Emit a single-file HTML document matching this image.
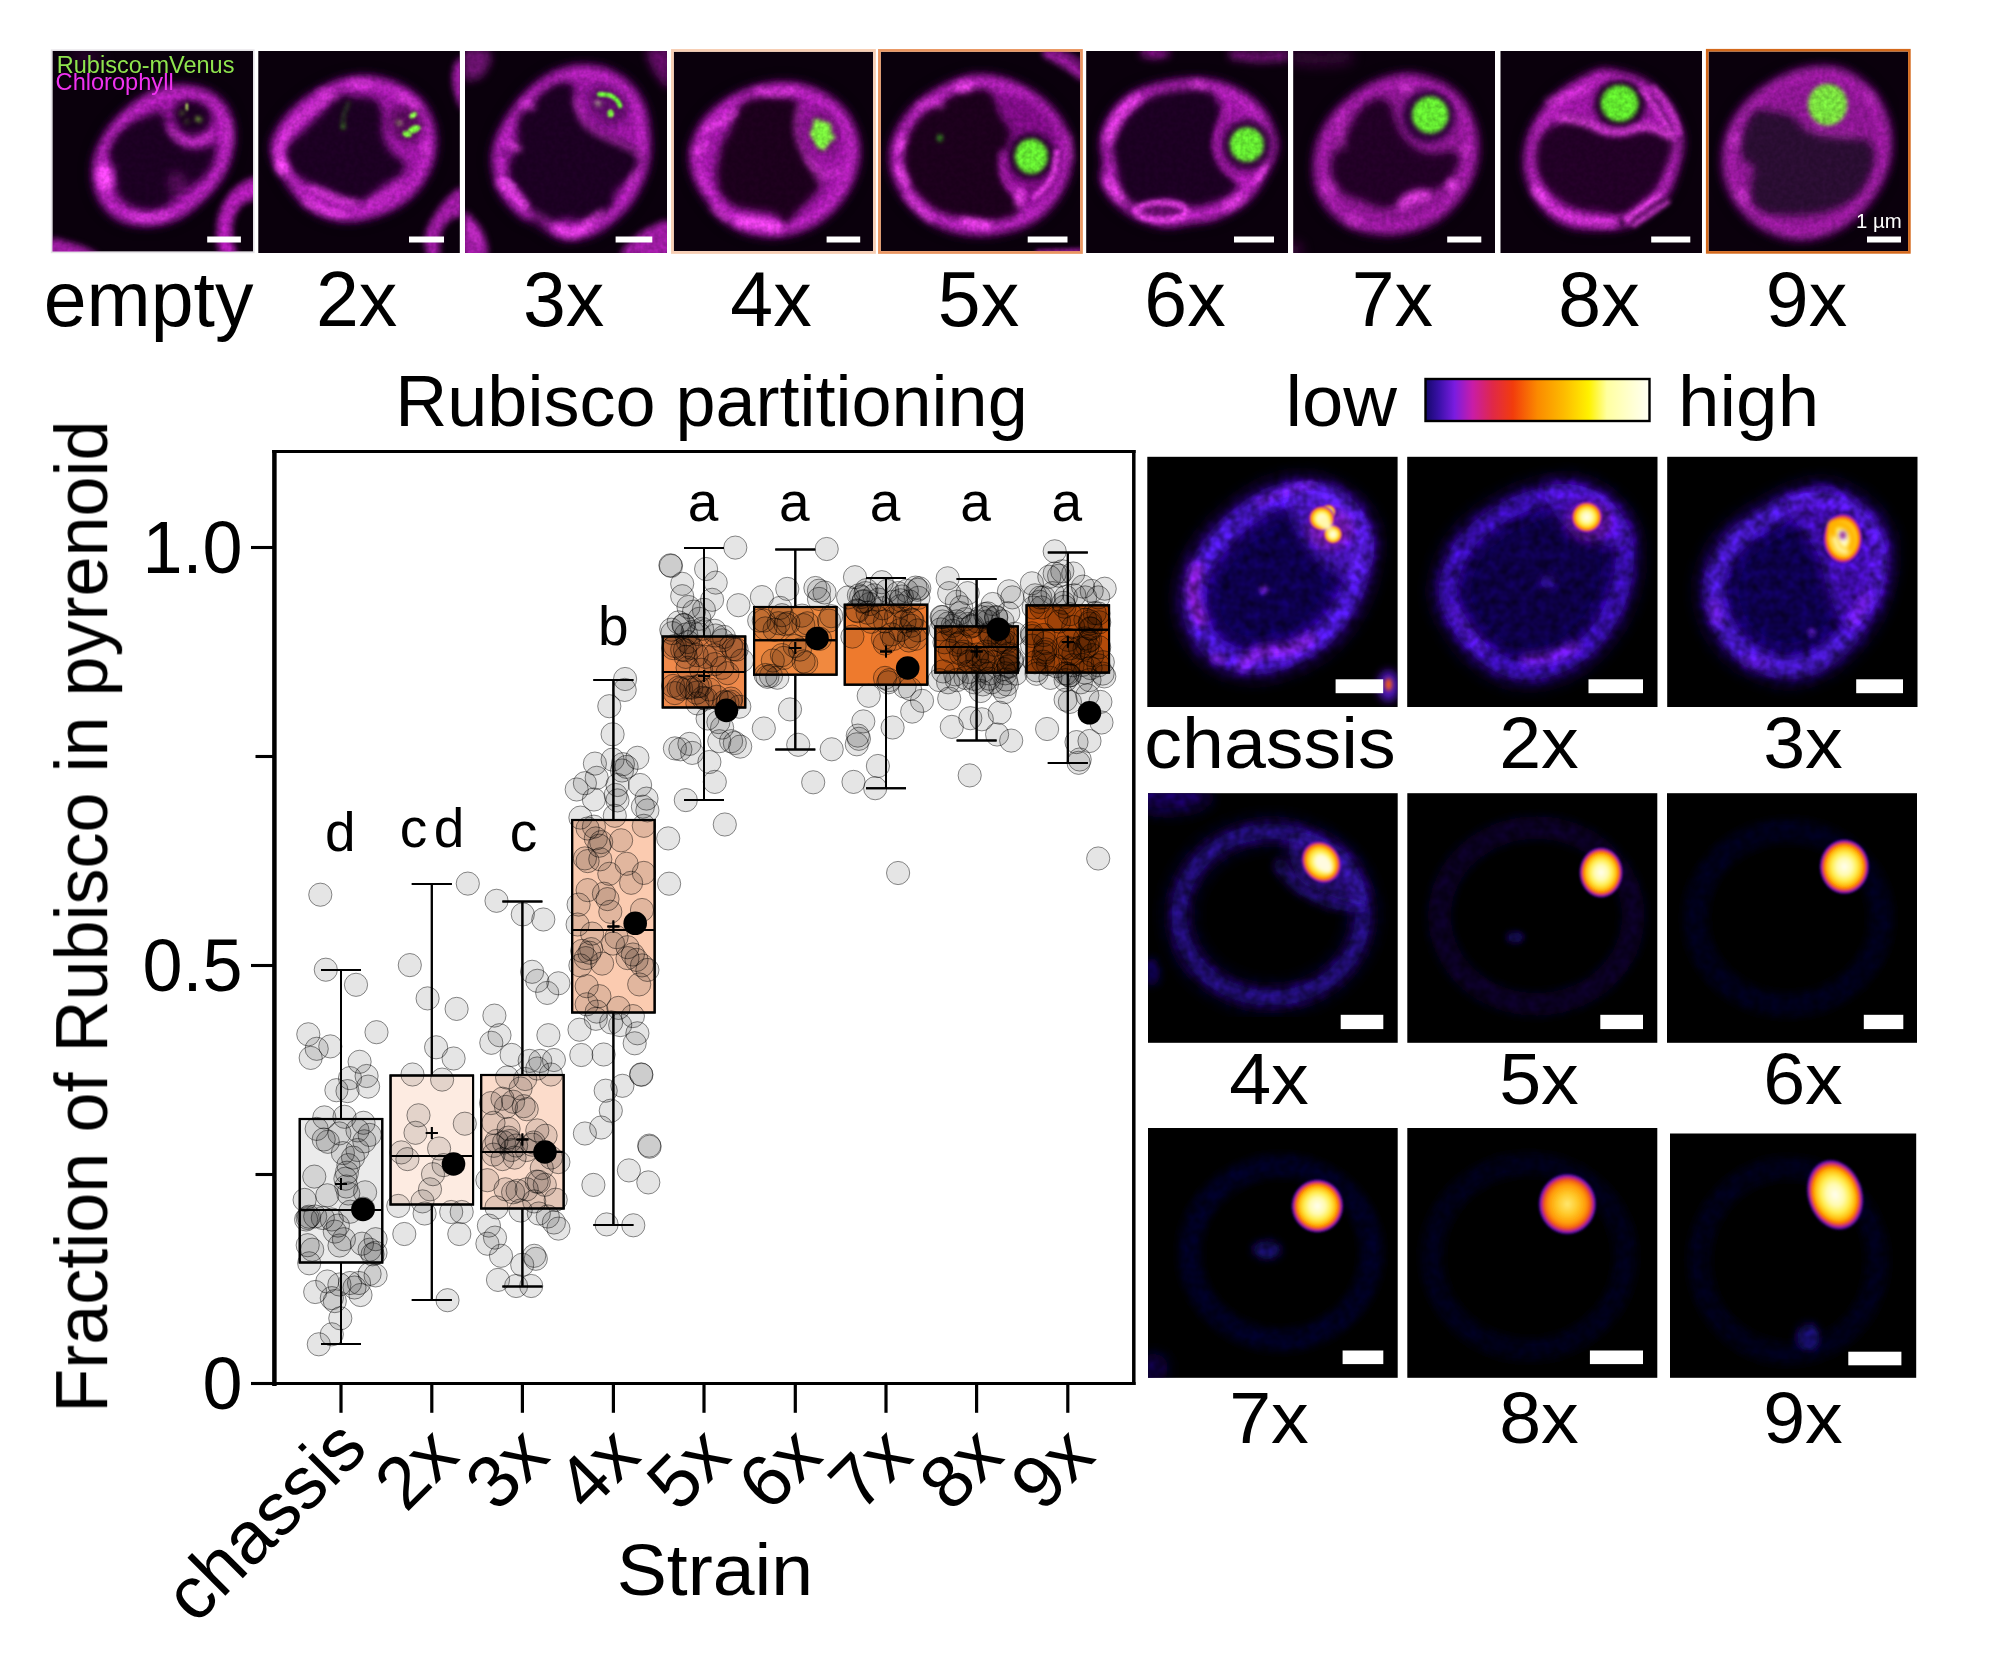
<!DOCTYPE html>
<html lang="en"><head><meta charset="utf-8"><title>Rubisco partitioning</title>
<style>html,body{margin:0;padding:0;background:#fff}svg{display:block}</style></head>
<body>
<svg width="2000" height="1655" viewBox="0 0 2000 1655" font-family='"Liberation Sans", Arial, sans-serif' fill="#000">
<defs>
<filter id="b1" x="-20%" y="-20%" width="140%" height="140%"><feGaussianBlur stdDeviation="1"/></filter>
<filter id="b2" x="-20%" y="-20%" width="140%" height="140%"><feGaussianBlur stdDeviation="2"/></filter>
<filter id="b3" x="-20%" y="-20%" width="140%" height="140%"><feGaussianBlur stdDeviation="3"/></filter>
<filter id="b4" x="-20%" y="-20%" width="140%" height="140%"><feGaussianBlur stdDeviation="4.5"/></filter>
<filter id="b6" x="-30%" y="-30%" width="160%" height="160%"><feGaussianBlur stdDeviation="7"/></filter>
<linearGradient id="fire" x1="0" x2="1" y1="0" y2="0"><stop offset="0" stop-color="#14086a"/><stop offset="0.06" stop-color="#3a10a8"/><stop offset="0.13" stop-color="#7a1ce0"/><stop offset="0.21" stop-color="#c81ca8"/><stop offset="0.30" stop-color="#e02848"/><stop offset="0.39" stop-color="#f23c0c"/><stop offset="0.50" stop-color="#fb8a00"/><stop offset="0.62" stop-color="#fdbc00"/><stop offset="0.73" stop-color="#fff200"/><stop offset="0.81" stop-color="#ffffa0"/><stop offset="0.92" stop-color="#ffffd2"/><stop offset="1" stop-color="#fffff4"/></linearGradient>
<radialGradient id="hot"><stop offset="0" stop-color="#fffef0"/><stop offset="0.30" stop-color="#fffbb0"/><stop offset="0.50" stop-color="#ffee50"/><stop offset="0.66" stop-color="#ffc414"/><stop offset="0.76" stop-color="#ff9000"/><stop offset="0.83" stop-color="#ee4a12"/><stop offset="0.89" stop-color="#b81e90"/><stop offset="0.95" stop-color="#5a14c8" stop-opacity=".85"/><stop offset="1" stop-color="#2a0a90" stop-opacity="0"/></radialGradient>
<radialGradient id="hot2"><stop offset="0" stop-color="#ffe870"/><stop offset="0.35" stop-color="#ffc828"/><stop offset="0.60" stop-color="#ffa008"/><stop offset="0.74" stop-color="#f8700a"/><stop offset="0.82" stop-color="#e03a30"/><stop offset="0.88" stop-color="#b01c98"/><stop offset="0.94" stop-color="#5a14c8" stop-opacity=".85"/><stop offset="1" stop-color="#2a0a90" stop-opacity="0"/></radialGradient>
</defs>
<rect width="2000" height="1655" fill="#fff"/>
<defs>
<clipPath id="tc0"><rect x="52.4" y="51" width="200.6" height="200.6"/></clipPath>
<filter id="t0b1" filterUnits="userSpaceOnUse" x="22" y="21" width="261" height="261"><feGaussianBlur stdDeviation="1"/></filter><filter id="t0b2" filterUnits="userSpaceOnUse" x="22" y="21" width="261" height="261"><feGaussianBlur stdDeviation="2"/></filter><filter id="t0b3" filterUnits="userSpaceOnUse" x="22" y="21" width="261" height="261"><feGaussianBlur stdDeviation="3"/></filter><filter id="t0b4" filterUnits="userSpaceOnUse" x="22" y="21" width="261" height="261"><feGaussianBlur stdDeviation="4.5"/></filter><filter id="t0b6" filterUnits="userSpaceOnUse" x="22" y="21" width="261" height="261"><feGaussianBlur stdDeviation="7"/></filter>
<filter id="tgr0" filterUnits="userSpaceOnUse" x="50" y="49" width="205" height="205" color-interpolation-filters="sRGB"><feTurbulence type="fractalNoise" baseFrequency="0.22" numOctaves="2" seed="11" result="n"/><feColorMatrix in="n" type="matrix" values="0 0 0 0 1 0 0 0 0 1 0 0 0 0 1 1.4 0 0 0 -0.2" result="a"/><feComposite in="SourceGraphic" in2="a" operator="arithmetic" k1="0.3" k2="0.85" k3="0" k4="0"/></filter>
<clipPath id="tc1"><rect x="258.3" y="51" width="201.5" height="202.0"/></clipPath>
<filter id="t1b1" filterUnits="userSpaceOnUse" x="228" y="21" width="262" height="262"><feGaussianBlur stdDeviation="1"/></filter><filter id="t1b2" filterUnits="userSpaceOnUse" x="228" y="21" width="262" height="262"><feGaussianBlur stdDeviation="2"/></filter><filter id="t1b3" filterUnits="userSpaceOnUse" x="228" y="21" width="262" height="262"><feGaussianBlur stdDeviation="3"/></filter><filter id="t1b4" filterUnits="userSpaceOnUse" x="228" y="21" width="262" height="262"><feGaussianBlur stdDeviation="4.5"/></filter><filter id="t1b6" filterUnits="userSpaceOnUse" x="228" y="21" width="262" height="262"><feGaussianBlur stdDeviation="7"/></filter>
<filter id="tgr1" filterUnits="userSpaceOnUse" x="256" y="49" width="206" height="206" color-interpolation-filters="sRGB"><feTurbulence type="fractalNoise" baseFrequency="0.22" numOctaves="2" seed="12" result="n"/><feColorMatrix in="n" type="matrix" values="0 0 0 0 1 0 0 0 0 1 0 0 0 0 1 1.4 0 0 0 -0.2" result="a"/><feComposite in="SourceGraphic" in2="a" operator="arithmetic" k1="0.3" k2="0.85" k3="0" k4="0"/></filter>
<clipPath id="tc2"><rect x="465" y="51" width="202.0" height="202.0"/></clipPath>
<filter id="t2b1" filterUnits="userSpaceOnUse" x="435" y="21" width="262" height="262"><feGaussianBlur stdDeviation="1"/></filter><filter id="t2b2" filterUnits="userSpaceOnUse" x="435" y="21" width="262" height="262"><feGaussianBlur stdDeviation="2"/></filter><filter id="t2b3" filterUnits="userSpaceOnUse" x="435" y="21" width="262" height="262"><feGaussianBlur stdDeviation="3"/></filter><filter id="t2b4" filterUnits="userSpaceOnUse" x="435" y="21" width="262" height="262"><feGaussianBlur stdDeviation="4.5"/></filter><filter id="t2b6" filterUnits="userSpaceOnUse" x="435" y="21" width="262" height="262"><feGaussianBlur stdDeviation="7"/></filter>
<filter id="tgr2" filterUnits="userSpaceOnUse" x="463" y="49" width="206" height="206" color-interpolation-filters="sRGB"><feTurbulence type="fractalNoise" baseFrequency="0.22" numOctaves="2" seed="13" result="n"/><feColorMatrix in="n" type="matrix" values="0 0 0 0 1 0 0 0 0 1 0 0 0 0 1 1.4 0 0 0 -0.2" result="a"/><feComposite in="SourceGraphic" in2="a" operator="arithmetic" k1="0.3" k2="0.85" k3="0" k4="0"/></filter>
<clipPath id="tc3"><rect x="673.7" y="51.7" width="199.4" height="199.4"/></clipPath>
<filter id="t3b1" filterUnits="userSpaceOnUse" x="644" y="22" width="259" height="259"><feGaussianBlur stdDeviation="1"/></filter><filter id="t3b2" filterUnits="userSpaceOnUse" x="644" y="22" width="259" height="259"><feGaussianBlur stdDeviation="2"/></filter><filter id="t3b3" filterUnits="userSpaceOnUse" x="644" y="22" width="259" height="259"><feGaussianBlur stdDeviation="3"/></filter><filter id="t3b4" filterUnits="userSpaceOnUse" x="644" y="22" width="259" height="259"><feGaussianBlur stdDeviation="4.5"/></filter><filter id="t3b6" filterUnits="userSpaceOnUse" x="644" y="22" width="259" height="259"><feGaussianBlur stdDeviation="7"/></filter>
<filter id="tgr3" filterUnits="userSpaceOnUse" x="672" y="50" width="203" height="203" color-interpolation-filters="sRGB"><feTurbulence type="fractalNoise" baseFrequency="0.22" numOctaves="2" seed="14" result="n"/><feColorMatrix in="n" type="matrix" values="0 0 0 0 1 0 0 0 0 1 0 0 0 0 1 1.4 0 0 0 -0.2" result="a"/><feComposite in="SourceGraphic" in2="a" operator="arithmetic" k1="0.3" k2="0.85" k3="0" k4="0"/></filter>
<clipPath id="tc4"><rect x="880.7" y="51.7" width="199.4" height="199.4"/></clipPath>
<filter id="t4b1" filterUnits="userSpaceOnUse" x="851" y="22" width="259" height="259"><feGaussianBlur stdDeviation="1"/></filter><filter id="t4b2" filterUnits="userSpaceOnUse" x="851" y="22" width="259" height="259"><feGaussianBlur stdDeviation="2"/></filter><filter id="t4b3" filterUnits="userSpaceOnUse" x="851" y="22" width="259" height="259"><feGaussianBlur stdDeviation="3"/></filter><filter id="t4b4" filterUnits="userSpaceOnUse" x="851" y="22" width="259" height="259"><feGaussianBlur stdDeviation="4.5"/></filter><filter id="t4b6" filterUnits="userSpaceOnUse" x="851" y="22" width="259" height="259"><feGaussianBlur stdDeviation="7"/></filter>
<filter id="tgr4" filterUnits="userSpaceOnUse" x="879" y="50" width="203" height="203" color-interpolation-filters="sRGB"><feTurbulence type="fractalNoise" baseFrequency="0.22" numOctaves="2" seed="15" result="n"/><feColorMatrix in="n" type="matrix" values="0 0 0 0 1 0 0 0 0 1 0 0 0 0 1 1.4 0 0 0 -0.2" result="a"/><feComposite in="SourceGraphic" in2="a" operator="arithmetic" k1="0.3" k2="0.85" k3="0" k4="0"/></filter>
<clipPath id="tc5"><rect x="1086.2" y="51" width="201.8" height="202.0"/></clipPath>
<filter id="t5b1" filterUnits="userSpaceOnUse" x="1056" y="21" width="262" height="262"><feGaussianBlur stdDeviation="1"/></filter><filter id="t5b2" filterUnits="userSpaceOnUse" x="1056" y="21" width="262" height="262"><feGaussianBlur stdDeviation="2"/></filter><filter id="t5b3" filterUnits="userSpaceOnUse" x="1056" y="21" width="262" height="262"><feGaussianBlur stdDeviation="3"/></filter><filter id="t5b4" filterUnits="userSpaceOnUse" x="1056" y="21" width="262" height="262"><feGaussianBlur stdDeviation="4.5"/></filter><filter id="t5b6" filterUnits="userSpaceOnUse" x="1056" y="21" width="262" height="262"><feGaussianBlur stdDeviation="7"/></filter>
<filter id="tgr5" filterUnits="userSpaceOnUse" x="1084" y="49" width="206" height="206" color-interpolation-filters="sRGB"><feTurbulence type="fractalNoise" baseFrequency="0.22" numOctaves="2" seed="16" result="n"/><feColorMatrix in="n" type="matrix" values="0 0 0 0 1 0 0 0 0 1 0 0 0 0 1 1.4 0 0 0 -0.2" result="a"/><feComposite in="SourceGraphic" in2="a" operator="arithmetic" k1="0.3" k2="0.85" k3="0" k4="0"/></filter>
<clipPath id="tc6"><rect x="1293.2" y="51" width="201.8" height="202.0"/></clipPath>
<filter id="t6b1" filterUnits="userSpaceOnUse" x="1263" y="21" width="262" height="262"><feGaussianBlur stdDeviation="1"/></filter><filter id="t6b2" filterUnits="userSpaceOnUse" x="1263" y="21" width="262" height="262"><feGaussianBlur stdDeviation="2"/></filter><filter id="t6b3" filterUnits="userSpaceOnUse" x="1263" y="21" width="262" height="262"><feGaussianBlur stdDeviation="3"/></filter><filter id="t6b4" filterUnits="userSpaceOnUse" x="1263" y="21" width="262" height="262"><feGaussianBlur stdDeviation="4.5"/></filter><filter id="t6b6" filterUnits="userSpaceOnUse" x="1263" y="21" width="262" height="262"><feGaussianBlur stdDeviation="7"/></filter>
<filter id="tgr6" filterUnits="userSpaceOnUse" x="1291" y="49" width="206" height="206" color-interpolation-filters="sRGB"><feTurbulence type="fractalNoise" baseFrequency="0.22" numOctaves="2" seed="17" result="n"/><feColorMatrix in="n" type="matrix" values="0 0 0 0 1 0 0 0 0 1 0 0 0 0 1 1.4 0 0 0 -0.2" result="a"/><feComposite in="SourceGraphic" in2="a" operator="arithmetic" k1="0.3" k2="0.85" k3="0" k4="0"/></filter>
<clipPath id="tc7"><rect x="1500.5" y="51" width="201.5" height="202.0"/></clipPath>
<filter id="t7b1" filterUnits="userSpaceOnUse" x="1470" y="21" width="262" height="262"><feGaussianBlur stdDeviation="1"/></filter><filter id="t7b2" filterUnits="userSpaceOnUse" x="1470" y="21" width="262" height="262"><feGaussianBlur stdDeviation="2"/></filter><filter id="t7b3" filterUnits="userSpaceOnUse" x="1470" y="21" width="262" height="262"><feGaussianBlur stdDeviation="3"/></filter><filter id="t7b4" filterUnits="userSpaceOnUse" x="1470" y="21" width="262" height="262"><feGaussianBlur stdDeviation="4.5"/></filter><filter id="t7b6" filterUnits="userSpaceOnUse" x="1470" y="21" width="262" height="262"><feGaussianBlur stdDeviation="7"/></filter>
<filter id="tgr7" filterUnits="userSpaceOnUse" x="1498" y="49" width="206" height="206" color-interpolation-filters="sRGB"><feTurbulence type="fractalNoise" baseFrequency="0.22" numOctaves="2" seed="18" result="n"/><feColorMatrix in="n" type="matrix" values="0 0 0 0 1 0 0 0 0 1 0 0 0 0 1 1.4 0 0 0 -0.2" result="a"/><feComposite in="SourceGraphic" in2="a" operator="arithmetic" k1="0.3" k2="0.85" k3="0" k4="0"/></filter>
<clipPath id="tc8"><rect x="1708.5" y="51.5" width="199.6" height="199.6"/></clipPath>
<filter id="t8b1" filterUnits="userSpaceOnUse" x="1678" y="22" width="260" height="260"><feGaussianBlur stdDeviation="1"/></filter><filter id="t8b2" filterUnits="userSpaceOnUse" x="1678" y="22" width="260" height="260"><feGaussianBlur stdDeviation="2"/></filter><filter id="t8b3" filterUnits="userSpaceOnUse" x="1678" y="22" width="260" height="260"><feGaussianBlur stdDeviation="3"/></filter><filter id="t8b4" filterUnits="userSpaceOnUse" x="1678" y="22" width="260" height="260"><feGaussianBlur stdDeviation="4.5"/></filter><filter id="t8b6" filterUnits="userSpaceOnUse" x="1678" y="22" width="260" height="260"><feGaussianBlur stdDeviation="7"/></filter>
<filter id="tgr8" filterUnits="userSpaceOnUse" x="1706" y="50" width="204" height="204" color-interpolation-filters="sRGB"><feTurbulence type="fractalNoise" baseFrequency="0.22" numOctaves="2" seed="19" result="n"/><feColorMatrix in="n" type="matrix" values="0 0 0 0 1 0 0 0 0 1 0 0 0 0 1 1.4 0 0 0 -0.2" result="a"/><feComposite in="SourceGraphic" in2="a" operator="arithmetic" k1="0.3" k2="0.85" k3="0" k4="0"/></filter>
</defs>
<rect x="52.4" y="51" width="200.6" height="200.6" fill="#0a000c"/>
<g clip-path="url(#tc0)">
<g filter="url(#tgr0)">
<path d="M257.2 177.4C253.4 176.1 240.3 183.3 234.2 188.7C228.1 194.0 223.4 202.1 220.5 209.8C217.6 217.5 216.6 227.0 216.8 234.7C217.0 242.4 218.5 252.3 221.8 255.9C225.1 259.4 234.8 258.1 236.7 255.9C238.6 253.6 233.6 247.8 233.0 242.2C232.4 236.6 231.5 228.5 233.0 222.3C234.4 216.0 237.6 209.1 241.7 204.8C245.7 200.6 254.7 201.3 257.2 196.7C259.8 192.2 261.1 178.8 257.2 177.4Z" fill="#b81cbe" fill-opacity="0.95" filter="url(#t0b3)" />
<path d="M51.2 239.1C54.1 236.8 62.7 240.6 68.7 242.2C74.7 243.7 82.8 246.1 87.3 248.4C91.9 250.7 102.1 254.6 96.1 255.9C90.0 257.1 58.7 258.7 51.2 255.9C43.8 253.1 48.3 241.3 51.2 239.1Z" fill="#b81cbe" fill-opacity="0.85" filter="url(#t0b3)" />
<ellipse cx="87.3" cy="56.7" rx="16.2" ry="5.0" fill="#b81cbe" fill-opacity="0.28" filter="url(#t0b6)"/>
<path d="M174.5 85.3C181.9 84.5 189.8 84.9 196.9 86.6C203.9 88.2 211.4 91.4 216.8 95.3C222.2 99.2 226.3 104.4 229.2 110.2C232.1 116.0 233.6 123.5 234.2 130.2C234.8 136.8 234.2 143.4 233.0 150.1C231.7 156.7 229.7 163.8 226.7 170.0C223.8 176.2 220.1 181.8 215.5 187.4C211.0 193.0 205.2 198.6 199.4 203.6C193.6 208.6 187.3 213.8 180.7 217.3C174.1 220.8 166.8 223.4 159.5 224.7C152.3 226.1 144.2 226.2 137.1 225.4C130.1 224.5 123.0 223.0 117.2 219.8C111.4 216.6 106.0 211.1 102.3 206.1C98.5 201.1 96.5 195.5 94.8 189.9C93.1 184.3 92.3 178.3 92.3 172.5C92.3 166.7 93.1 160.9 94.8 155.0C96.5 149.2 99.0 143.4 102.3 137.6C105.6 131.8 109.7 125.8 114.7 120.2C119.7 114.6 125.9 108.8 132.2 104.0C138.4 99.2 145.0 94.7 152.1 91.6C159.1 88.5 167.0 86.2 174.5 85.3Z" fill="#3a0a42" fill-opacity="0.5" filter="url(#t0b6)" />
<path d="M174.5 85.3C181.9 84.5 189.8 84.9 196.9 86.6C203.9 88.2 211.4 91.4 216.8 95.3C222.2 99.2 226.3 104.4 229.2 110.2C232.1 116.0 233.6 123.5 234.2 130.2C234.8 136.8 234.2 143.4 233.0 150.1C231.7 156.7 229.7 163.8 226.7 170.0C223.8 176.2 220.1 181.8 215.5 187.4C211.0 193.0 205.2 198.6 199.4 203.6C193.6 208.6 187.3 213.8 180.7 217.3C174.1 220.8 166.8 223.4 159.5 224.7C152.3 226.1 144.2 226.2 137.1 225.4C130.1 224.5 123.0 223.0 117.2 219.8C111.4 216.6 106.0 211.1 102.3 206.1C98.5 201.1 96.5 195.5 94.8 189.9C93.1 184.3 92.3 178.3 92.3 172.5C92.3 166.7 93.1 160.9 94.8 155.0C96.5 149.2 99.0 143.4 102.3 137.6C105.6 131.8 109.7 125.8 114.7 120.2C119.7 114.6 125.9 108.8 132.2 104.0C138.4 99.2 145.0 94.7 152.1 91.6C159.1 88.5 167.0 86.2 174.5 85.3Z" fill="#1c0322" fill-opacity="1" filter="url(#t0b4)" />
<path d="M174.3 86.4C181.6 85.6 189.4 86.0 196.4 87.6C203.3 89.3 210.7 92.3 216.0 96.2C221.3 100.1 225.4 105.2 228.2 110.9C231.1 116.6 232.5 124.0 233.1 130.5C233.7 137.1 233.1 143.6 231.9 150.2C230.7 156.7 228.6 163.6 225.8 169.8C222.9 175.9 219.2 181.4 214.7 186.9C210.3 192.5 204.5 198.0 198.8 202.9C193.1 207.8 187.0 212.9 180.4 216.4C173.9 219.8 166.7 222.4 159.6 223.7C152.4 225.1 144.5 225.2 137.5 224.3C130.6 223.5 123.6 222.0 117.9 218.8C112.2 215.7 106.9 210.2 103.2 205.3C99.5 200.4 97.5 194.9 95.8 189.4C94.2 183.9 93.4 178.0 93.4 172.2C93.4 166.5 94.2 160.8 95.8 155.1C97.5 149.3 99.9 143.6 103.2 137.9C106.4 132.2 110.5 126.3 115.4 120.7C120.3 115.2 126.5 109.5 132.6 104.8C138.7 100.1 145.3 95.6 152.2 92.5C159.2 89.5 166.9 87.2 174.3 86.4ZM146.4 116.0C151.7 114.2 159.0 110.5 162.4 112.0C165.7 113.6 164.4 120.9 166.4 125.3C168.4 129.8 170.6 134.9 174.4 138.7C178.1 142.4 183.5 146.7 189.0 148.0C194.6 149.3 203.2 147.5 207.7 146.7C212.1 145.8 214.5 140.4 215.7 142.7C216.8 144.9 216.1 154.4 214.3 160.0C212.5 165.5 209.2 171.3 205.0 176.0C200.8 180.6 193.7 184.4 189.0 187.9C184.4 191.5 181.5 193.9 177.0 197.3C172.6 200.6 167.5 205.7 162.4 207.9C157.3 210.1 151.9 211.0 146.4 210.6C140.8 210.1 134.0 208.1 129.1 205.3C124.2 202.4 119.4 197.3 117.1 193.3C114.8 189.3 115.5 185.5 115.1 181.3C114.7 177.1 115.5 172.0 114.4 168.0C113.3 164.0 109.3 160.9 108.4 157.3C107.5 153.8 107.7 150.6 109.1 146.7C110.5 142.7 113.5 137.3 117.1 133.3C120.6 129.3 125.5 125.6 130.4 122.7C135.3 119.8 141.1 117.8 146.4 116.0ZM178.6 103.1C181.5 101.1 186.4 99.1 190.6 99.1C194.8 99.1 200.4 100.5 203.9 103.1C207.5 105.8 211.3 110.9 211.9 115.1C212.6 119.3 210.6 125.1 207.9 128.4C205.3 131.8 200.2 134.4 196.0 135.1C191.7 135.8 186.2 134.7 182.6 132.4C179.1 130.2 176.2 125.3 174.6 121.8C173.1 118.2 172.6 114.2 173.3 111.1C174.0 108.0 175.8 105.1 178.6 103.1Z" fill="#9c18a4" fill-opacity="1" filter="url(#t0b4)" fill-rule="evenodd"/>
<path d="M173.2 92.4C180.0 91.7 187.1 92.1 193.4 93.6C199.8 95.1 206.5 97.9 211.3 101.4C216.2 104.9 219.9 109.6 222.5 114.8C225.1 120.1 226.5 126.8 227.0 132.8C227.6 138.7 227.0 144.7 225.9 150.7C224.8 156.7 222.9 163.0 220.3 168.6C217.7 174.2 214.3 179.3 210.2 184.3C206.1 189.3 200.9 194.4 195.6 198.9C190.4 203.3 184.8 208.0 178.8 211.2C172.9 214.4 166.3 216.7 159.8 217.9C153.3 219.1 146.0 219.2 139.6 218.5C133.3 217.7 126.9 216.3 121.7 213.4C116.5 210.5 111.6 205.6 108.3 201.1C104.9 196.6 103.0 191.6 101.5 186.5C100.1 181.5 99.3 176.1 99.3 170.9C99.3 165.6 100.1 160.4 101.5 155.2C103.0 149.9 105.3 144.7 108.3 139.5C111.3 134.3 115.0 128.8 119.5 123.8C124.0 118.8 129.6 113.5 135.2 109.2C140.8 104.9 146.7 100.8 153.1 98.0C159.4 95.2 166.5 93.2 173.2 92.4Z" fill="none" stroke="#ee38f0" stroke-width="5.5" stroke-opacity="0.62" stroke-linecap="round" stroke-linejoin="round" filter="url(#t0b4)"/>
<path d="M169.5 173.7C171.8 170.6 178.8 170.6 181.9 172.5C185.1 174.3 188.6 180.6 188.2 184.9C187.7 189.3 182.8 197.6 179.4 198.6C176.1 199.6 169.9 195.3 168.2 191.1C166.6 187.0 167.2 176.8 169.5 173.7Z" fill="#b81cbe" fill-opacity="0.3" filter="url(#t0b4)" />
<ellipse cx="104.8" cy="177.4" rx="7.7" ry="13.1" fill="#ff4cfc" fill-opacity="1" filter="url(#t0b3)" transform="rotate(-12 104.8 177.4)"/>
<path d="M169.5 128.9C171.4 130.8 176.1 137.8 180.7 140.1C185.3 142.4 191.9 143.4 196.9 142.6C201.9 141.8 208.3 136.4 210.6 135.1" fill="none" stroke="#ff4cfc" stroke-width="5.0" stroke-opacity="0.55" stroke-linecap="round" stroke-linejoin="round" filter="url(#t0b3)"/>
<path d="M132.2 216.0C135.1 216.5 144.0 218.7 149.6 218.5C155.2 218.3 163.1 215.4 165.8 214.8" fill="none" stroke="#ff4cfc" stroke-width="7.5" stroke-opacity="0.45" stroke-linecap="round" stroke-linejoin="round" filter="url(#t0b3)"/>
<path d="M229.2 122.7C229.2 126.4 229.2 141.4 229.2 145.1" fill="none" stroke="#ff4cfc" stroke-width="4.5" stroke-opacity="0.35" stroke-linecap="round" stroke-linejoin="round" filter="url(#t0b3)"/>
<ellipse cx="186.9" cy="106.8" rx="1.2" ry="4.0" fill="#c8f46a" fill-opacity="1" filter="url(#t0b1)"/>
<ellipse cx="181.9" cy="113.0" rx="2.7" ry="1.5" fill="#74a834" fill-opacity="0.8" filter="url(#t0b2)" transform="rotate(-30 181.9 113.0)"/>
<ellipse cx="198.4" cy="119.2" rx="3.2" ry="2.2" fill="#86c83c" fill-opacity="0.9" filter="url(#t0b2)" transform="rotate(20 198.4 119.2)"/>
<ellipse cx="186.9" cy="121.4" rx="1.7" ry="2.2" fill="#6a9a30" fill-opacity="0.6" filter="url(#t0b2)"/>
</g>
<rect x="207.2" y="236.5" width="33.7" height="6" fill="#fff"/>
</g>
<rect x="51.6" y="50.2" width="202.2" height="202.2" fill="none" stroke="#e4e2e6" stroke-width="1.6"/>
<rect x="258.3" y="51" width="201.5" height="202.0" fill="#0a000c"/>
<g clip-path="url(#tc1)">
<g filter="url(#tgr1)">
<path d="M455.2 64.2C456.9 60.9 461.9 53.2 463.2 60.4C464.6 67.7 464.4 101.5 463.2 107.7C462.1 114.0 458.2 102.4 456.4 97.8C454.6 93.2 452.9 86.0 452.7 80.4C452.5 74.8 453.4 67.5 455.2 64.2Z" fill="#b81cbe" fill-opacity="0.9" filter="url(#t1b3)" />
<path d="M463.2 188.7C461.1 185.5 454.8 190.7 450.2 194.9C445.5 199.0 439.4 206.9 435.2 213.5C431.1 220.2 426.5 227.7 425.3 234.7C424.0 241.8 425.5 252.3 427.8 255.9C430.1 259.4 436.9 259.4 439.0 255.9C441.0 252.3 438.4 240.7 440.2 234.7C442.1 228.7 446.3 223.3 450.2 219.8C454.0 216.2 461.1 218.7 463.2 213.5C465.4 208.4 465.4 191.8 463.2 188.7Z" fill="#b81cbe" fill-opacity="0.85" filter="url(#t1b3)" />
<path d="M361.8 75.4C368.9 75.2 376.1 76.2 383.0 77.9C389.8 79.5 396.7 82.0 402.9 85.3C409.1 88.7 415.5 92.8 420.3 97.8C425.1 102.8 428.8 109.0 431.5 115.2C434.2 121.4 435.9 128.3 436.5 135.1C437.1 142.0 436.7 149.4 435.2 156.3C433.8 163.1 431.1 170.0 427.8 176.2C424.5 182.4 420.3 188.4 415.3 193.6C410.3 198.8 404.1 203.6 397.9 207.3C391.7 211.1 384.6 213.8 378.0 216.0C371.3 218.3 364.7 220.2 358.1 221.0C351.4 221.8 344.8 222.1 338.2 221.0C331.5 220.0 324.3 217.7 318.2 214.8C312.2 211.9 306.8 207.9 302.1 203.6C297.3 199.2 293.3 193.8 289.6 188.7C285.9 183.5 282.6 177.7 279.6 172.5C276.7 167.3 273.6 162.5 272.2 157.5C270.7 152.6 270.1 147.6 270.9 142.6C271.8 137.6 274.3 132.6 277.2 127.7C280.1 122.7 284.0 117.5 288.4 112.7C292.7 108.0 297.9 103.2 303.3 99.0C308.7 94.9 314.5 91.1 320.7 87.8C326.9 84.5 333.8 81.2 340.6 79.1C347.5 77.0 354.7 75.6 361.8 75.4Z" fill="#3a0a42" fill-opacity="0.5" filter="url(#t1b6)" />
<path d="M361.8 75.4C368.9 75.2 376.1 76.2 383.0 77.9C389.8 79.5 396.7 82.0 402.9 85.3C409.1 88.7 415.5 92.8 420.3 97.8C425.1 102.8 428.8 109.0 431.5 115.2C434.2 121.4 435.9 128.3 436.5 135.1C437.1 142.0 436.7 149.4 435.2 156.3C433.8 163.1 431.1 170.0 427.8 176.2C424.5 182.4 420.3 188.4 415.3 193.6C410.3 198.8 404.1 203.6 397.9 207.3C391.7 211.1 384.6 213.8 378.0 216.0C371.3 218.3 364.7 220.2 358.1 221.0C351.4 221.8 344.8 222.1 338.2 221.0C331.5 220.0 324.3 217.7 318.2 214.8C312.2 211.9 306.8 207.9 302.1 203.6C297.3 199.2 293.3 193.8 289.6 188.7C285.9 183.5 282.6 177.7 279.6 172.5C276.7 167.3 273.6 162.5 272.2 157.5C270.7 152.6 270.1 147.6 270.9 142.6C271.8 137.6 274.3 132.6 277.2 127.7C280.1 122.7 284.0 117.5 288.4 112.7C292.7 108.0 297.9 103.2 303.3 99.0C308.7 94.9 314.5 91.1 320.7 87.8C326.9 84.5 333.8 81.2 340.6 79.1C347.5 77.0 354.7 75.6 361.8 75.4Z" fill="#1c0322" fill-opacity="1" filter="url(#t1b4)" />
<path d="M361.7 76.5C368.6 76.3 375.8 77.3 382.5 78.9C389.2 80.6 396.0 83.0 402.1 86.3C408.2 89.6 414.6 93.6 419.3 98.5C424.0 103.5 427.7 109.6 430.3 115.7C433.0 121.8 434.6 128.6 435.2 135.3C435.8 142.1 435.4 149.4 434.0 156.2C432.6 162.9 429.9 169.7 426.6 175.8C423.4 181.9 419.3 187.8 414.4 193.0C409.5 198.1 403.3 202.8 397.2 206.4C391.1 210.1 384.1 212.8 377.6 215.0C371.1 217.3 364.5 219.1 358.0 219.9C351.4 220.7 344.9 220.9 338.4 219.9C331.8 218.9 324.7 216.7 318.7 213.8C312.8 210.9 307.5 207.1 302.8 202.8C298.1 198.5 294.2 193.2 290.5 188.1C286.9 182.9 283.6 177.2 280.7 172.1C277.9 167.0 274.8 162.3 273.4 157.4C271.9 152.5 271.3 147.6 272.2 142.7C273.0 137.8 275.4 132.9 278.3 128.0C281.1 123.1 285.0 118.0 289.3 113.3C293.6 108.6 298.7 103.9 304.0 99.8C309.3 95.7 315.1 92.0 321.2 88.7C327.3 85.5 334.1 82.2 340.8 80.2C347.6 78.1 354.7 76.7 361.7 76.5ZM337.6 94.0C342.5 92.3 349.8 95.8 356.2 96.7C362.7 97.6 371.8 96.3 376.2 99.4C380.6 102.5 381.8 109.6 382.9 115.4C384.0 121.1 381.5 128.0 382.9 134.0C384.2 140.0 387.1 146.2 390.9 151.3C394.6 156.4 404.2 160.4 405.5 164.6C406.8 168.8 402.6 173.1 398.8 176.6C395.1 180.2 387.8 182.6 382.9 185.9C378.0 189.3 373.5 193.9 369.5 196.6C365.6 199.3 363.3 201.7 358.9 201.9C354.5 202.1 348.7 200.1 342.9 197.9C337.1 195.7 330.3 191.3 324.3 188.6C318.3 185.9 312.1 184.4 307.0 181.9C301.8 179.5 297.2 177.5 293.6 174.0C290.1 170.4 286.5 165.5 285.6 160.6C284.8 155.8 285.9 149.1 288.3 144.7C290.7 140.2 296.1 138.0 300.3 134.0C304.5 130.0 309.2 125.1 313.6 120.7C318.1 116.2 322.9 111.8 326.9 107.4C330.9 102.9 332.7 95.8 337.6 94.0Z" fill="#9c18a4" fill-opacity="1" filter="url(#t1b4)" fill-rule="evenodd"/>
<path d="M360.8 82.7C367.2 82.5 373.7 83.4 379.9 84.9C386.0 86.4 392.2 88.7 397.8 91.7C403.4 94.6 409.2 98.4 413.5 102.9C417.8 107.3 421.1 112.9 423.6 118.5C426.0 124.1 427.5 130.3 428.0 136.5C428.6 142.6 428.2 149.4 426.9 155.5C425.6 161.7 423.2 167.8 420.2 173.4C417.2 179.0 413.5 184.5 409.0 189.1C404.5 193.8 398.9 198.1 393.3 201.4C387.7 204.8 381.4 207.2 375.4 209.3C369.4 211.3 363.4 213.0 357.5 213.8C351.5 214.5 345.5 214.7 339.5 213.8C333.6 212.8 327.0 210.8 321.6 208.2C316.2 205.5 311.3 202.0 307.1 198.1C302.8 194.2 299.2 189.3 295.9 184.6C292.5 180.0 289.5 174.7 286.9 170.1C284.3 165.4 281.5 161.1 280.2 156.6C278.9 152.2 278.3 147.7 279.0 143.2C279.8 138.7 282.0 134.2 284.6 129.7C287.3 125.3 290.8 120.6 294.7 116.3C298.7 112.0 303.3 107.7 308.2 104.0C313.0 100.2 318.3 96.9 323.9 93.9C329.5 90.9 335.6 87.9 341.8 86.1C347.9 84.2 354.5 82.9 360.8 82.7Z" fill="none" stroke="#ee38f0" stroke-width="5.5" stroke-opacity="0.62" stroke-linecap="round" stroke-linejoin="round" filter="url(#t1b4)"/>
<path d="M394.2 107.7C397.7 106.3 406.8 104.8 411.6 106.5C416.4 108.2 421.1 113.3 422.8 117.7C424.5 122.1 423.2 128.5 421.5 132.6C419.9 136.8 416.6 141.4 412.8 142.6C409.1 143.8 402.9 142.6 399.1 140.1C395.4 137.6 391.9 131.8 390.4 127.7C389.0 123.5 389.8 118.5 390.4 115.2C391.1 111.9 390.6 109.2 394.2 107.7Z" fill="#1c0322" fill-opacity="0.55" filter="url(#t1b4)" />
<path d="M277.2 153.8C279.4 149.7 285.7 135.8 290.9 128.9C296.0 122.1 302.5 117.5 308.3 112.7C314.1 108.0 322.8 102.4 325.7 100.3" fill="none" stroke="#ff4cfc" stroke-width="6.2" stroke-opacity="0.6" stroke-linecap="round" stroke-linejoin="round" filter="url(#t1b3)"/>
<ellipse cx="281.5" cy="166.2" rx="6.0" ry="9.7" fill="#ff4cfc" fill-opacity="1" filter="url(#t1b3)" transform="rotate(-15 281.5 166.2)"/>
<path d="M320.7 91.6C323.2 92.6 333.2 96.8 335.7 97.8" fill="none" stroke="#ff4cfc" stroke-width="6.2" stroke-opacity="0.5" stroke-linecap="round" stroke-linejoin="round" filter="url(#t1b3)"/>
<path d="M353.1 83.5C355.6 83.8 365.5 85.0 368.0 85.3" fill="none" stroke="#ff4cfc" stroke-width="7.5" stroke-opacity="0.5" stroke-linecap="round" stroke-linejoin="round" filter="url(#t1b3)"/>
<path d="M399.1 95.3C402.0 97.2 413.7 104.6 416.6 106.5" fill="none" stroke="#ff4cfc" stroke-width="6.2" stroke-opacity="0.6" stroke-linecap="round" stroke-linejoin="round" filter="url(#t1b3)"/>
<path d="M424.7 143.8C425.0 145.5 426.4 152.1 426.8 153.8" fill="none" stroke="#ff4cfc" stroke-width="3.7" stroke-opacity="0.7" stroke-linecap="round" stroke-linejoin="round" filter="url(#t1b3)"/>
<path d="M312.0 188.7C314.3 189.7 320.5 192.8 325.7 194.9C330.9 197.0 338.2 199.8 343.1 201.1C348.1 202.4 353.5 202.3 355.6 202.6" fill="none" stroke="#ff4cfc" stroke-width="5.5" stroke-opacity="0.75" stroke-linecap="round" stroke-linejoin="round" filter="url(#t1b3)"/>
<path d="M305.8 202.3C309.1 203.8 319.5 209.0 325.7 211.1C331.9 213.1 340.2 214.2 343.1 214.8" fill="none" stroke="#ff4cfc" stroke-width="6.2" stroke-opacity="0.65" stroke-linecap="round" stroke-linejoin="round" filter="url(#t1b3)"/>
<path d="M368.0 203.6C370.9 202.1 380.1 198.2 385.4 194.9C390.8 191.6 397.9 185.5 400.4 183.7" fill="none" stroke="#ff4cfc" stroke-width="6.2" stroke-opacity="0.4" stroke-linecap="round" stroke-linejoin="round" filter="url(#t1b3)"/>
<ellipse cx="413.1" cy="115.2" rx="4.2" ry="2.7" fill="#86f048" fill-opacity="1" filter="url(#t1b1)" transform="rotate(-35 413.1 115.2)"/>
<ellipse cx="399.1" cy="122.9" rx="3.2" ry="2.2" fill="#a8c86a" fill-opacity="0.75" filter="url(#t1b2)" transform="rotate(30 399.1 122.9)"/>
<ellipse cx="414.3" cy="129.2" rx="6.5" ry="3.7" fill="#7cf040" fill-opacity="1" filter="url(#t1b1)" transform="rotate(-20 414.3 129.2)"/>
<ellipse cx="407.1" cy="134.1" rx="4.7" ry="3.2" fill="#7cf040" fill-opacity="1" filter="url(#t1b1)" transform="rotate(15 407.1 134.1)"/>
<path d="M348.7 102.8C347.9 104.8 344.7 111.1 343.8 115.2C342.8 119.4 343.2 125.6 343.1 127.7" fill="none" stroke="#3a8a24" stroke-width="3.2" stroke-opacity="0.45" stroke-linecap="round" stroke-linejoin="round" filter="url(#t1b2)"/>
<ellipse cx="343.1" cy="126.4" rx="1.5" ry="2.7" fill="#58c830" fill-opacity="0.7" filter="url(#t1b2)"/>
</g>
<rect x="409" y="236.5" width="35.0" height="6" fill="#fff"/>
</g>
<rect x="465" y="51" width="202.0" height="202.0" fill="#0a000c"/>
<g clip-path="url(#tc2)">
<g filter="url(#tgr2)">
<path d="M464.2 50.5C468.2 45.9 483.5 48.8 487.9 50.5C492.3 52.1 491.2 56.3 490.4 60.4C489.6 64.6 486.2 72.1 482.9 75.4C479.6 78.7 473.6 79.9 470.5 80.4C467.4 80.8 465.3 82.9 464.2 77.9C463.2 72.9 460.3 55.1 464.2 50.5Z" fill="#b81cbe" fill-opacity="0.55" filter="url(#t2b4)" />
<path d="M647.2 50.5C650.6 48.4 666.4 44.3 670.2 50.5C674.1 56.7 672.4 83.5 670.2 87.8C668.1 92.2 660.6 80.8 657.2 76.6C653.8 72.5 651.4 67.3 649.7 62.9C648.0 58.6 643.8 52.6 647.2 50.5Z" fill="#b81cbe" fill-opacity="0.5" filter="url(#t2b4)" />
<path d="M464.2 213.5C465.9 207.5 470.9 216.2 474.2 219.8C477.5 223.3 482.1 228.7 484.2 234.7C486.2 240.7 490.0 252.3 486.6 255.9C483.3 259.4 468.0 262.9 464.2 255.9C460.5 248.8 462.6 219.6 464.2 213.5Z" fill="#b81cbe" fill-opacity="0.85" filter="url(#t2b3)" />
<path d="M469.2 226.0C470.7 228.7 476.5 239.5 477.9 242.2" fill="none" stroke="#ff4cfc" stroke-width="4.2" stroke-opacity="0.6" stroke-linecap="round" stroke-linejoin="round" filter="url(#t2b3)"/>
<path d="M622.3 255.9C616.4 252.8 629.8 242.2 634.8 237.2C639.7 232.2 646.3 228.5 652.2 226.0C658.1 223.5 667.2 217.3 670.2 222.3C673.3 227.2 678.2 250.3 670.2 255.9C662.3 261.5 628.2 259.0 622.3 255.9Z" fill="#b81cbe" fill-opacity="0.85" filter="url(#t2b3)" />
<path d="M581.2 64.2C587.5 64.2 596.6 64.6 603.7 66.7C610.7 68.7 618.0 72.7 623.6 76.6C629.2 80.6 633.5 85.1 637.3 90.3C641.0 95.5 643.9 101.5 646.0 107.7C648.0 114.0 648.9 121.0 649.7 127.7C650.5 134.3 651.2 140.9 651.0 147.6C650.7 154.2 650.1 160.9 648.5 167.5C646.8 174.1 644.1 181.0 641.0 187.4C637.9 193.8 634.1 200.5 629.8 206.1C625.4 211.7 620.2 216.5 614.9 221.0C609.5 225.6 603.7 230.4 597.4 233.5C591.2 236.6 583.3 238.6 577.5 239.7C571.7 240.7 567.1 240.7 562.6 239.7C558.0 238.6 554.7 236.2 550.1 233.5C545.6 230.8 539.8 226.0 535.2 223.5C530.6 221.0 526.5 220.8 522.7 218.5C519.0 216.2 516.5 213.8 512.8 209.8C509.1 205.9 503.5 200.3 500.3 194.9C497.2 189.5 495.6 183.3 494.1 177.4C492.7 171.6 491.6 165.8 491.6 160.0C491.6 154.2 492.7 148.0 494.1 142.6C495.6 137.2 497.9 132.6 500.3 127.7C502.8 122.7 505.7 117.7 509.1 112.7C512.4 107.7 516.1 102.6 520.3 97.8C524.4 93.0 529.0 88.2 533.9 84.1C538.9 79.9 544.7 75.8 550.1 72.9C555.5 70.0 561.1 68.1 566.3 66.7C571.5 65.2 575.0 64.2 581.2 64.2Z" fill="#3a0a42" fill-opacity="0.5" filter="url(#t2b6)" />
<path d="M581.2 64.2C587.5 64.2 596.6 64.6 603.7 66.7C610.7 68.7 618.0 72.7 623.6 76.6C629.2 80.6 633.5 85.1 637.3 90.3C641.0 95.5 643.9 101.5 646.0 107.7C648.0 114.0 648.9 121.0 649.7 127.7C650.5 134.3 651.2 140.9 651.0 147.6C650.7 154.2 650.1 160.9 648.5 167.5C646.8 174.1 644.1 181.0 641.0 187.4C637.9 193.8 634.1 200.5 629.8 206.1C625.4 211.7 620.2 216.5 614.9 221.0C609.5 225.6 603.7 230.4 597.4 233.5C591.2 236.6 583.3 238.6 577.5 239.7C571.7 240.7 567.1 240.7 562.6 239.7C558.0 238.6 554.7 236.2 550.1 233.5C545.6 230.8 539.8 226.0 535.2 223.5C530.6 221.0 526.5 220.8 522.7 218.5C519.0 216.2 516.5 213.8 512.8 209.8C509.1 205.9 503.5 200.3 500.3 194.9C497.2 189.5 495.6 183.3 494.1 177.4C492.7 171.6 491.6 165.8 491.6 160.0C491.6 154.2 492.7 148.0 494.1 142.6C495.6 137.2 497.9 132.6 500.3 127.7C502.8 122.7 505.7 117.7 509.1 112.7C512.4 107.7 516.1 102.6 520.3 97.8C524.4 93.0 529.0 88.2 533.9 84.1C538.9 79.9 544.7 75.8 550.1 72.9C555.5 70.0 561.1 68.1 566.3 66.7C571.5 65.2 575.0 64.2 581.2 64.2Z" fill="#1c0322" fill-opacity="1" filter="url(#t2b4)" />
<path d="M581.1 65.5C587.2 65.5 596.2 65.9 603.1 68.0C610.1 70.0 617.2 73.9 622.8 77.8C628.3 81.7 632.6 86.2 636.2 91.3C639.9 96.4 642.8 102.3 644.8 108.4C646.9 114.6 647.7 121.5 648.5 128.0C649.3 134.6 649.9 141.1 649.7 147.7C649.5 154.2 648.9 160.7 647.3 167.3C645.6 173.8 643.0 180.6 639.9 186.9C636.9 193.2 633.2 199.8 628.9 205.3C624.6 210.8 619.5 215.5 614.2 220.0C608.9 224.5 603.1 229.2 597.0 232.3C590.9 235.3 583.1 237.4 577.4 238.4C571.7 239.4 567.2 239.4 562.7 238.4C558.2 237.4 554.9 234.9 550.4 232.3C545.9 229.6 540.2 224.9 535.7 222.5C531.2 220.0 527.1 219.8 523.4 217.5C519.8 215.3 517.3 212.8 513.6 209.0C510.0 205.1 504.4 199.6 501.4 194.3C498.3 188.9 496.7 182.8 495.2 177.1C493.8 171.4 492.8 165.6 492.8 159.9C492.8 154.2 493.8 148.1 495.2 142.8C496.7 137.4 498.9 133.0 501.4 128.0C503.8 123.1 506.7 118.2 510.0 113.3C513.2 108.4 516.9 103.3 521.0 98.6C525.1 93.9 529.6 89.2 534.5 85.1C539.4 81.1 545.1 77.0 550.4 74.1C555.7 71.2 561.2 69.4 566.4 68.0C571.5 66.5 574.9 65.5 581.1 65.5ZM559.6 80.4C563.6 80.4 570.3 80.4 573.0 84.4C575.6 88.4 573.8 98.4 575.6 104.4C577.4 110.3 579.6 115.7 583.6 120.3C587.6 125.0 593.8 129.0 599.6 132.3C605.4 135.7 612.0 137.4 618.2 140.3C624.5 143.2 632.9 146.3 636.9 149.6C640.9 153.0 642.4 156.3 642.2 160.3C642.0 164.3 638.0 170.1 635.6 173.6C633.1 177.2 630.9 178.5 627.6 181.6C624.2 184.7 618.0 188.0 615.6 192.3C613.1 196.5 615.6 202.7 612.9 206.9C610.3 211.1 604.5 215.1 599.6 217.6C594.7 220.0 589.4 221.3 583.6 221.6C577.8 221.8 570.7 218.3 565.0 218.9C559.2 219.4 554.1 224.7 549.0 224.9C543.9 225.1 538.1 223.4 534.3 220.2C530.6 217.0 528.8 210.2 526.3 205.6C523.9 200.9 522.6 196.7 519.7 192.3C516.8 187.8 510.8 183.8 509.0 178.9C507.3 174.1 508.1 167.6 509.0 163.0C509.9 158.3 512.9 155.4 514.4 151.0C515.8 146.5 517.5 141.0 517.7 136.3C517.9 131.7 515.4 127.4 515.7 123.0C516.0 118.6 517.2 112.3 519.7 109.7C522.1 107.0 527.2 109.7 530.3 107.0C533.4 104.4 535.2 97.5 538.3 93.7C541.4 89.9 545.4 86.6 549.0 84.4C552.5 82.2 555.6 80.4 559.6 80.4Z" fill="#9c18a4" fill-opacity="1" filter="url(#t2b4)" fill-rule="evenodd"/>
<path d="M580.1 73.1C585.7 73.1 593.9 73.5 600.2 75.4C606.6 77.2 613.1 80.8 618.2 84.3C623.2 87.9 627.1 92.0 630.5 96.6C633.8 101.3 636.5 106.7 638.3 112.3C640.2 117.9 640.9 124.3 641.7 130.2C642.4 136.2 643.0 142.2 642.8 148.2C642.6 154.1 642.1 160.1 640.6 166.1C639.1 172.1 636.6 178.2 633.8 184.0C631.0 189.8 627.7 195.8 623.8 200.8C619.8 205.9 615.2 210.2 610.3 214.3C605.5 218.4 600.2 222.7 594.6 225.5C589.0 228.3 581.9 230.1 576.7 231.1C571.5 232.0 567.4 232.0 563.3 231.1C559.2 230.1 556.2 227.9 552.1 225.5C548.0 223.0 542.7 218.7 538.6 216.5C534.5 214.3 530.8 214.1 527.4 212.0C524.1 210.0 521.8 207.7 518.5 204.2C515.1 200.6 510.1 195.6 507.3 190.7C504.5 185.9 503.0 180.3 501.7 175.1C500.3 169.8 499.4 164.6 499.4 159.4C499.4 154.1 500.3 148.5 501.7 143.7C503.0 138.8 505.0 134.7 507.3 130.2C509.5 125.8 512.1 121.3 515.1 116.8C518.1 112.3 521.4 107.7 525.2 103.4C528.9 99.1 533.0 94.8 537.5 91.0C542.0 87.3 547.2 83.6 552.1 81.0C556.9 78.3 562.0 76.7 566.6 75.4C571.3 74.0 574.5 73.1 580.1 73.1Z" fill="none" stroke="#ee38f0" stroke-width="5.5" stroke-opacity="0.62" stroke-linecap="round" stroke-linejoin="round" filter="url(#t2b4)"/>
<path d="M590.0 89.1C593.1 86.4 600.5 84.3 606.1 85.3C611.7 86.4 619.8 91.1 623.6 95.3C627.3 99.4 628.8 105.7 628.5 110.2C628.3 114.8 626.1 120.2 622.3 122.7C618.6 125.2 610.9 126.4 606.1 125.2C601.4 123.9 596.8 119.2 593.7 115.2C590.6 111.3 588.1 105.9 587.5 101.5C586.8 97.2 586.8 91.8 590.0 89.1Z" fill="#1c0322" fill-opacity="0.45" filter="url(#t2b4)" />
<path d="M575.0 100.3C576.5 104.0 579.6 116.9 583.7 122.7C587.9 128.5 593.1 131.2 599.9 135.1C606.8 139.1 618.2 143.0 624.8 146.3C631.5 149.7 637.3 153.6 639.7 155.0" fill="none" stroke="#ff4cfc" stroke-width="4.5" stroke-opacity="0.5" stroke-linecap="round" stroke-linejoin="round" filter="url(#t2b3)"/>
<path d="M509.1 143.8C510.7 144.7 517.1 148.2 518.8 149.1" fill="none" stroke="#ff4cfc" stroke-width="5.0" stroke-opacity="0.9" stroke-linecap="round" stroke-linejoin="round" filter="url(#t2b3)"/>
<ellipse cx="504.1" cy="152.8" rx="4.0" ry="2.7" fill="#40084a" fill-opacity="0.8" filter="url(#t2b3)"/>
<path d="M500.3 183.1C502.4 184.6 508.7 188.7 512.8 192.4C516.8 196.1 522.6 203.3 524.6 205.5" fill="none" stroke="#ff4cfc" stroke-width="8.7" stroke-opacity="0.7" stroke-linecap="round" stroke-linejoin="round" filter="url(#t2b3)"/>
<path d="M504.1 180.6C505.7 181.5 512.4 185.2 514.0 186.2" fill="none" stroke="#ff60ff" stroke-width="3.7" stroke-opacity="0.8" stroke-linecap="round" stroke-linejoin="round" filter="url(#t2b2)"/>
<path d="M557.6 228.5C560.1 229.4 567.6 234.1 572.5 233.7C577.5 233.3 585.0 227.5 587.5 226.2" fill="none" stroke="#ff4cfc" stroke-width="8.7" stroke-opacity="0.7" stroke-linecap="round" stroke-linejoin="round" filter="url(#t2b3)"/>
<path d="M587.5 221.6C589.8 220.1 598.9 214.1 601.2 212.6" fill="none" stroke="#ff4cfc" stroke-width="5.5" stroke-opacity="0.7" stroke-linecap="round" stroke-linejoin="round" filter="url(#t2b3)"/>
<path d="M522.7 102.8C524.4 103.6 531.0 106.9 532.7 107.7" fill="none" stroke="#ff4cfc" stroke-width="5.0" stroke-opacity="0.6" stroke-linecap="round" stroke-linejoin="round" filter="url(#t2b3)"/>
<path d="M635.4 172.5C634.3 174.3 629.7 181.8 628.5 183.7" fill="none" stroke="#ff4cfc" stroke-width="4.0" stroke-opacity="0.6" stroke-linecap="round" stroke-linejoin="round" filter="url(#t2b3)"/>
<path d="M599.3 94.3C601.1 94.5 606.9 94.3 609.9 95.3C612.9 96.3 615.6 98.8 617.3 100.5C619.0 102.3 619.6 105.0 620.1 105.9" fill="none" stroke="#6af038" stroke-width="4.7" stroke-opacity="1" stroke-linecap="round" stroke-linejoin="round" filter="url(#t2b1)"/>
<ellipse cx="610.6" cy="113.5" rx="3.2" ry="4.0" fill="#7cf040" fill-opacity="1" filter="url(#t2b1)"/>
<ellipse cx="598.1" cy="103.4" rx="3.5" ry="2.5" fill="#b8d48a" fill-opacity="0.7" filter="url(#t2b2)" transform="rotate(30 598.1 103.4)"/>
</g>
<rect x="615.6" y="236.5" width="36.7" height="6" fill="#fff"/>
</g>
<rect x="673.7" y="51.7" width="199.4" height="199.4" fill="#0a000c"/>
<g clip-path="url(#tc3)">
<g filter="url(#tgr3)">
<path d="M782.0 81.6C789.1 81.6 797.2 82.2 804.4 84.1C811.7 86.0 819.0 88.9 825.6 92.8C832.2 96.8 839.3 102.1 844.3 107.7C849.2 113.3 852.8 119.8 855.5 126.4C858.2 133.1 860.0 140.3 860.4 147.6C860.9 154.8 859.8 162.7 858.0 170.0C856.1 177.2 853.0 184.5 849.2 191.1C845.5 197.8 840.9 204.2 835.5 209.8C830.2 215.4 823.3 220.8 816.9 224.7C810.4 228.7 803.6 231.4 797.0 233.5C790.3 235.5 783.7 236.8 777.0 237.2C770.4 237.6 763.8 237.2 757.1 236.0C750.5 234.7 743.2 232.6 737.2 229.7C731.2 226.8 726.0 223.1 721.0 218.5C716.1 214.0 711.5 207.9 707.3 202.3C703.2 196.7 699.0 190.9 696.1 184.9C693.2 178.9 691.0 172.5 689.9 166.2C688.9 160.0 688.9 153.6 689.9 147.6C691.0 141.6 693.2 135.8 696.1 130.2C699.0 124.5 702.8 118.9 707.3 114.0C711.9 109.0 717.7 104.2 723.5 100.3C729.3 96.3 735.8 93.0 742.2 90.3C748.6 87.6 755.5 85.5 762.1 84.1C768.7 82.6 775.0 81.6 782.0 81.6Z" fill="#3a0a42" fill-opacity="0.5" filter="url(#t3b6)" />
<path d="M782.0 81.6C789.1 81.6 797.2 82.2 804.4 84.1C811.7 86.0 819.0 88.9 825.6 92.8C832.2 96.8 839.3 102.1 844.3 107.7C849.2 113.3 852.8 119.8 855.5 126.4C858.2 133.1 860.0 140.3 860.4 147.6C860.9 154.8 859.8 162.7 858.0 170.0C856.1 177.2 853.0 184.5 849.2 191.1C845.5 197.8 840.9 204.2 835.5 209.8C830.2 215.4 823.3 220.8 816.9 224.7C810.4 228.7 803.6 231.4 797.0 233.5C790.3 235.5 783.7 236.8 777.0 237.2C770.4 237.6 763.8 237.2 757.1 236.0C750.5 234.7 743.2 232.6 737.2 229.7C731.2 226.8 726.0 223.1 721.0 218.5C716.1 214.0 711.5 207.9 707.3 202.3C703.2 196.7 699.0 190.9 696.1 184.9C693.2 178.9 691.0 172.5 689.9 166.2C688.9 160.0 688.9 153.6 689.9 147.6C691.0 141.6 693.2 135.8 696.1 130.2C699.0 124.5 702.8 118.9 707.3 114.0C711.9 109.0 717.7 104.2 723.5 100.3C729.3 96.3 735.8 93.0 742.2 90.3C748.6 87.6 755.5 85.5 762.1 84.1C768.7 82.6 775.0 81.6 782.0 81.6Z" fill="#1a031e" fill-opacity="1" filter="url(#t3b4)" />
<path d="M781.9 82.8C788.8 82.8 796.8 83.4 803.9 85.2C811.1 87.1 818.3 89.9 824.8 93.8C831.3 97.7 838.3 103.0 843.2 108.5C848.1 114.0 851.6 120.4 854.2 126.9C856.9 133.4 858.7 140.6 859.1 147.7C859.5 154.9 858.5 162.7 856.7 169.8C854.8 177.0 851.8 184.1 848.1 190.7C844.4 197.2 839.9 203.5 834.6 209.0C829.3 214.6 822.5 219.9 816.2 223.8C809.9 227.6 803.1 230.3 796.6 232.3C790.1 234.4 783.5 235.6 777.0 236.0C770.4 236.4 763.9 236.0 757.4 234.8C750.8 233.6 743.7 231.5 737.7 228.7C731.8 225.8 726.7 222.1 721.8 217.6C716.9 213.1 712.4 207.2 708.3 201.7C704.2 196.2 700.1 190.5 697.3 184.5C694.4 178.6 692.2 172.3 691.2 166.1C690.1 160.0 690.1 153.7 691.2 147.7C692.2 141.8 694.4 136.1 697.3 130.6C700.1 125.1 703.8 119.5 708.3 114.6C712.8 109.7 718.5 105.0 724.3 101.2C730.0 97.3 736.3 94.0 742.6 91.3C749.0 88.7 755.7 86.6 762.3 85.2C768.8 83.8 774.9 82.8 781.9 82.8ZM745.7 98.6C751.1 95.5 760.4 96.2 767.1 96.0C773.7 95.7 780.4 96.2 785.7 97.3C791.0 98.4 797.0 98.9 799.0 102.6C801.0 106.4 797.7 113.9 797.7 119.9C797.7 125.9 797.5 132.4 799.0 138.6C800.6 144.8 803.9 151.5 807.0 157.2C810.1 163.0 815.4 168.3 817.7 173.2C819.9 178.1 821.7 182.1 820.3 186.5C819.0 191.0 813.7 195.4 809.7 199.9C805.7 204.3 800.3 208.7 796.4 213.2C792.4 217.6 788.8 226.0 785.7 226.5C782.6 226.9 781.7 218.3 777.7 215.8C773.7 213.4 767.1 212.9 761.7 211.8C756.4 210.7 751.1 210.5 745.7 209.2C740.4 207.8 734.2 207.0 729.8 203.8C725.3 200.7 721.3 195.6 719.1 190.5C716.9 185.4 716.4 178.8 716.4 173.2C716.4 167.7 718.2 162.1 719.1 157.2C720.0 152.4 720.0 148.4 721.8 143.9C723.5 139.5 727.5 135.5 729.8 130.6C732.0 125.7 732.4 119.9 735.1 114.6C737.8 109.3 740.4 101.7 745.7 98.6Z" fill="#9c18a4" fill-opacity="1" filter="url(#t3b4)" fill-rule="evenodd"/>
<path d="M781.1 89.3C787.4 89.3 794.7 89.9 801.2 91.6C807.8 93.2 814.3 95.9 820.3 99.4C826.2 103.0 832.6 107.8 837.1 112.8C841.5 117.9 844.7 123.7 847.1 129.7C849.6 135.6 851.3 142.2 851.6 148.7C852.0 155.2 851.1 162.3 849.4 168.9C847.7 175.4 844.9 181.9 841.5 187.9C838.2 193.9 834.1 199.7 829.2 204.7C824.4 209.8 818.2 214.6 812.4 218.2C806.6 221.7 800.5 224.1 794.5 226.0C788.5 227.9 782.5 229.0 776.6 229.4C770.6 229.7 764.6 229.4 758.6 228.2C752.7 227.1 746.1 225.2 740.7 222.6C735.3 220.0 730.6 216.7 726.2 212.6C721.7 208.4 717.6 203.0 713.8 198.0C710.1 192.9 706.4 187.7 703.8 182.3C701.1 176.9 699.1 171.1 698.2 165.5C697.2 159.9 697.2 154.1 698.2 148.7C699.1 143.3 701.1 138.1 703.8 133.0C706.4 128.0 709.7 122.9 713.8 118.5C717.9 114.0 723.2 109.7 728.4 106.1C733.6 102.6 739.4 99.6 745.2 97.2C751.0 94.7 757.2 92.9 763.1 91.6C769.1 90.3 774.7 89.3 781.1 89.3Z" fill="none" stroke="#ee38f0" stroke-width="5.5" stroke-opacity="0.62" stroke-linecap="round" stroke-linejoin="round" filter="url(#t3b4)"/>
<path d="M806.9 117.7C809.4 112.3 820.4 111.1 825.6 112.7C830.8 114.4 836.2 121.9 838.0 127.7C839.9 133.5 839.1 143.0 836.8 147.6C834.5 152.1 828.7 155.5 824.3 155.0C820.0 154.6 813.6 151.3 810.7 145.1C807.7 138.9 804.4 123.1 806.9 117.7Z" fill="#1c0322" fill-opacity="0.35" filter="url(#t3b4)" />
<path d="M706.1 128.9C708.8 127.7 717.5 124.1 722.3 121.4C727.0 118.7 732.7 114.2 734.7 112.7" fill="none" stroke="#ff4cfc" stroke-width="5.5" stroke-opacity="0.8" stroke-linecap="round" stroke-linejoin="round" filter="url(#t3b3)"/>
<path d="M694.9 152.6C697.0 151.2 705.3 145.8 707.3 144.5" fill="none" stroke="#ff4cfc" stroke-width="5.7" stroke-opacity="0.6" stroke-linecap="round" stroke-linejoin="round" filter="url(#t3b3)"/>
<path d="M698.6 172.5C700.1 175.6 705.9 188.0 707.3 191.1" fill="none" stroke="#ff4cfc" stroke-width="5.0" stroke-opacity="0.3" stroke-linecap="round" stroke-linejoin="round" filter="url(#t3b3)"/>
<path d="M757.1 89.7C760.4 90.5 770.8 94.3 777.0 94.3C783.3 94.3 791.6 90.5 794.5 89.7" fill="none" stroke="#ff4cfc" stroke-width="5.0" stroke-opacity="0.6" stroke-linecap="round" stroke-linejoin="round" filter="url(#t3b3)"/>
<path d="M799.4 106.5C798.8 109.6 795.5 118.3 795.7 125.2C795.9 132.0 798.0 140.5 800.7 147.6C803.4 154.6 808.8 161.9 811.9 167.5C815.0 173.1 818.1 178.9 819.4 181.2" fill="none" stroke="#ff4cfc" stroke-width="4.2" stroke-opacity="0.45" stroke-linecap="round" stroke-linejoin="round" filter="url(#t3b3)"/>
<path d="M806.9 160.0C810.0 162.5 820.0 173.3 825.6 175.0C831.2 176.6 838.0 170.8 840.5 170.0" fill="none" stroke="#ff4cfc" stroke-width="5.0" stroke-opacity="0.45" stroke-linecap="round" stroke-linejoin="round" filter="url(#t3b3)"/>
<path d="M713.6 208.6C715.6 210.2 723.9 216.9 726.0 218.5" fill="none" stroke="#ff4cfc" stroke-width="6.2" stroke-opacity="0.5" stroke-linecap="round" stroke-linejoin="round" filter="url(#t3b3)"/>
<path d="M739.7 221.3C742.6 221.5 750.9 221.5 757.1 222.5C763.4 223.5 773.7 226.7 777.0 227.5" fill="none" stroke="#ff4cfc" stroke-width="10.0" stroke-opacity="0.9" stroke-linecap="round" stroke-linejoin="round" filter="url(#t3b3)"/>
<path d="M814.4 118.9C816.0 118.1 820.4 120.6 823.1 121.4C825.8 122.3 829.2 122.1 830.6 123.9C831.9 125.8 830.4 130.4 831.2 132.6C832.0 134.9 835.9 136.0 835.5 137.6C835.2 139.3 831.2 140.5 829.3 142.6C827.5 144.7 826.2 149.2 824.3 150.1C822.5 150.9 819.8 149.2 818.1 147.6C816.5 145.9 815.7 142.4 814.4 140.1C813.0 137.8 810.2 136.2 810.0 133.9C809.8 131.6 812.4 128.9 813.1 126.4C813.9 123.9 812.7 119.8 814.4 118.9Z" fill="#84ec44" fill-opacity="1" filter="url(#t3b2)" />
<ellipse cx="821.2" cy="135.1" rx="7.5" ry="11.2" fill="#78ee3c" fill-opacity="0.9" filter="url(#t3b2)"/>
</g>
<rect x="826.6" y="236.5" width="33.6" height="6" fill="#fff"/>
</g>
<rect x="672.4" y="50.4" width="202.1" height="202.1" fill="none" stroke="#f7cdb2" stroke-width="2.7"/>
<rect x="880.7" y="51.7" width="199.4" height="199.4" fill="#0a000c"/>
<g clip-path="url(#tc4)">
<g filter="url(#tgr4)">
<path d="M1047.5 53.0C1050.2 54.4 1057.9 58.1 1063.7 61.7C1069.5 65.3 1079.3 72.6 1082.4 74.8" fill="none" stroke="#b81cbe" stroke-width="10.0" stroke-opacity="0.85" stroke-linecap="round" stroke-linejoin="round" filter="url(#t4b3)"/>
<path d="M1058.7 50.5C1062.7 52.8 1078.4 61.9 1082.4 64.2" fill="none" stroke="#b81cbe" stroke-width="6.2" stroke-opacity="0.6" stroke-linecap="round" stroke-linejoin="round" filter="url(#t4b3)"/>
<path d="M1037.6 252.1C1045.0 251.9 1074.9 250.9 1082.4 250.6" fill="none" stroke="#b81cbe" stroke-width="4.2" stroke-opacity="0.9" stroke-linecap="round" stroke-linejoin="round" filter="url(#t4b2)"/>
<path d="M976.6 74.1C982.8 73.9 991.5 74.3 999.0 76.0C1006.4 77.7 1014.3 80.7 1021.4 84.1C1028.4 87.5 1035.3 91.8 1041.3 96.5C1047.3 101.3 1052.9 106.7 1057.5 112.7C1062.0 118.7 1066.2 125.8 1068.7 132.6C1071.2 139.5 1072.2 146.7 1072.4 153.8C1072.6 160.9 1071.8 168.1 1069.9 175.0C1068.1 181.8 1065.0 188.7 1061.2 194.9C1057.5 201.1 1052.7 207.3 1047.5 212.3C1042.3 217.3 1036.5 221.4 1030.1 224.7C1023.7 228.1 1016.2 230.4 1008.9 232.2C1001.7 234.1 994.0 235.5 986.5 236.0C979.1 236.4 971.6 236.0 964.1 234.7C956.7 233.5 948.8 231.4 941.7 228.5C934.7 225.6 927.8 221.8 921.8 217.3C915.8 212.7 910.2 206.9 905.6 201.1C901.1 195.3 897.1 188.9 894.4 182.4C891.7 176.0 890.1 168.9 889.4 162.5C888.8 156.1 889.2 150.1 890.7 143.8C892.1 137.6 894.8 131.2 898.2 125.2C901.5 119.2 905.8 112.9 910.6 107.7C915.4 102.6 920.8 98.2 926.8 94.1C932.8 89.9 940.9 85.7 946.7 82.9C952.5 80.1 956.7 78.7 961.6 77.3C966.6 75.8 970.4 74.3 976.6 74.1Z" fill="#3a0a42" fill-opacity="0.5" filter="url(#t4b6)" />
<path d="M976.6 74.1C982.8 73.9 991.5 74.3 999.0 76.0C1006.4 77.7 1014.3 80.7 1021.4 84.1C1028.4 87.5 1035.3 91.8 1041.3 96.5C1047.3 101.3 1052.9 106.7 1057.5 112.7C1062.0 118.7 1066.2 125.8 1068.7 132.6C1071.2 139.5 1072.2 146.7 1072.4 153.8C1072.6 160.9 1071.8 168.1 1069.9 175.0C1068.1 181.8 1065.0 188.7 1061.2 194.9C1057.5 201.1 1052.7 207.3 1047.5 212.3C1042.3 217.3 1036.5 221.4 1030.1 224.7C1023.7 228.1 1016.2 230.4 1008.9 232.2C1001.7 234.1 994.0 235.5 986.5 236.0C979.1 236.4 971.6 236.0 964.1 234.7C956.7 233.5 948.8 231.4 941.7 228.5C934.7 225.6 927.8 221.8 921.8 217.3C915.8 212.7 910.2 206.9 905.6 201.1C901.1 195.3 897.1 188.9 894.4 182.4C891.7 176.0 890.1 168.9 889.4 162.5C888.8 156.1 889.2 150.1 890.7 143.8C892.1 137.6 894.8 131.2 898.2 125.2C901.5 119.2 905.8 112.9 910.6 107.7C915.4 102.6 920.8 98.2 926.8 94.1C932.8 89.9 940.9 85.7 946.7 82.9C952.5 80.1 956.7 78.7 961.6 77.3C966.6 75.8 970.4 74.3 976.6 74.1Z" fill="#1a031e" fill-opacity="1" filter="url(#t4b4)" />
<path d="M976.6 75.3C982.8 75.1 991.3 75.5 998.7 77.2C1006.0 78.8 1013.8 81.8 1020.8 85.2C1027.7 88.5 1034.5 92.7 1040.4 97.4C1046.3 102.1 1051.8 107.4 1056.3 113.4C1060.8 119.3 1064.9 126.2 1067.4 133.0C1069.8 139.7 1070.8 146.9 1071.0 153.8C1071.2 160.8 1070.4 167.9 1068.6 174.7C1066.7 181.4 1063.7 188.1 1060.0 194.3C1056.3 200.4 1051.6 206.5 1046.5 211.4C1041.4 216.3 1035.7 220.4 1029.3 223.7C1023.0 227.0 1015.7 229.2 1008.5 231.1C1001.3 232.9 993.8 234.3 986.4 234.7C979.1 235.1 971.7 234.7 964.4 233.5C957.0 232.3 949.2 230.2 942.3 227.4C935.3 224.5 928.6 220.8 922.7 216.3C916.8 211.8 911.2 206.1 906.7 200.4C902.2 194.7 898.4 188.3 895.7 182.0C893.0 175.7 891.4 168.7 890.8 162.4C890.2 156.1 890.6 150.1 892.0 144.0C893.5 137.9 896.1 131.5 899.4 125.6C902.7 119.7 906.9 113.6 911.6 108.4C916.3 103.3 921.7 99.0 927.6 95.0C933.5 90.9 941.5 86.7 947.2 83.9C952.9 81.2 957.0 79.8 961.9 78.4C966.8 77.0 970.5 75.5 976.6 75.3ZM953.4 93.6C958.8 90.9 966.3 88.9 972.1 88.2C977.8 87.6 984.1 87.6 988.1 89.6C992.0 91.6 993.8 96.0 996.0 100.2C998.3 104.5 998.7 109.8 1001.4 114.9C1004.0 120.0 1010.9 125.5 1012.0 130.9C1013.1 136.2 1009.4 141.5 1008.0 146.9C1006.7 152.2 1004.3 157.1 1004.0 162.8C1003.8 168.6 1004.7 175.7 1006.7 181.5C1008.7 187.2 1013.8 192.6 1016.0 197.5C1018.2 202.3 1021.1 207.2 1020.0 210.8C1018.9 214.3 1014.2 217.0 1009.4 218.8C1004.5 220.5 997.4 221.4 990.7 221.4C984.1 221.4 976.1 219.7 969.4 218.8C962.7 217.9 956.5 217.4 950.8 216.1C945.0 214.8 939.7 213.4 934.8 210.8C929.9 208.1 925.7 204.1 921.5 200.1C917.2 196.1 912.4 191.7 909.5 186.8C906.6 181.9 905.3 176.2 904.1 170.8C903.0 165.5 902.6 160.2 902.8 154.8C903.0 149.5 903.7 144.2 905.5 138.9C907.3 133.5 909.9 127.8 913.5 122.9C917.0 118.0 922.3 112.7 926.8 109.6C931.2 106.5 935.7 106.9 940.1 104.2C944.5 101.6 948.1 96.2 953.4 93.6Z" fill="#9c18a4" fill-opacity="1" filter="url(#t4b4)" fill-rule="evenodd"/>
<path d="M976.9 82.2C982.5 82.0 990.3 82.4 997.1 83.9C1003.8 85.3 1010.9 88.1 1017.2 91.1C1023.6 94.2 1029.7 98.0 1035.1 102.3C1040.6 106.6 1045.6 111.5 1049.7 116.9C1053.8 122.3 1057.5 128.7 1059.8 134.8C1062.0 141.0 1063.0 147.5 1063.1 153.9C1063.3 160.2 1062.6 166.8 1060.9 172.9C1059.2 179.1 1056.4 185.2 1053.1 190.8C1049.7 196.4 1045.4 202.0 1040.7 206.5C1036.1 211.0 1030.8 214.7 1025.1 217.7C1019.3 220.7 1012.6 222.8 1006.0 224.4C999.5 226.1 992.6 227.4 985.9 227.8C979.1 228.2 972.4 227.8 965.7 226.7C959.0 225.6 951.9 223.7 945.5 221.1C939.2 218.5 933.0 215.1 927.6 211.0C922.2 206.9 917.1 201.7 913.0 196.4C908.9 191.2 905.4 185.4 903.0 179.6C900.5 173.8 899.0 167.5 898.5 161.7C897.9 155.9 898.3 150.5 899.6 144.9C900.9 139.3 903.3 133.5 906.3 128.1C909.3 122.7 913.2 117.1 917.5 112.4C921.8 107.8 926.7 103.8 932.1 100.1C937.5 96.4 944.8 92.5 950.0 90.0C955.2 87.5 959.0 86.3 963.4 85.0C967.9 83.7 971.3 82.4 976.9 82.2Z" fill="none" stroke="#ee38f0" stroke-width="5.5" stroke-opacity="0.62" stroke-linecap="round" stroke-linejoin="round" filter="url(#t4b4)"/>
<path d="M996.5 97.8C1000.0 92.0 1022.2 95.3 1032.6 100.3C1043.0 105.3 1053.5 117.7 1058.7 127.7C1063.9 137.6 1064.5 149.4 1063.7 160.0C1062.9 170.6 1059.4 183.9 1053.7 191.1C1048.1 198.4 1036.7 203.6 1030.1 203.6C1023.5 203.6 1017.9 198.4 1013.9 191.1C1010.0 183.9 1006.9 169.4 1006.4 160.0C1006.0 150.7 1013.1 145.5 1011.4 135.1C1009.8 124.8 993.0 103.6 996.5 97.8Z" fill="#5a0e62" fill-opacity="0.45" filter="url(#t4b4)" />
<ellipse cx="1031.3" cy="156.3" rx="23.9" ry="23.9" fill="#1c0322" fill-opacity="0.9" filter="url(#t4b3)"/>
<path d="M1002.7 153.8C1002.8 156.9 1001.5 166.7 1003.0 172.5C1004.4 178.3 1007.7 184.5 1011.4 188.7C1015.1 192.8 1022.8 195.9 1025.1 197.4" fill="none" stroke="#b81cbe" stroke-width="7.0" stroke-opacity="0.85" stroke-linecap="round" stroke-linejoin="round" filter="url(#t4b3)"/>
<path d="M1056.9 151.3C1055.9 155.9 1055.0 171.0 1051.3 178.7C1047.5 186.4 1037.3 194.3 1034.5 197.4" fill="none" stroke="#ff4cfc" stroke-width="4.2" stroke-opacity="0.95" stroke-linecap="round" stroke-linejoin="round" filter="url(#t4b2)"/>
<path d="M1020.1 191.1C1019.9 193.2 1019.1 201.5 1018.9 203.6" fill="none" stroke="#ff4cfc" stroke-width="7.0" stroke-opacity="0.9" stroke-linecap="round" stroke-linejoin="round" filter="url(#t4b3)"/>
<path d="M1068.7 135.1C1069.1 139.3 1071.0 155.9 1071.4 160.0" fill="none" stroke="#ff4cfc" stroke-width="3.7" stroke-opacity="0.5" stroke-linecap="round" stroke-linejoin="round" filter="url(#t4b3)"/>
<ellipse cx="964.1" cy="86.8" rx="9.7" ry="5.2" fill="#ff4cfc" fill-opacity="0.8" filter="url(#t4b3)" transform="rotate(-5 964.1 86.8)"/>
<path d="M918.1 106.5C920.1 105.7 926.6 101.8 930.5 101.8C934.5 101.7 939.9 105.5 941.7 106.3" fill="none" stroke="#ff4cfc" stroke-width="4.7" stroke-opacity="0.6" stroke-linecap="round" stroke-linejoin="round" filter="url(#t4b3)"/>
<path d="M902.5 140.1C901.8 141.6 899.1 147.4 898.4 148.8" fill="none" stroke="#ff4cfc" stroke-width="6.2" stroke-opacity="0.9" stroke-linecap="round" stroke-linejoin="round" filter="url(#t4b3)"/>
<path d="M898.4 168.1C899.7 170.6 904.6 180.6 905.9 183.1" fill="none" stroke="#ff4cfc" stroke-width="6.5" stroke-opacity="0.9" stroke-linecap="round" stroke-linejoin="round" filter="url(#t4b3)"/>
<path d="M906.9 195.5C908.7 197.7 914.1 204.5 918.1 208.6C922.0 212.6 928.4 217.9 930.5 219.8" fill="none" stroke="#ff4cfc" stroke-width="5.5" stroke-opacity="0.7" stroke-linecap="round" stroke-linejoin="round" filter="url(#t4b3)"/>
<path d="M964.1 221.0C966.2 221.4 972.6 222.8 976.6 223.5C980.5 224.2 985.9 225.1 987.8 225.4" fill="none" stroke="#ff4cfc" stroke-width="6.7" stroke-opacity="1" stroke-linecap="round" stroke-linejoin="round" filter="url(#t4b3)"/>
<ellipse cx="1031.3" cy="156.3" rx="16.4" ry="17.4" fill="#66ea30" fill-opacity="1" filter="url(#t4b2)"/>
<ellipse cx="939.9" cy="137.9" rx="2.5" ry="3.5" fill="#3cb024" fill-opacity="0.9" filter="url(#t4b2)"/>
</g>
<rect x="1027.7" y="236.5" width="39.8" height="6" fill="#fff"/>
</g>
<rect x="879.4" y="50.4" width="202.1" height="202.1" fill="none" stroke="#ea9560" stroke-width="2.7"/>
<rect x="1086.2" y="51" width="201.8" height="202.0" fill="#0a000c"/>
<g clip-path="url(#tc5)">
<g filter="url(#tgr5)">
<ellipse cx="1154.9" cy="53.0" rx="14.9" ry="5.0" fill="#b81cbe" fill-opacity="0.8" filter="url(#t5b4)"/>
<path d="M1233.4 54.2C1237.5 54.7 1249.5 57.1 1258.3 57.3C1267.0 57.5 1281.1 55.8 1285.6 55.5" fill="none" stroke="#b81cbe" stroke-width="10.0" stroke-opacity="0.6" stroke-linecap="round" stroke-linejoin="round" filter="url(#t5b4)"/>
<path d="M1196.0 77.9C1203.5 77.9 1209.1 78.7 1215.9 80.4C1222.8 82.0 1230.5 84.5 1237.1 87.8C1243.7 91.1 1250.6 95.7 1255.8 100.3C1261.0 104.8 1264.9 109.8 1268.2 115.2C1271.5 120.6 1274.0 127.7 1275.7 132.6C1277.3 137.6 1278.4 140.5 1278.2 145.1C1278.0 149.7 1276.3 155.0 1274.4 160.0C1272.6 165.0 1269.7 170.0 1267.0 175.0C1264.3 179.9 1261.8 185.1 1258.3 189.9C1254.7 194.7 1250.6 199.6 1245.8 203.6C1241.0 207.5 1235.4 210.6 1229.6 213.5C1223.8 216.5 1217.4 219.4 1211.0 221.0C1204.5 222.7 1198.1 222.5 1191.0 223.5C1184.0 224.5 1175.7 227.2 1168.6 227.2C1161.6 227.2 1154.9 225.4 1148.7 223.5C1142.5 221.6 1136.7 219.1 1131.3 216.0C1125.9 212.9 1120.7 209.0 1116.4 204.8C1112.0 200.7 1107.9 195.7 1105.2 191.1C1102.5 186.6 1100.6 182.0 1100.2 177.4C1099.8 172.9 1102.7 168.7 1102.7 163.8C1102.7 158.8 1100.4 152.8 1100.2 147.6C1100.0 142.4 1100.2 137.6 1101.4 132.6C1102.7 127.7 1105.0 122.5 1107.6 117.7C1110.3 112.9 1113.7 108.2 1117.6 104.0C1121.5 99.9 1126.1 95.9 1131.3 92.8C1136.5 89.7 1142.1 87.4 1148.7 85.3C1155.4 83.3 1163.2 81.6 1171.1 80.4C1179.0 79.1 1188.6 77.9 1196.0 77.9Z" fill="#3a0a42" fill-opacity="0.5" filter="url(#t5b6)" />
<path d="M1196.0 77.9C1203.5 77.9 1209.1 78.7 1215.9 80.4C1222.8 82.0 1230.5 84.5 1237.1 87.8C1243.7 91.1 1250.6 95.7 1255.8 100.3C1261.0 104.8 1264.9 109.8 1268.2 115.2C1271.5 120.6 1274.0 127.7 1275.7 132.6C1277.3 137.6 1278.4 140.5 1278.2 145.1C1278.0 149.7 1276.3 155.0 1274.4 160.0C1272.6 165.0 1269.7 170.0 1267.0 175.0C1264.3 179.9 1261.8 185.1 1258.3 189.9C1254.7 194.7 1250.6 199.6 1245.8 203.6C1241.0 207.5 1235.4 210.6 1229.6 213.5C1223.8 216.5 1217.4 219.4 1211.0 221.0C1204.5 222.7 1198.1 222.5 1191.0 223.5C1184.0 224.5 1175.7 227.2 1168.6 227.2C1161.6 227.2 1154.9 225.4 1148.7 223.5C1142.5 221.6 1136.7 219.1 1131.3 216.0C1125.9 212.9 1120.7 209.0 1116.4 204.8C1112.0 200.7 1107.9 195.7 1105.2 191.1C1102.5 186.6 1100.6 182.0 1100.2 177.4C1099.8 172.9 1102.7 168.7 1102.7 163.8C1102.7 158.8 1100.4 152.8 1100.2 147.6C1100.0 142.4 1100.2 137.6 1101.4 132.6C1102.7 127.7 1105.0 122.5 1107.6 117.7C1110.3 112.9 1113.7 108.2 1117.6 104.0C1121.5 99.9 1126.1 95.9 1131.3 92.8C1136.5 89.7 1142.1 87.4 1148.7 85.3C1155.4 83.3 1163.2 81.6 1171.1 80.4C1179.0 79.1 1188.6 77.9 1196.0 77.9Z" fill="#1c0322" fill-opacity="1" filter="url(#t5b4)" />
<path d="M1195.8 79.0C1203.2 79.0 1208.7 79.8 1215.5 81.5C1222.2 83.1 1229.8 85.5 1236.3 88.8C1242.8 92.1 1249.6 96.6 1254.7 101.1C1259.8 105.6 1263.7 110.5 1267.0 115.8C1270.2 121.1 1272.7 128.0 1274.3 132.9C1275.9 137.9 1277.0 140.7 1276.8 145.2C1276.6 149.7 1274.9 155.0 1273.1 159.9C1271.2 164.8 1268.4 169.7 1265.7 174.6C1263.1 179.5 1260.6 184.6 1257.1 189.3C1253.7 194.0 1249.6 199.0 1244.9 202.8C1240.2 206.7 1234.7 209.8 1228.9 212.6C1223.2 215.5 1216.9 218.4 1210.6 220.0C1204.2 221.6 1197.9 221.4 1190.9 222.4C1184.0 223.5 1175.8 226.1 1168.9 226.1C1161.9 226.1 1155.4 224.3 1149.3 222.4C1143.1 220.6 1137.4 218.2 1132.1 215.1C1126.8 212.0 1121.7 208.1 1117.4 204.1C1113.1 200.0 1109.0 195.1 1106.3 190.6C1103.7 186.1 1101.8 181.6 1101.4 177.1C1101.0 172.6 1103.9 168.5 1103.9 163.6C1103.9 158.7 1101.6 152.8 1101.4 147.7C1101.2 142.6 1101.4 137.9 1102.7 132.9C1103.9 128.0 1106.1 122.9 1108.8 118.2C1111.5 113.5 1114.7 108.8 1118.6 104.8C1122.5 100.7 1127.0 96.8 1132.1 93.7C1137.2 90.7 1142.7 88.4 1149.3 86.4C1155.8 84.3 1163.6 82.7 1171.3 81.5C1179.1 80.2 1188.5 79.0 1195.8 79.0ZM1152.1 93.9C1158.1 90.8 1164.1 89.9 1170.8 88.6C1177.4 87.2 1185.4 85.7 1192.1 85.9C1198.7 86.1 1206.3 87.0 1210.7 89.9C1215.2 92.8 1216.3 99.0 1218.7 103.2C1221.2 107.4 1225.4 110.6 1225.4 115.2C1225.4 119.9 1220.1 125.9 1218.7 131.2C1217.4 136.5 1216.5 141.9 1217.4 147.2C1218.3 152.5 1221.2 158.5 1224.1 163.2C1226.9 167.8 1232.5 171.2 1234.7 175.1C1236.9 179.1 1238.7 183.4 1237.4 187.1C1236.0 190.9 1231.6 194.9 1226.7 197.8C1221.8 200.7 1213.8 202.9 1208.1 204.4C1202.3 206.0 1197.9 207.8 1192.1 207.1C1186.3 206.4 1180.1 201.1 1173.4 200.5C1166.8 199.8 1158.6 202.0 1152.1 203.1C1145.7 204.2 1139.7 207.6 1134.8 207.1C1129.9 206.7 1125.5 204.2 1122.8 200.5C1120.2 196.7 1119.9 189.8 1118.8 184.5C1117.7 179.1 1117.5 173.4 1116.2 168.5C1114.8 163.6 1111.5 160.1 1110.8 155.2C1110.2 150.3 1110.4 144.5 1112.2 139.2C1114.0 133.9 1117.7 128.5 1121.5 123.2C1125.3 117.9 1129.7 112.1 1134.8 107.2C1139.9 102.3 1146.1 97.0 1152.1 93.9Z" fill="#9c18a4" fill-opacity="1" filter="url(#t5b4)" fill-rule="evenodd"/>
<path d="M1194.8 85.4C1201.6 85.4 1206.6 86.2 1212.8 87.6C1218.9 89.1 1225.8 91.4 1231.8 94.4C1237.8 97.4 1243.9 101.5 1248.6 105.6C1253.3 109.7 1256.8 114.2 1259.8 119.0C1262.8 123.9 1265.0 130.2 1266.5 134.7C1268.0 139.2 1269.0 141.8 1268.8 145.9C1268.6 150.0 1267.1 154.9 1265.4 159.3C1263.7 163.8 1261.1 168.3 1258.7 172.8C1256.3 177.3 1254.0 181.9 1250.8 186.2C1247.7 190.5 1243.9 195.0 1239.6 198.6C1235.3 202.1 1230.3 204.9 1225.1 207.5C1219.9 210.1 1214.1 212.7 1208.3 214.2C1202.5 215.7 1196.7 215.5 1190.4 216.5C1184.0 217.4 1176.5 219.8 1170.2 219.8C1163.8 219.8 1157.9 218.2 1152.3 216.5C1146.7 214.8 1141.4 212.6 1136.6 209.8C1131.7 207.0 1127.1 203.4 1123.1 199.7C1119.2 195.9 1115.5 191.5 1113.1 187.3C1110.6 183.2 1108.9 179.1 1108.6 175.0C1108.2 170.9 1110.8 167.2 1110.8 162.7C1110.8 158.2 1108.8 152.8 1108.6 148.1C1108.4 143.5 1108.6 139.2 1109.7 134.7C1110.8 130.2 1112.9 125.5 1115.3 121.3C1117.7 117.0 1120.7 112.7 1124.3 108.9C1127.8 105.2 1131.9 101.7 1136.6 98.9C1141.2 96.1 1146.3 94.0 1152.3 92.1C1158.2 90.3 1165.3 88.8 1172.4 87.6C1179.5 86.5 1188.1 85.4 1194.8 85.4Z" fill="none" stroke="#ee38f0" stroke-width="5.5" stroke-opacity="0.62" stroke-linecap="round" stroke-linejoin="round" filter="url(#t5b4)"/>
<ellipse cx="1247.1" cy="145.1" rx="25.5" ry="25.5" fill="#1c0322" fill-opacity="0.8" filter="url(#t5b3)"/>
<path d="M1227.1 107.7C1225.8 111.1 1220.9 121.0 1219.1 127.7C1217.2 134.3 1215.2 141.1 1215.9 147.6C1216.7 154.0 1219.9 161.1 1223.4 166.2C1226.9 171.4 1232.3 175.6 1237.1 178.7C1241.9 181.8 1249.5 183.9 1252.0 184.9" fill="none" stroke="#b81cbe" stroke-width="6.2" stroke-opacity="0.95" stroke-linecap="round" stroke-linejoin="round" filter="url(#t5b3)"/>
<path d="M1108.9 137.6C1110.7 133.8 1114.9 121.0 1119.5 114.6C1124.0 108.2 1133.5 101.6 1136.3 99.0" fill="none" stroke="#ff4cfc" stroke-width="11.2" stroke-opacity="0.6" stroke-linecap="round" stroke-linejoin="round" filter="url(#t5b3)"/>
<path d="M1108.3 181.8C1110.2 184.5 1118.1 195.3 1120.1 198.0" fill="none" stroke="#ff4cfc" stroke-width="10.0" stroke-opacity="0.65" stroke-linecap="round" stroke-linejoin="round" filter="url(#t5b3)"/>
<ellipse cx="1161.2" cy="211.3" rx="20.5" ry="5.2" fill="#1c0322" fill-opacity="0.55" filter="url(#t5b3)"/>
<path d="M1186.7 211.3C1186.7 212.6 1185.8 214.0 1184.2 215.2C1182.6 216.4 1180.0 217.5 1177.1 218.3C1174.2 219.1 1170.4 219.8 1166.8 220.0C1163.3 220.3 1159.1 220.3 1155.5 220.0C1151.9 219.8 1148.1 219.1 1145.3 218.3C1142.4 217.5 1139.8 216.4 1138.2 215.2C1136.6 214.0 1135.7 212.6 1135.7 211.3C1135.7 210.0 1136.6 208.6 1138.2 207.4C1139.8 206.2 1142.4 205.1 1145.3 204.3C1148.1 203.5 1151.9 202.9 1155.5 202.6C1159.1 202.3 1163.3 202.3 1166.8 202.6C1170.4 202.9 1174.2 203.5 1177.1 204.3C1180.0 205.1 1182.6 206.2 1184.2 207.4C1185.8 208.6 1186.7 210.0 1186.7 211.3Z" fill="none" stroke="#ff4cfc" stroke-width="4.2" stroke-opacity="0.95" stroke-linecap="round" stroke-linejoin="round" filter="url(#t5b2)"/>
<path d="M1193.5 83.5C1195.2 83.8 1201.8 85.0 1203.5 85.3" fill="none" stroke="#ff4cfc" stroke-width="6.2" stroke-opacity="0.6" stroke-linecap="round" stroke-linejoin="round" filter="url(#t5b3)"/>
<path d="M1227.1 206.1C1229.2 204.8 1237.5 199.9 1239.6 198.6" fill="none" stroke="#ff4cfc" stroke-width="10.0" stroke-opacity="0.55" stroke-linecap="round" stroke-linejoin="round" filter="url(#t5b3)"/>
<path d="M1266.0 166.2C1264.4 168.7 1258.0 178.7 1256.4 181.2" fill="none" stroke="#ff4cfc" stroke-width="3.5" stroke-opacity="0.9" stroke-linecap="round" stroke-linejoin="round" filter="url(#t5b2)"/>
<ellipse cx="1246.8" cy="144.6" rx="16.9" ry="17.2" fill="#66ea30" fill-opacity="1" filter="url(#t5b2)"/>
</g>
<rect x="1234" y="236.5" width="40.0" height="6" fill="#fff"/>
</g>
<rect x="1293.2" y="51" width="201.8" height="202.0" fill="#0a000c"/>
<g clip-path="url(#tc6)">
<g filter="url(#tgr6)">
<path d="M1293.5 56.7C1298.3 57.1 1313.2 59.2 1322.1 59.2C1331.0 59.2 1342.9 57.1 1347.0 56.7" fill="none" stroke="#b81cbe" stroke-width="11.2" stroke-opacity="0.3" stroke-linecap="round" stroke-linejoin="round" filter="url(#t6b6)"/>
<ellipse cx="1293.5" cy="250.9" rx="7.5" ry="7.5" fill="#b81cbe" fill-opacity="0.4" filter="url(#t6b6)"/>
<path d="M1409.2 72.9C1416.1 72.9 1421.7 74.8 1427.9 76.6C1434.1 78.5 1441.0 80.8 1446.6 84.1C1452.2 87.4 1457.4 91.8 1461.5 96.5C1465.7 101.3 1468.8 106.7 1471.5 112.7C1474.2 118.7 1476.5 126.0 1477.7 132.6C1479.0 139.3 1479.4 145.9 1479.0 152.6C1478.5 159.2 1477.3 166.0 1475.2 172.5C1473.1 178.9 1470.0 185.3 1466.5 191.1C1463.0 197.0 1458.8 202.3 1454.1 207.3C1449.3 212.3 1443.7 217.3 1437.9 221.0C1432.1 224.7 1425.8 227.4 1419.2 229.7C1412.6 232.0 1404.9 233.9 1398.0 234.7C1391.2 235.5 1384.8 235.3 1378.1 234.7C1371.5 234.1 1364.4 233.0 1358.2 231.0C1352.0 228.9 1346.0 225.8 1340.8 222.3C1335.6 218.7 1331.0 214.6 1327.1 209.8C1323.2 205.0 1319.4 199.2 1317.1 193.6C1314.9 188.0 1314.0 182.2 1313.4 176.2C1312.8 170.2 1312.8 163.6 1313.4 157.5C1314.0 151.5 1315.3 145.7 1317.1 140.1C1319.0 134.5 1321.5 129.1 1324.6 123.9C1327.7 118.7 1331.7 113.6 1335.8 109.0C1340.0 104.4 1344.5 100.5 1349.5 96.5C1354.5 92.6 1359.5 88.7 1365.7 85.3C1371.9 82.0 1379.6 78.7 1386.8 76.6C1394.1 74.6 1402.4 72.9 1409.2 72.9Z" fill="#3a0a42" fill-opacity="0.5" filter="url(#t6b6)" />
<path d="M1409.2 72.9C1416.1 72.9 1421.7 74.8 1427.9 76.6C1434.1 78.5 1441.0 80.8 1446.6 84.1C1452.2 87.4 1457.4 91.8 1461.5 96.5C1465.7 101.3 1468.8 106.7 1471.5 112.7C1474.2 118.7 1476.5 126.0 1477.7 132.6C1479.0 139.3 1479.4 145.9 1479.0 152.6C1478.5 159.2 1477.3 166.0 1475.2 172.5C1473.1 178.9 1470.0 185.3 1466.5 191.1C1463.0 197.0 1458.8 202.3 1454.1 207.3C1449.3 212.3 1443.7 217.3 1437.9 221.0C1432.1 224.7 1425.8 227.4 1419.2 229.7C1412.6 232.0 1404.9 233.9 1398.0 234.7C1391.2 235.5 1384.8 235.3 1378.1 234.7C1371.5 234.1 1364.4 233.0 1358.2 231.0C1352.0 228.9 1346.0 225.8 1340.8 222.3C1335.6 218.7 1331.0 214.6 1327.1 209.8C1323.2 205.0 1319.4 199.2 1317.1 193.6C1314.9 188.0 1314.0 182.2 1313.4 176.2C1312.8 170.2 1312.8 163.6 1313.4 157.5C1314.0 151.5 1315.3 145.7 1317.1 140.1C1319.0 134.5 1321.5 129.1 1324.6 123.9C1327.7 118.7 1331.7 113.6 1335.8 109.0C1340.0 104.4 1344.5 100.5 1349.5 96.5C1354.5 92.6 1359.5 88.7 1365.7 85.3C1371.9 82.0 1379.6 78.7 1386.8 76.6C1394.1 74.6 1402.4 72.9 1409.2 72.9Z" fill="#220528" fill-opacity="1" filter="url(#t6b4)" />
<path d="M1409.0 74.1C1415.8 74.1 1421.3 76.0 1427.4 77.8C1433.5 79.6 1440.3 81.9 1445.8 85.2C1451.3 88.4 1456.4 92.7 1460.5 97.4C1464.6 102.1 1467.7 107.4 1470.3 113.4C1473.0 119.3 1475.2 126.4 1476.5 133.0C1477.7 139.5 1478.1 146.1 1477.7 152.6C1477.3 159.1 1476.0 165.9 1474.0 172.2C1472.0 178.5 1468.9 184.9 1465.4 190.6C1461.9 196.3 1457.9 201.6 1453.2 206.5C1448.5 211.4 1442.9 216.4 1437.2 220.0C1431.5 223.7 1425.4 226.4 1418.8 228.6C1412.3 230.9 1404.7 232.7 1398.0 233.5C1391.2 234.3 1384.9 234.1 1378.4 233.5C1371.8 232.9 1364.9 231.9 1358.8 229.8C1352.6 227.8 1346.7 224.7 1341.6 221.3C1336.5 217.8 1332.0 213.7 1328.1 209.0C1324.2 204.3 1320.5 198.6 1318.3 193.1C1316.0 187.5 1315.2 181.8 1314.6 175.9C1314.0 170.0 1314.0 163.4 1314.6 157.5C1315.2 151.6 1316.5 145.9 1318.3 140.3C1320.1 134.8 1322.6 129.5 1325.7 124.4C1328.7 119.3 1332.6 114.2 1336.7 109.7C1340.8 105.2 1345.3 101.3 1350.2 97.4C1355.1 93.5 1360.0 89.7 1366.1 86.4C1372.2 83.1 1379.8 79.9 1387.0 77.8C1394.1 75.8 1402.3 74.1 1409.0 74.1ZM1364.7 104.4C1369.0 100.9 1375.9 97.9 1380.2 97.9C1384.5 97.9 1388.0 100.5 1390.6 104.4C1393.2 108.3 1393.6 115.8 1395.7 121.2C1397.9 126.6 1400.1 132.2 1403.5 136.8C1407.0 141.3 1411.5 145.6 1416.5 148.4C1421.4 151.2 1427.7 153.1 1433.3 153.6C1438.9 154.0 1445.8 150.6 1450.1 151.0C1454.4 151.4 1458.3 152.9 1459.2 156.2C1460.0 159.4 1457.4 165.9 1455.3 170.4C1453.1 174.9 1449.9 180.1 1446.2 183.4C1442.6 186.6 1438.2 188.7 1433.3 189.8C1428.3 190.9 1421.4 189.0 1416.5 189.8C1411.5 190.7 1407.0 192.4 1403.5 195.0C1400.1 197.6 1399.6 203.2 1395.7 205.4C1391.9 207.5 1385.4 208.6 1380.2 207.9C1375.0 207.3 1369.9 203.4 1364.7 201.5C1359.5 199.5 1353.9 198.9 1349.1 196.3C1344.4 193.7 1339.2 190.3 1336.2 185.9C1333.2 181.6 1331.4 175.6 1331.0 170.4C1330.6 165.2 1331.9 159.0 1333.6 154.9C1335.3 150.8 1339.2 149.3 1341.4 145.8C1343.5 142.4 1344.4 138.7 1346.6 134.2C1348.7 129.6 1351.3 123.6 1354.3 118.6C1357.3 113.7 1360.4 107.8 1364.7 104.4Z" fill="#8c1692" fill-opacity="1" filter="url(#t6b4)" fill-rule="evenodd"/>
<path d="M1407.8 81.1C1413.9 81.1 1419.0 82.8 1424.6 84.5C1430.2 86.2 1436.3 88.2 1441.4 91.2C1446.4 94.2 1451.1 98.1 1454.8 102.4C1458.5 106.7 1461.3 111.6 1463.8 117.0C1466.2 122.4 1468.2 128.9 1469.4 134.9C1470.5 140.9 1470.9 146.9 1470.5 152.8C1470.1 158.8 1469.0 165.0 1467.1 170.8C1465.3 176.6 1462.5 182.3 1459.3 187.6C1456.1 192.8 1452.4 197.7 1448.1 202.1C1443.8 206.6 1438.7 211.1 1433.5 214.5C1428.3 217.8 1422.7 220.2 1416.7 222.3C1410.7 224.4 1403.8 226.0 1397.7 226.8C1391.5 227.5 1385.7 227.3 1379.7 226.8C1373.8 226.2 1367.4 225.3 1361.8 223.4C1356.2 221.6 1350.8 218.8 1346.1 215.6C1341.5 212.4 1337.4 208.7 1333.8 204.4C1330.3 200.1 1326.9 194.9 1324.9 189.8C1322.8 184.8 1322.1 179.5 1321.5 174.1C1320.9 168.7 1320.9 162.7 1321.5 157.3C1322.1 151.9 1323.2 146.7 1324.9 141.6C1326.5 136.6 1328.8 131.7 1331.6 127.1C1334.4 122.4 1337.9 117.7 1341.7 113.6C1345.4 109.5 1349.5 106.0 1354.0 102.4C1358.5 98.9 1362.9 95.3 1368.5 92.3C1374.1 89.4 1381.1 86.4 1387.6 84.5C1394.1 82.6 1401.6 81.1 1407.8 81.1Z" fill="none" stroke="#d42cd8" stroke-width="5.5" stroke-opacity="0.55" stroke-linecap="round" stroke-linejoin="round" filter="url(#t6b4)"/>
<ellipse cx="1428.5" cy="116.2" rx="26.4" ry="26.4" fill="#260530" fill-opacity="0.9" filter="url(#t6b3)"/>
<path d="M1343.3 112.7C1342.8 116.5 1340.2 129.3 1340.2 135.1C1340.2 140.9 1342.8 145.5 1343.3 147.6" fill="none" stroke="#ff4cfc" stroke-width="5.0" stroke-opacity="0.4" stroke-linecap="round" stroke-linejoin="round" filter="url(#t6b4)"/>
<path d="M1401.8 86.6C1403.2 87.1 1409.0 89.2 1410.5 89.7" fill="none" stroke="#ff50ff" stroke-width="4.2" stroke-opacity="0.9" stroke-linecap="round" stroke-linejoin="round" filter="url(#t6b3)"/>
<ellipse cx="1451.6" cy="184.9" rx="5.0" ry="6.2" fill="#ff50ff" fill-opacity="0.8" filter="url(#t6b3)"/>
<path d="M1403.0 203.8C1405.1 202.6 1411.7 197.7 1415.5 196.4C1419.2 195.1 1423.8 196.2 1425.4 196.1" fill="none" stroke="#ff4cfc" stroke-width="10.0" stroke-opacity="0.7" stroke-linecap="round" stroke-linejoin="round" filter="url(#t6b3)"/>
<ellipse cx="1465.3" cy="150.1" rx="3.7" ry="5.0" fill="#ff4cfc" fill-opacity="0.5" filter="url(#t6b3)"/>
<ellipse cx="1353.2" cy="220.4" rx="7.5" ry="5.0" fill="#ff4cfc" fill-opacity="0.5" filter="url(#t6b4)"/>
<ellipse cx="1328.3" cy="187.4" rx="6.2" ry="7.5" fill="#ff4cfc" fill-opacity="0.45" filter="url(#t6b4)"/>
<ellipse cx="1430.2" cy="115.0" rx="18.2" ry="18.4" fill="#66ea30" fill-opacity="1" filter="url(#t6b2)"/>
</g>
<rect x="1447.2" y="236.5" width="34.1" height="6" fill="#fff"/>
</g>
<rect x="1500.5" y="51" width="201.5" height="202.0" fill="#0a000c"/>
<g clip-path="url(#tc7)">
<g filter="url(#tgr7)">
<path d="M1603.8 68.5C1608.8 68.5 1616.2 70.1 1622.5 71.6C1628.7 73.2 1635.3 75.0 1641.1 77.9C1647.0 80.8 1652.6 84.7 1657.3 89.1C1662.1 93.4 1666.2 98.8 1669.8 104.0C1673.3 109.2 1676.2 114.6 1678.5 120.2C1680.8 125.8 1682.8 131.8 1683.5 137.6C1684.1 143.4 1683.3 149.2 1682.2 155.0C1681.2 160.9 1678.9 167.1 1677.2 172.5C1675.6 177.9 1674.7 182.4 1672.3 187.4C1669.8 192.4 1666.5 197.8 1662.3 202.3C1658.2 206.9 1652.3 211.1 1647.4 214.8C1642.4 218.5 1636.6 222.6 1632.4 224.7C1628.3 226.9 1626.2 227.0 1622.5 227.9C1618.7 228.7 1615.4 229.4 1610.0 229.7C1604.6 230.0 1596.7 230.1 1590.1 229.7C1583.5 229.3 1576.4 229.1 1570.2 227.2C1564.0 225.4 1558.0 222.3 1552.8 218.5C1547.6 214.8 1543.0 210.0 1539.1 204.8C1535.1 199.6 1531.6 193.2 1529.1 187.4C1526.6 181.6 1525.0 175.8 1524.1 170.0C1523.3 164.2 1523.5 158.4 1524.1 152.6C1524.8 146.7 1526.0 140.7 1527.9 135.1C1529.7 129.5 1532.2 124.1 1535.3 118.9C1538.5 113.8 1542.4 108.8 1546.5 104.0C1550.7 99.2 1555.0 94.5 1560.2 90.3C1565.4 86.2 1572.3 82.2 1577.7 79.1C1583.1 76.0 1588.2 73.4 1592.6 71.6C1597.0 69.9 1598.8 68.5 1603.8 68.5Z" fill="#3a0a42" fill-opacity="0.5" filter="url(#t7b6)" />
<path d="M1603.8 68.5C1608.8 68.5 1616.2 70.1 1622.5 71.6C1628.7 73.2 1635.3 75.0 1641.1 77.9C1647.0 80.8 1652.6 84.7 1657.3 89.1C1662.1 93.4 1666.2 98.8 1669.8 104.0C1673.3 109.2 1676.2 114.6 1678.5 120.2C1680.8 125.8 1682.8 131.8 1683.5 137.6C1684.1 143.4 1683.3 149.2 1682.2 155.0C1681.2 160.9 1678.9 167.1 1677.2 172.5C1675.6 177.9 1674.7 182.4 1672.3 187.4C1669.8 192.4 1666.5 197.8 1662.3 202.3C1658.2 206.9 1652.3 211.1 1647.4 214.8C1642.4 218.5 1636.6 222.6 1632.4 224.7C1628.3 226.9 1626.2 227.0 1622.5 227.9C1618.7 228.7 1615.4 229.4 1610.0 229.7C1604.6 230.0 1596.7 230.1 1590.1 229.7C1583.5 229.3 1576.4 229.1 1570.2 227.2C1564.0 225.4 1558.0 222.3 1552.8 218.5C1547.6 214.8 1543.0 210.0 1539.1 204.8C1535.1 199.6 1531.6 193.2 1529.1 187.4C1526.6 181.6 1525.0 175.8 1524.1 170.0C1523.3 164.2 1523.5 158.4 1524.1 152.6C1524.8 146.7 1526.0 140.7 1527.9 135.1C1529.7 129.5 1532.2 124.1 1535.3 118.9C1538.5 113.8 1542.4 108.8 1546.5 104.0C1550.7 99.2 1555.0 94.5 1560.2 90.3C1565.4 86.2 1572.3 82.2 1577.7 79.1C1583.1 76.0 1588.2 73.4 1592.6 71.6C1597.0 69.9 1598.8 68.5 1603.8 68.5Z" fill="#200428" fill-opacity="1" filter="url(#t7b4)" />
<path d="M1603.8 69.8C1608.7 69.8 1616.1 71.3 1622.2 72.9C1628.3 74.4 1634.9 76.1 1640.6 79.0C1646.3 81.9 1651.8 85.7 1656.5 90.0C1661.2 94.3 1665.3 99.6 1668.8 104.7C1672.3 109.8 1675.1 115.2 1677.4 120.7C1679.6 126.2 1681.7 132.1 1682.3 137.8C1682.9 143.6 1682.1 149.3 1681.1 155.0C1680.0 160.7 1677.8 166.9 1676.2 172.2C1674.5 177.5 1673.7 182.0 1671.2 186.9C1668.8 191.8 1665.5 197.1 1661.4 201.6C1657.4 206.1 1651.6 210.2 1646.7 213.9C1641.8 217.5 1636.1 221.5 1632.0 223.7C1627.9 225.8 1625.9 225.9 1622.2 226.7C1618.5 227.5 1615.3 228.3 1609.9 228.6C1604.6 228.9 1596.9 229.0 1590.3 228.6C1583.8 228.2 1576.8 228.0 1570.7 226.1C1564.6 224.3 1558.7 221.2 1553.5 217.5C1548.4 213.9 1543.9 209.2 1540.1 204.0C1536.2 198.9 1532.7 192.6 1530.3 186.9C1527.8 181.2 1526.2 175.4 1525.3 169.7C1524.5 164.0 1524.7 158.3 1525.3 152.6C1526.0 146.8 1527.2 140.9 1529.0 135.4C1530.9 129.9 1533.3 124.6 1536.4 119.5C1539.4 114.3 1543.3 109.4 1547.4 104.7C1551.5 100.0 1555.8 95.3 1560.9 91.3C1566.0 87.2 1572.8 83.3 1578.1 80.2C1583.4 77.2 1588.5 74.6 1592.8 72.9C1597.1 71.1 1598.9 69.8 1603.8 69.8ZM1554.6 125.1C1559.1 123.1 1565.3 118.9 1570.6 118.5C1575.9 118.0 1581.0 120.0 1586.6 122.5C1592.1 124.9 1597.7 131.1 1603.9 133.1C1610.1 135.1 1617.0 135.1 1623.9 134.4C1630.8 133.8 1638.5 129.3 1645.2 129.1C1651.8 128.9 1658.5 131.1 1663.8 133.1C1669.2 135.1 1675.6 137.1 1677.1 141.1C1678.7 145.1 1675.1 151.8 1673.2 157.1C1671.2 162.4 1667.8 167.7 1665.2 173.1C1662.5 178.4 1660.9 184.2 1657.2 189.1C1653.4 193.9 1647.2 198.4 1642.5 202.4C1637.9 206.4 1633.2 210.6 1629.2 213.0C1625.2 215.5 1623.0 217.0 1618.5 217.0C1614.1 217.0 1608.8 214.1 1602.6 213.0C1596.3 211.9 1587.9 212.1 1581.3 210.4C1574.6 208.6 1568.4 205.9 1562.6 202.4C1556.8 198.8 1551.1 193.9 1546.6 189.1C1542.2 184.2 1538.2 178.4 1536.0 173.1C1533.8 167.7 1533.3 162.4 1533.3 157.1C1533.3 151.8 1534.2 145.5 1536.0 141.1C1537.7 136.7 1540.9 133.1 1544.0 130.5C1547.1 127.8 1550.2 127.1 1554.6 125.1Z" fill="#9c18a4" fill-opacity="1" filter="url(#t7b4)" fill-rule="evenodd"/>
<path d="M1603.9 76.9C1608.4 76.9 1615.1 78.3 1620.7 79.7C1626.3 81.1 1632.3 82.7 1637.5 85.3C1642.7 88.0 1647.8 91.5 1652.1 95.4C1656.4 99.3 1660.1 104.2 1663.3 108.9C1666.4 113.5 1669.1 118.4 1671.1 123.4C1673.2 128.5 1675.0 133.9 1675.6 139.1C1676.1 144.3 1675.4 149.6 1674.5 154.8C1673.5 160.0 1671.5 165.6 1670.0 170.5C1668.5 175.3 1667.7 179.4 1665.5 183.9C1663.3 188.4 1660.3 193.3 1656.5 197.4C1652.8 201.5 1647.6 205.2 1643.1 208.6C1638.6 211.9 1633.4 215.6 1629.7 217.5C1625.9 219.5 1624.1 219.6 1620.7 220.3C1617.3 221.1 1614.3 221.7 1609.5 222.0C1604.6 222.3 1597.5 222.4 1591.6 222.0C1585.6 221.6 1579.2 221.5 1573.6 219.8C1568.0 218.1 1562.6 215.3 1558.0 211.9C1553.3 208.6 1549.2 204.3 1545.6 199.6C1542.1 194.9 1538.9 189.2 1536.7 183.9C1534.4 178.7 1532.9 173.5 1532.2 168.2C1531.5 163.0 1531.6 157.8 1532.2 152.6C1532.8 147.3 1533.9 141.9 1535.6 136.9C1537.2 131.8 1539.5 127.0 1542.3 122.3C1545.1 117.6 1548.6 113.2 1552.4 108.9C1556.1 104.6 1560.0 100.3 1564.7 96.5C1569.4 92.8 1575.5 89.3 1580.4 86.5C1585.2 83.7 1589.9 81.3 1593.8 79.7C1597.7 78.2 1599.4 76.9 1603.9 76.9Z" fill="none" stroke="#ee38f0" stroke-width="5.5" stroke-opacity="0.62" stroke-linecap="round" stroke-linejoin="round" filter="url(#t7b4)"/>
<ellipse cx="1620.0" cy="104.3" rx="26.4" ry="25.4" fill="#1c0322" fill-opacity="0.95" filter="url(#t7b3)"/>
<path d="M1560.2 118.0C1564.4 118.8 1577.9 120.9 1585.1 122.9C1592.4 125.0 1597.6 128.9 1603.8 130.4C1610.0 131.9 1615.2 132.3 1622.5 131.6C1629.7 131.0 1639.3 125.8 1647.4 126.7C1655.5 127.6 1667.1 135.3 1671.0 137.0" fill="none" stroke="#ff4cfc" stroke-width="5.5" stroke-opacity="0.85" stroke-linecap="round" stroke-linejoin="round" filter="url(#t7b3)"/>
<path d="M1547.8 101.5C1551.1 100.5 1561.1 97.4 1567.7 95.3C1574.3 93.2 1584.3 90.1 1587.6 89.1" fill="none" stroke="#ff4cfc" stroke-width="6.2" stroke-opacity="0.45" stroke-linecap="round" stroke-linejoin="round" filter="url(#t7b3)"/>
<path d="M1652.3 97.2C1654.2 100.2 1660.1 109.1 1663.5 115.2C1667.0 121.3 1671.3 130.8 1672.9 133.9" fill="none" stroke="#1c0322" stroke-width="3.2" stroke-opacity="0.8" stroke-linecap="round" stroke-linejoin="round" filter="url(#t7b2)"/>
<path d="M1641.1 89.1C1643.8 92.6 1652.1 102.6 1657.3 110.2C1662.5 117.9 1669.8 131.0 1672.3 135.1" fill="none" stroke="#ff4cfc" stroke-width="3.7" stroke-opacity="0.8" stroke-linecap="round" stroke-linejoin="round" filter="url(#t7b2)"/>
<path d="M1653.6 86.6C1656.4 90.1 1666.0 100.1 1670.4 107.7C1674.8 115.4 1678.4 128.5 1680.0 132.6" fill="none" stroke="#ff4cfc" stroke-width="3.7" stroke-opacity="0.7" stroke-linecap="round" stroke-linejoin="round" filter="url(#t7b2)"/>
<path d="M1631.8 221.6C1634.2 219.8 1640.8 214.4 1646.1 210.4C1651.4 206.5 1660.6 200.1 1663.5 198.0" fill="none" stroke="#1c0322" stroke-width="2.7" stroke-opacity="0.8" stroke-linecap="round" stroke-linejoin="round" filter="url(#t7b2)"/>
<path d="M1626.2 219.8C1628.7 217.8 1635.5 212.0 1641.1 207.9C1646.7 203.9 1656.7 197.6 1659.8 195.5" fill="none" stroke="#ff4cfc" stroke-width="3.7" stroke-opacity="0.9" stroke-linecap="round" stroke-linejoin="round" filter="url(#t7b2)"/>
<path d="M1633.7 225.4C1636.5 223.5 1644.7 218.1 1650.5 214.2C1656.3 210.2 1665.5 203.8 1668.5 201.7" fill="none" stroke="#ff4cfc" stroke-width="3.7" stroke-opacity="0.8" stroke-linecap="round" stroke-linejoin="round" filter="url(#t7b2)"/>
<path d="M1534.7 189.9C1536.5 191.9 1543.5 199.8 1545.3 201.7" fill="none" stroke="#ff50ff" stroke-width="7.0" stroke-opacity="0.9" stroke-linecap="round" stroke-linejoin="round" filter="url(#t7b3)"/>
<path d="M1550.3 208.6C1553.2 209.8 1560.2 213.9 1567.7 216.0C1575.2 218.2 1587.4 220.4 1595.1 221.6C1602.8 222.9 1610.6 223.4 1613.8 223.8" fill="none" stroke="#ff4cfc" stroke-width="6.2" stroke-opacity="0.5" stroke-linecap="round" stroke-linejoin="round" filter="url(#t7b3)"/>
<ellipse cx="1621.5" cy="222.9" rx="2.2" ry="5.0" fill="#18031c" fill-opacity="0.9" filter="url(#t7b2)"/>
<ellipse cx="1619.7" cy="103.4" rx="18.7" ry="18.2" fill="#62e82e" fill-opacity="1" filter="url(#t7b2)"/>
</g>
<rect x="1651.2" y="236.5" width="39.1" height="6" fill="#fff"/>
</g>
<rect x="1708.5" y="51.5" width="199.6" height="199.6" fill="#0a000c"/>
<g clip-path="url(#tc8)">
<g filter="url(#tgr8)">
<path d="M1823.2 65.4C1830.9 65.3 1836.7 66.3 1843.2 68.5C1849.6 70.8 1856.2 74.9 1861.8 79.1C1867.4 83.4 1872.6 88.5 1876.8 94.1C1880.9 99.7 1884.2 106.3 1886.7 112.7C1889.2 119.2 1890.9 125.8 1891.7 132.6C1892.5 139.5 1892.5 147.0 1891.7 153.8C1890.9 160.6 1889.2 167.1 1886.7 173.7C1884.2 180.4 1880.7 187.4 1876.8 193.6C1872.8 199.9 1868.3 205.7 1863.1 211.1C1857.9 216.5 1851.9 221.8 1845.7 226.0C1839.4 230.1 1832.6 233.6 1825.7 236.0C1818.9 238.3 1811.4 239.9 1804.6 240.3C1797.7 240.7 1791.3 240.0 1784.7 238.4C1778.0 236.9 1771.0 234.3 1764.7 231.0C1758.5 227.7 1752.5 223.5 1747.3 218.5C1742.1 213.5 1737.4 207.1 1733.6 201.1C1729.9 195.1 1726.9 188.9 1724.9 182.4C1722.9 176.0 1722.0 169.2 1721.8 162.5C1721.6 155.9 1722.3 149.0 1723.7 142.6C1725.0 136.2 1727.0 129.9 1729.9 123.9C1732.8 117.9 1736.7 111.9 1741.1 106.5C1745.5 101.1 1750.4 96.1 1756.0 91.6C1761.6 87.0 1767.9 82.9 1774.7 79.1C1781.5 75.4 1789.0 71.4 1797.1 69.2C1805.2 66.9 1815.6 65.5 1823.2 65.4Z" fill="#3a0a42" fill-opacity="0.5" filter="url(#t8b6)" />
<path d="M1823.2 65.4C1830.9 65.3 1836.7 66.3 1843.2 68.5C1849.6 70.8 1856.2 74.9 1861.8 79.1C1867.4 83.4 1872.6 88.5 1876.8 94.1C1880.9 99.7 1884.2 106.3 1886.7 112.7C1889.2 119.2 1890.9 125.8 1891.7 132.6C1892.5 139.5 1892.5 147.0 1891.7 153.8C1890.9 160.6 1889.2 167.1 1886.7 173.7C1884.2 180.4 1880.7 187.4 1876.8 193.6C1872.8 199.9 1868.3 205.7 1863.1 211.1C1857.9 216.5 1851.9 221.8 1845.7 226.0C1839.4 230.1 1832.6 233.6 1825.7 236.0C1818.9 238.3 1811.4 239.9 1804.6 240.3C1797.7 240.7 1791.3 240.0 1784.7 238.4C1778.0 236.9 1771.0 234.3 1764.7 231.0C1758.5 227.7 1752.5 223.5 1747.3 218.5C1742.1 213.5 1737.4 207.1 1733.6 201.1C1729.9 195.1 1726.9 188.9 1724.9 182.4C1722.9 176.0 1722.0 169.2 1721.8 162.5C1721.6 155.9 1722.3 149.0 1723.7 142.6C1725.0 136.2 1727.0 129.9 1729.9 123.9C1732.8 117.9 1736.7 111.9 1741.1 106.5C1745.5 101.1 1750.4 96.1 1756.0 91.6C1761.6 87.0 1767.9 82.9 1774.7 79.1C1781.5 75.4 1789.0 71.4 1797.1 69.2C1805.2 66.9 1815.6 65.5 1823.2 65.4Z" fill="#2a0732" fill-opacity="1" filter="url(#t8b4)" />
<path d="M1823.0 66.7C1830.6 66.6 1836.3 67.6 1842.6 69.8C1849.0 72.1 1855.5 76.0 1861.0 80.2C1866.5 84.4 1871.6 89.4 1875.7 94.9C1879.8 100.5 1883.1 107.0 1885.5 113.3C1888.0 119.7 1889.6 126.2 1890.4 133.0C1891.3 139.7 1891.3 147.1 1890.4 153.8C1889.6 160.5 1888.0 166.9 1885.5 173.4C1883.1 179.9 1879.6 186.9 1875.7 193.0C1871.8 199.2 1867.3 204.9 1862.2 210.2C1857.1 215.5 1851.2 220.8 1845.1 224.9C1838.9 229.0 1832.2 232.4 1825.5 234.7C1818.7 237.1 1811.4 238.6 1804.6 239.0C1797.9 239.4 1791.5 238.7 1785.0 237.2C1778.5 235.6 1771.5 233.1 1765.4 229.8C1759.3 226.5 1753.3 222.5 1748.2 217.5C1743.1 212.6 1738.4 206.3 1734.7 200.4C1731.1 194.5 1728.1 188.3 1726.1 182.0C1724.2 175.7 1723.3 168.9 1723.1 162.4C1722.9 155.8 1723.6 149.1 1724.9 142.8C1726.3 136.4 1728.2 130.3 1731.1 124.4C1733.9 118.4 1737.8 112.5 1742.1 107.2C1746.4 101.9 1751.3 97.0 1756.8 92.5C1762.3 88.0 1768.4 83.9 1775.2 80.2C1781.9 76.6 1789.3 72.7 1797.3 70.4C1805.2 68.2 1815.4 66.8 1823.0 66.7ZM1753.8 110.0C1758.3 107.8 1766.4 110.5 1772.7 111.4C1778.9 112.3 1786.5 113.0 1791.5 115.4C1796.4 117.9 1797.7 123.3 1802.2 126.2C1806.7 129.1 1812.3 131.3 1818.4 132.9C1824.4 134.5 1831.8 134.7 1838.5 135.6C1845.2 136.5 1853.3 136.9 1858.7 138.3C1864.1 139.6 1868.1 140.1 1870.8 143.7C1873.5 147.2 1875.0 154.0 1874.8 159.8C1874.6 165.6 1872.1 172.8 1869.4 178.6C1866.8 184.4 1863.2 190.3 1858.7 194.7C1854.2 199.2 1848.4 202.6 1842.6 205.5C1836.7 208.4 1830.5 210.6 1823.7 212.2C1817.0 213.8 1809.4 214.5 1802.2 214.9C1795.1 215.3 1787.4 215.3 1780.7 214.9C1774.0 214.5 1766.8 214.5 1761.9 212.2C1757.0 210.0 1752.9 206.2 1751.1 201.5C1749.4 196.8 1750.7 189.8 1751.1 184.0C1751.6 178.2 1755.1 170.5 1753.8 166.5C1752.6 162.5 1746.0 163.6 1743.8 159.8C1741.5 156.0 1740.1 149.5 1740.4 143.7C1740.7 137.8 1743.5 130.4 1745.8 124.8C1748.0 119.2 1749.4 112.3 1753.8 110.0Z" fill="#8c1692" fill-opacity="1" filter="url(#t8b4)" fill-rule="evenodd"/>
<path d="M1821.6 74.2C1828.5 74.1 1833.8 75.0 1839.6 77.0C1845.3 79.1 1851.3 82.7 1856.4 86.5C1861.4 90.4 1866.1 94.9 1869.8 100.0C1873.5 105.0 1876.5 111.0 1878.8 116.8C1881.0 122.6 1882.5 128.6 1883.2 134.7C1884.0 140.9 1884.0 147.6 1883.2 153.8C1882.5 159.9 1881.0 165.7 1878.8 171.7C1876.5 177.7 1873.3 184.0 1869.8 189.6C1866.3 195.2 1862.1 200.4 1857.5 205.3C1852.8 210.1 1847.4 215.0 1841.8 218.7C1836.2 222.5 1830.0 225.5 1823.9 227.7C1817.7 229.8 1811.0 231.2 1804.8 231.6C1798.7 232.0 1792.9 231.3 1786.9 229.9C1780.9 228.5 1774.6 226.2 1769.0 223.2C1763.4 220.2 1758.0 216.5 1753.3 212.0C1748.6 207.5 1744.3 201.7 1741.0 196.3C1737.6 190.9 1734.9 185.3 1733.1 179.5C1731.4 173.7 1730.5 167.6 1730.3 161.6C1730.1 155.6 1730.8 149.5 1732.0 143.7C1733.2 137.9 1735.0 132.3 1737.6 126.9C1740.2 121.5 1743.8 116.0 1747.7 111.2C1751.6 106.3 1756.1 101.9 1761.1 97.7C1766.2 93.6 1771.8 89.9 1777.9 86.5C1784.1 83.2 1790.8 79.6 1798.1 77.6C1805.4 75.5 1814.7 74.3 1821.6 74.2Z" fill="none" stroke="#d42cd8" stroke-width="5.5" stroke-opacity="0.5" stroke-linecap="round" stroke-linejoin="round" filter="url(#t8b4)"/>
<ellipse cx="1734.9" cy="140.1" rx="4.5" ry="6.2" fill="#ff50ff" fill-opacity="0.6" filter="url(#t8b4)"/>
<ellipse cx="1742.3" cy="196.1" rx="5.0" ry="6.2" fill="#ff50ff" fill-opacity="0.6" filter="url(#t8b4)"/>
<ellipse cx="1870.5" cy="97.8" rx="3.7" ry="5.0" fill="#ff50ff" fill-opacity="0.5" filter="url(#t8b4)"/>
<path d="M1807.1 127.7C1810.8 128.9 1821.6 133.8 1829.5 135.1C1837.4 136.5 1850.2 135.6 1854.4 135.8" fill="none" stroke="#ff4cfc" stroke-width="5.0" stroke-opacity="0.35" stroke-linecap="round" stroke-linejoin="round" filter="url(#t8b4)"/>
<ellipse cx="1827.6" cy="104.6" rx="19.7" ry="20.9" fill="#7cdc40" fill-opacity="1" filter="url(#t8b2)"/>
<ellipse cx="1827.6" cy="104.6" rx="11.2" ry="12.4" fill="#74e83a" fill-opacity="0.6" filter="url(#t8b3)"/>
</g>
<rect x="1867" y="236.5" width="34.0" height="6" fill="#fff"/>
</g>
<rect x="1707.2" y="50.2" width="202.2" height="202.2" fill="none" stroke="#d4691c" stroke-width="2.6"/>
<text x="56.8" y="72.6" font-size="23.5" fill="#8fe44e">Rubisco-mVenus</text>
<text x="55.6" y="89.6" font-size="23.6" fill="#f032f0">Chlorophyll</text>
<text x="1901.8" y="228" font-size="20.4" fill="#fff" text-anchor="end">1 µm</text>
<text x="148.6" y="325.6" font-size="77" text-anchor="middle" >empty</text>
<text x="356.6" y="325.6" font-size="77" text-anchor="middle" >2x</text>
<text x="563.6" y="325.6" font-size="77" text-anchor="middle" >3x</text>
<text x="771" y="325.6" font-size="77" text-anchor="middle" >4x</text>
<text x="978.5" y="325.6" font-size="77" text-anchor="middle" >5x</text>
<text x="1185" y="325.6" font-size="77" text-anchor="middle" >6x</text>
<text x="1392.3" y="325.6" font-size="77" text-anchor="middle" >7x</text>
<text x="1599" y="325.6" font-size="77" text-anchor="middle" >8x</text>
<text x="1806.5" y="325.6" font-size="77" text-anchor="middle" >9x</text>
<text x="711.5" y="426" font-size="72" text-anchor="middle" >Rubisco partitioning</text>
<text transform="translate(106.8,916.5) rotate(-90) scale(1,1.04)" font-size="72" text-anchor="middle">Fraction of Rubisco in pyrenoid</text>
<text transform="translate(714.9,1594.8) scale(1.045,1.0)" font-size="72" text-anchor="middle" >Strain</text>
<rect x="275.5" y="451.5" width="859.0" height="932.0" fill="#fff" stroke="none"/>
<g stroke="#000" stroke-width="2" fill="none"><path d="M341.0 970V1119M341.0 1262.5V1344M321.0 970h40M321.0 1344h40"/><rect x="299.75" y="1119" width="82.5" height="143.5" fill="#ebebeb" stroke-width="2.1"/><path d="M299.75 1210h82.5" stroke-width="2.1"/><path d="M335.0 1184h12M341.0 1178v12" stroke-width="1.8"/></g>
<g stroke="#000" stroke-width="2" fill="none"><path d="M431.8 884V1075.5M431.8 1204.5V1300M411.8 884h40M411.8 1300h40"/><rect x="390.55" y="1075.5" width="82.5" height="129.0" fill="#fdebe1" stroke-width="2.1"/><path d="M390.55 1156h82.5" stroke-width="2.1"/><path d="M425.8 1133h12M431.8 1127v12" stroke-width="1.8"/></g>
<g stroke="#000" stroke-width="2" fill="none"><path d="M522.4 901.5V1075M522.4 1208.5V1286.5M502.4 901.5h40M502.4 1286.5h40"/><rect x="481.15" y="1075" width="82.5" height="133.5" fill="#fcdccb" stroke-width="2.1"/><path d="M481.15 1152h82.5" stroke-width="2.1"/><path d="M516.4 1139.5h12M522.4 1133.5v12" stroke-width="1.8"/></g>
<g stroke="#000" stroke-width="2" fill="none"><path d="M613.4 680V820M613.4 1012.5V1225M593.4 680h40M593.4 1225h40"/><rect x="572.15" y="820" width="82.5" height="192.5" fill="#fbcbb0" stroke-width="2.1"/><path d="M572.15 930h82.5" stroke-width="2.1"/><path d="M607.4 926.5h12M613.4 920.5v12" stroke-width="1.8"/></g>
<g stroke="#000" stroke-width="2" fill="none"><path d="M704.0 548V636.5M704.0 707.5V800M684.0 548h40M684.0 800h40"/><rect x="662.75" y="636.5" width="82.5" height="71.0" fill="#f08a4b" stroke-width="2.1"/><path d="M662.75 672h82.5" stroke-width="2.1"/><path d="M698.0 676h12M704.0 670v12" stroke-width="1.8"/></g>
<g stroke="#000" stroke-width="2" fill="none"><path d="M795.3 549.5V607M795.3 674.7V749.5M775.3 549.5h40M775.3 749.5h40"/><rect x="754.05" y="607" width="82.5" height="67.70000000000005" fill="#f1893f" stroke-width="2.1"/><path d="M754.05 640.3h82.5" stroke-width="2.1"/><path d="M789.3 648h12M795.3 642v12" stroke-width="1.8"/></g>
<g stroke="#000" stroke-width="2" fill="none"><path d="M886.0 578V604.7M886.0 684.7V788.3M866.0 578h40M866.0 788.3h40"/><rect x="844.75" y="604.7" width="82.5" height="80.0" fill="#ee7a2d" stroke-width="2.1"/><path d="M844.75 628.8h82.5" stroke-width="2.1"/><path d="M880.0 651.5h12M886.0 645.5v12" stroke-width="1.8"/></g>
<g stroke="#000" stroke-width="2" fill="none"><path d="M976.6 579V626.4M976.6 672.6V740.6M956.6 579h40M956.6 740.6h40"/><rect x="935.35" y="626.4" width="82.5" height="46.200000000000045" fill="#c75a14" stroke-width="2.1"/><path d="M935.35 647h82.5" stroke-width="2.1"/><path d="M970.6 651.5h12M976.6 645.5v12" stroke-width="1.8"/></g>
<g stroke="#000" stroke-width="2" fill="none"><path d="M1067.8 552.4V605.3M1067.8 672.6V763M1047.8 552.4h40M1047.8 763h40"/><rect x="1026.55" y="605.3" width="82.5" height="67.30000000000007" fill="#c8540c" stroke-width="2.1"/><path d="M1026.55 629.7h82.5" stroke-width="2.1"/><path d="M1061.8 641.8h12M1067.8 635.8v12" stroke-width="1.8"/></g>
<g fill="#000" fill-opacity=".10" stroke="#000" stroke-opacity=".5" stroke-width=".9">
<circle cx="320.3" cy="894.7" r="11.6"/>
<circle cx="325.8" cy="969.7" r="11.6"/>
<circle cx="356.0" cy="984.8" r="11.6"/>
<circle cx="308.3" cy="1034.3" r="11.6"/>
<circle cx="330.3" cy="1046.4" r="11.6"/>
<circle cx="376.5" cy="1032.2" r="11.6"/>
<circle cx="316.7" cy="1048.8" r="11.6"/>
<circle cx="310.7" cy="1057.9" r="11.6"/>
<circle cx="359.6" cy="1061.8" r="11.6"/>
<circle cx="366.6" cy="1076.0" r="11.6"/>
<circle cx="350.0" cy="1078.1" r="11.6"/>
<circle cx="368.1" cy="1086.6" r="11.6"/>
<circle cx="336.4" cy="1090.2" r="11.6"/>
<circle cx="347.5" cy="1091.1" r="11.6"/>
<circle cx="324.3" cy="1117.4" r="11.6"/>
<circle cx="344.5" cy="1116.8" r="11.6"/>
<circle cx="363.5" cy="1122.8" r="11.6"/>
<circle cx="316.7" cy="1128.9" r="11.6"/>
<circle cx="339.4" cy="1133.4" r="11.6"/>
<circle cx="357.5" cy="1130.4" r="11.6"/>
<circle cx="369.6" cy="1134.9" r="11.6"/>
<circle cx="323.7" cy="1139.5" r="11.6"/>
<circle cx="357.5" cy="1150.0" r="11.6"/>
<circle cx="353.0" cy="1157.6" r="11.6"/>
<circle cx="348.4" cy="1165.1" r="11.6"/>
<circle cx="346.9" cy="1172.7" r="11.6"/>
<circle cx="345.4" cy="1178.7" r="11.6"/>
<circle cx="314.3" cy="1176.6" r="11.6"/>
<circle cx="365.1" cy="1192.3" r="11.6"/>
<circle cx="327.3" cy="1195.3" r="11.6"/>
<circle cx="304.6" cy="1199.9" r="11.6"/>
<circle cx="307.7" cy="1218.0" r="11.6"/>
<circle cx="315.2" cy="1216.5" r="11.6"/>
<circle cx="322.8" cy="1218.0" r="11.6"/>
<circle cx="331.8" cy="1219.5" r="11.6"/>
<circle cx="337.9" cy="1225.6" r="11.6"/>
<circle cx="306.1" cy="1219.5" r="11.6"/>
<circle cx="334.8" cy="1231.6" r="11.6"/>
<circle cx="343.9" cy="1239.2" r="11.6"/>
<circle cx="375.6" cy="1239.2" r="11.6"/>
<circle cx="362.0" cy="1243.7" r="11.6"/>
<circle cx="369.6" cy="1249.7" r="11.6"/>
<circle cx="307.7" cy="1245.2" r="11.6"/>
<circle cx="312.2" cy="1249.7" r="11.6"/>
<circle cx="372.6" cy="1254.3" r="11.6"/>
<circle cx="309.2" cy="1263.3" r="11.6"/>
<circle cx="375.6" cy="1275.4" r="11.6"/>
<circle cx="369.6" cy="1273.9" r="11.6"/>
<circle cx="327.3" cy="1281.5" r="11.6"/>
<circle cx="339.4" cy="1284.5" r="11.6"/>
<circle cx="350.0" cy="1283.0" r="11.6"/>
<circle cx="359.0" cy="1283.0" r="11.6"/>
<circle cx="354.5" cy="1287.5" r="11.6"/>
<circle cx="315.2" cy="1292.0" r="11.6"/>
<circle cx="360.5" cy="1295.0" r="11.6"/>
<circle cx="331.8" cy="1298.1" r="11.6"/>
<circle cx="334.8" cy="1301.1" r="11.6"/>
<circle cx="340.3" cy="1318.3" r="11.6"/>
<circle cx="331.8" cy="1334.3" r="11.6"/>
<circle cx="318.8" cy="1344.3" r="11.6"/>
<circle cx="346.3" cy="1186.5" r="11.6"/>
<circle cx="339.5" cy="1245.5" r="11.6"/>
<circle cx="348.3" cy="1193.5" r="11.6"/>
<circle cx="342.9" cy="1153.1" r="11.6"/>
<circle cx="363.1" cy="1208.7" r="11.6"/>
<circle cx="327.8" cy="1141.8" r="11.6"/>
<circle cx="364.3" cy="1141.3" r="11.6"/>
<circle cx="309.0" cy="1216.7" r="11.6"/>
<circle cx="375.5" cy="1252.8" r="11.6"/>
<circle cx="350.3" cy="1211.7" r="11.6"/>
<circle cx="467.8" cy="883.6" r="11.6"/>
<circle cx="409.8" cy="965.1" r="11.6"/>
<circle cx="427.6" cy="998.4" r="11.6"/>
<circle cx="456.6" cy="1008.9" r="11.6"/>
<circle cx="436.1" cy="1047.3" r="11.6"/>
<circle cx="453.6" cy="1058.5" r="11.6"/>
<circle cx="412.5" cy="1074.5" r="11.6"/>
<circle cx="442.1" cy="1079.6" r="11.6"/>
<circle cx="418.5" cy="1115.3" r="11.6"/>
<circle cx="464.8" cy="1123.7" r="11.6"/>
<circle cx="415.5" cy="1132.8" r="11.6"/>
<circle cx="439.1" cy="1148.5" r="11.6"/>
<circle cx="401.3" cy="1152.4" r="11.6"/>
<circle cx="407.4" cy="1159.1" r="11.6"/>
<circle cx="443.6" cy="1165.1" r="11.6"/>
<circle cx="433.0" cy="1174.2" r="11.6"/>
<circle cx="430.0" cy="1189.3" r="11.6"/>
<circle cx="422.5" cy="1201.4" r="11.6"/>
<circle cx="398.3" cy="1205.9" r="11.6"/>
<circle cx="451.2" cy="1212.0" r="11.6"/>
<circle cx="461.7" cy="1212.0" r="11.6"/>
<circle cx="424.6" cy="1213.5" r="11.6"/>
<circle cx="404.3" cy="1234.0" r="11.6"/>
<circle cx="459.3" cy="1234.0" r="11.6"/>
<circle cx="447.5" cy="1300.2" r="11.6"/>
<circle cx="496.5" cy="900.8" r="11.6"/>
<circle cx="522.8" cy="914.4" r="11.6"/>
<circle cx="543.3" cy="919.5" r="11.6"/>
<circle cx="532.1" cy="971.8" r="11.6"/>
<circle cx="537.3" cy="980.8" r="11.6"/>
<circle cx="558.4" cy="983.3" r="11.6"/>
<circle cx="547.2" cy="992.9" r="11.6"/>
<circle cx="494.4" cy="1015.6" r="11.6"/>
<circle cx="499.5" cy="1035.2" r="11.6"/>
<circle cx="491.3" cy="1042.8" r="11.6"/>
<circle cx="548.4" cy="1035.2" r="11.6"/>
<circle cx="511.6" cy="1054.9" r="11.6"/>
<circle cx="529.7" cy="1060.9" r="11.6"/>
<circle cx="540.3" cy="1060.9" r="11.6"/>
<circle cx="553.9" cy="1060.0" r="11.6"/>
<circle cx="507.1" cy="1077.5" r="11.6"/>
<circle cx="525.2" cy="1079.0" r="11.6"/>
<circle cx="550.9" cy="1074.5" r="11.6"/>
<circle cx="537.3" cy="1068.5" r="11.6"/>
<circle cx="502.5" cy="1098.7" r="11.6"/>
<circle cx="513.1" cy="1101.7" r="11.6"/>
<circle cx="523.7" cy="1106.2" r="11.6"/>
<circle cx="526.7" cy="1109.2" r="11.6"/>
<circle cx="493.5" cy="1122.8" r="11.6"/>
<circle cx="508.6" cy="1128.9" r="11.6"/>
<circle cx="537.3" cy="1130.4" r="11.6"/>
<circle cx="496.5" cy="1141.0" r="11.6"/>
<circle cx="504.0" cy="1142.5" r="11.6"/>
<circle cx="510.1" cy="1141.0" r="11.6"/>
<circle cx="516.1" cy="1145.5" r="11.6"/>
<circle cx="511.6" cy="1150.0" r="11.6"/>
<circle cx="493.5" cy="1154.6" r="11.6"/>
<circle cx="502.5" cy="1159.1" r="11.6"/>
<circle cx="514.6" cy="1157.6" r="11.6"/>
<circle cx="526.7" cy="1150.0" r="11.6"/>
<circle cx="550.9" cy="1157.6" r="11.6"/>
<circle cx="558.4" cy="1162.1" r="11.6"/>
<circle cx="541.8" cy="1168.2" r="11.6"/>
<circle cx="487.4" cy="1180.2" r="11.6"/>
<circle cx="538.8" cy="1181.8" r="11.6"/>
<circle cx="544.8" cy="1184.8" r="11.6"/>
<circle cx="505.5" cy="1189.3" r="11.6"/>
<circle cx="513.1" cy="1192.3" r="11.6"/>
<circle cx="517.6" cy="1190.8" r="11.6"/>
<circle cx="526.7" cy="1189.3" r="11.6"/>
<circle cx="534.2" cy="1201.4" r="11.6"/>
<circle cx="496.5" cy="1207.4" r="11.6"/>
<circle cx="520.6" cy="1210.5" r="11.6"/>
<circle cx="538.8" cy="1213.5" r="11.6"/>
<circle cx="547.8" cy="1216.5" r="11.6"/>
<circle cx="553.9" cy="1222.5" r="11.6"/>
<circle cx="558.4" cy="1228.6" r="11.6"/>
<circle cx="488.9" cy="1225.6" r="11.6"/>
<circle cx="495.0" cy="1237.6" r="11.6"/>
<circle cx="487.4" cy="1243.7" r="11.6"/>
<circle cx="501.0" cy="1255.8" r="11.6"/>
<circle cx="534.2" cy="1255.8" r="11.6"/>
<circle cx="535.8" cy="1258.8" r="11.6"/>
<circle cx="522.2" cy="1264.8" r="11.6"/>
<circle cx="498.0" cy="1279.9" r="11.6"/>
<circle cx="516.1" cy="1286.0" r="11.6"/>
<circle cx="531.2" cy="1286.0" r="11.6"/>
<circle cx="491.0" cy="1103.1" r="11.6"/>
<circle cx="493.9" cy="1145.8" r="11.6"/>
<circle cx="506.0" cy="1106.9" r="11.6"/>
<circle cx="520.6" cy="1088.5" r="11.6"/>
<circle cx="545.6" cy="1135.7" r="11.6"/>
<circle cx="532.3" cy="1144.7" r="11.6"/>
<circle cx="533.7" cy="1142.5" r="11.6"/>
<circle cx="508.4" cy="1137.6" r="11.6"/>
<circle cx="555.7" cy="1199.7" r="11.6"/>
<circle cx="536.7" cy="1181.6" r="11.6"/>
<circle cx="625.1" cy="679.0" r="11.6"/>
<circle cx="624.7" cy="689.9" r="11.6"/>
<circle cx="609.3" cy="706.2" r="11.6"/>
<circle cx="612.6" cy="734.3" r="11.6"/>
<circle cx="637.4" cy="757.8" r="11.6"/>
<circle cx="594.9" cy="763.6" r="11.6"/>
<circle cx="612.6" cy="759.6" r="11.6"/>
<circle cx="622.9" cy="764.2" r="11.6"/>
<circle cx="626.6" cy="766.9" r="11.6"/>
<circle cx="622.0" cy="770.5" r="11.6"/>
<circle cx="596.7" cy="777.8" r="11.6"/>
<circle cx="584.9" cy="783.2" r="11.6"/>
<circle cx="576.7" cy="789.5" r="11.6"/>
<circle cx="640.1" cy="785.0" r="11.6"/>
<circle cx="617.5" cy="785.0" r="11.6"/>
<circle cx="593.9" cy="799.5" r="11.6"/>
<circle cx="615.7" cy="795.0" r="11.6"/>
<circle cx="617.5" cy="800.4" r="11.6"/>
<circle cx="646.5" cy="798.6" r="11.6"/>
<circle cx="642.9" cy="806.7" r="11.6"/>
<circle cx="647.4" cy="810.4" r="11.6"/>
<circle cx="580.4" cy="817.6" r="11.6"/>
<circle cx="614.8" cy="815.8" r="11.6"/>
<circle cx="643.8" cy="825.8" r="11.6"/>
<circle cx="593.9" cy="826.7" r="11.6"/>
<circle cx="587.6" cy="828.5" r="11.6"/>
<circle cx="595.8" cy="838.4" r="11.6"/>
<circle cx="601.2" cy="842.1" r="11.6"/>
<circle cx="599.4" cy="845.7" r="11.6"/>
<circle cx="621.1" cy="840.3" r="11.6"/>
<circle cx="668.2" cy="838.4" r="11.6"/>
<circle cx="584.9" cy="858.4" r="11.6"/>
<circle cx="587.6" cy="861.1" r="11.6"/>
<circle cx="600.3" cy="859.3" r="11.6"/>
<circle cx="626.6" cy="863.8" r="11.6"/>
<circle cx="609.3" cy="873.8" r="11.6"/>
<circle cx="643.8" cy="872.9" r="11.6"/>
<circle cx="631.1" cy="882.8" r="11.6"/>
<circle cx="669.1" cy="883.7" r="11.6"/>
<circle cx="587.6" cy="890.1" r="11.6"/>
<circle cx="603.9" cy="893.7" r="11.6"/>
<circle cx="607.5" cy="899.1" r="11.6"/>
<circle cx="578.6" cy="904.6" r="11.6"/>
<circle cx="642.0" cy="910.0" r="11.6"/>
<circle cx="610.3" cy="911.8" r="11.6"/>
<circle cx="577.6" cy="924.5" r="11.6"/>
<circle cx="592.1" cy="933.6" r="11.6"/>
<circle cx="616.6" cy="937.2" r="11.6"/>
<circle cx="582.2" cy="950.9" r="11.6"/>
<circle cx="589.4" cy="952.7" r="11.6"/>
<circle cx="585.8" cy="958.1" r="11.6"/>
<circle cx="602.1" cy="963.6" r="11.6"/>
<circle cx="580.4" cy="965.4" r="11.6"/>
<circle cx="591.2" cy="949.1" r="11.6"/>
<circle cx="613.0" cy="943.6" r="11.6"/>
<circle cx="627.5" cy="947.2" r="11.6"/>
<circle cx="632.9" cy="954.5" r="11.6"/>
<circle cx="636.5" cy="959.9" r="11.6"/>
<circle cx="642.0" cy="965.4" r="11.6"/>
<circle cx="647.4" cy="969.9" r="11.6"/>
<circle cx="627.5" cy="958.1" r="11.6"/>
<circle cx="586.7" cy="986.2" r="11.6"/>
<circle cx="639.2" cy="984.4" r="11.6"/>
<circle cx="599.4" cy="996.2" r="11.6"/>
<circle cx="586.7" cy="1004.3" r="11.6"/>
<circle cx="596.7" cy="1011.6" r="11.6"/>
<circle cx="618.4" cy="1007.9" r="11.6"/>
<circle cx="632.9" cy="1016.1" r="11.6"/>
<circle cx="595.8" cy="1018.8" r="11.6"/>
<circle cx="611.2" cy="1022.4" r="11.6"/>
<circle cx="620.2" cy="1025.1" r="11.6"/>
<circle cx="579.5" cy="1029.7" r="11.6"/>
<circle cx="637.4" cy="1033.3" r="11.6"/>
<circle cx="634.7" cy="1043.3" r="11.6"/>
<circle cx="581.3" cy="1055.0" r="11.6"/>
<circle cx="603.6" cy="1054.5" r="11.6"/>
<circle cx="641.1" cy="1074.4" r="11.6"/>
<circle cx="641.4" cy="1074.8" r="11.6"/>
<circle cx="622.4" cy="1085.8" r="11.6"/>
<circle cx="605.7" cy="1090.7" r="11.6"/>
<circle cx="610.8" cy="1110.7" r="11.6"/>
<circle cx="601.2" cy="1127.5" r="11.6"/>
<circle cx="584.9" cy="1133.5" r="11.6"/>
<circle cx="649.2" cy="1145.6" r="11.6"/>
<circle cx="649.6" cy="1146.7" r="11.6"/>
<circle cx="628.9" cy="1170.4" r="11.6"/>
<circle cx="648.3" cy="1182.4" r="11.6"/>
<circle cx="593.4" cy="1184.9" r="11.6"/>
<circle cx="606.6" cy="1224.4" r="11.6"/>
<circle cx="633.3" cy="1225.3" r="11.6"/>
<circle cx="735.3" cy="547.6" r="11.6"/>
<circle cx="670.4" cy="565.3" r="11.6"/>
<circle cx="671.0" cy="565.9" r="11.6"/>
<circle cx="706.1" cy="569.0" r="11.6"/>
<circle cx="682.2" cy="583.8" r="11.6"/>
<circle cx="715.7" cy="582.6" r="11.6"/>
<circle cx="682.2" cy="596.2" r="11.6"/>
<circle cx="712.1" cy="599.8" r="11.6"/>
<circle cx="738.4" cy="605.2" r="11.6"/>
<circle cx="688.5" cy="607.0" r="11.6"/>
<circle cx="694.0" cy="611.6" r="11.6"/>
<circle cx="703.9" cy="609.8" r="11.6"/>
<circle cx="699.4" cy="618.8" r="11.6"/>
<circle cx="678.6" cy="622.4" r="11.6"/>
<circle cx="684.0" cy="625.2" r="11.6"/>
<circle cx="671.3" cy="629.7" r="11.6"/>
<circle cx="702.1" cy="628.8" r="11.6"/>
<circle cx="723.9" cy="636.9" r="11.6"/>
<circle cx="674.9" cy="646.0" r="11.6"/>
<circle cx="682.2" cy="649.6" r="11.6"/>
<circle cx="691.3" cy="647.8" r="11.6"/>
<circle cx="696.7" cy="655.1" r="11.6"/>
<circle cx="705.8" cy="656.9" r="11.6"/>
<circle cx="731.1" cy="646.0" r="11.6"/>
<circle cx="736.6" cy="649.6" r="11.6"/>
<circle cx="742.0" cy="660.5" r="11.6"/>
<circle cx="714.8" cy="664.1" r="11.6"/>
<circle cx="722.1" cy="667.8" r="11.6"/>
<circle cx="727.5" cy="673.2" r="11.6"/>
<circle cx="687.6" cy="667.8" r="11.6"/>
<circle cx="673.1" cy="685.9" r="11.6"/>
<circle cx="678.6" cy="687.7" r="11.6"/>
<circle cx="691.3" cy="687.7" r="11.6"/>
<circle cx="700.3" cy="685.9" r="11.6"/>
<circle cx="709.4" cy="689.5" r="11.6"/>
<circle cx="674.9" cy="693.1" r="11.6"/>
<circle cx="716.6" cy="696.8" r="11.6"/>
<circle cx="731.1" cy="698.6" r="11.6"/>
<circle cx="705.8" cy="698.6" r="11.6"/>
<circle cx="714.8" cy="655.1" r="11.6"/>
<circle cx="685.8" cy="656.9" r="11.6"/>
<circle cx="739.3" cy="706.7" r="11.6"/>
<circle cx="707.6" cy="718.5" r="11.6"/>
<circle cx="718.4" cy="722.1" r="11.6"/>
<circle cx="722.1" cy="727.6" r="11.6"/>
<circle cx="763.8" cy="728.5" r="11.6"/>
<circle cx="689.4" cy="743.9" r="11.6"/>
<circle cx="674.9" cy="748.4" r="11.6"/>
<circle cx="680.4" cy="749.3" r="11.6"/>
<circle cx="692.2" cy="752.9" r="11.6"/>
<circle cx="719.3" cy="741.2" r="11.6"/>
<circle cx="731.1" cy="741.2" r="11.6"/>
<circle cx="734.8" cy="743.0" r="11.6"/>
<circle cx="740.2" cy="746.6" r="11.6"/>
<circle cx="709.4" cy="762.0" r="11.6"/>
<circle cx="714.8" cy="781.9" r="11.6"/>
<circle cx="685.8" cy="800.1" r="11.6"/>
<circle cx="724.8" cy="824.5" r="11.6"/>
<circle cx="685.0" cy="650.2" r="11.6"/>
<circle cx="673.2" cy="648.1" r="11.6"/>
<circle cx="697.6" cy="686.3" r="11.6"/>
<circle cx="696.6" cy="692.7" r="11.6"/>
<circle cx="730.7" cy="701.6" r="11.6"/>
<circle cx="683.5" cy="625.0" r="11.6"/>
<circle cx="702.8" cy="697.8" r="11.6"/>
<circle cx="697.4" cy="703.4" r="11.6"/>
<circle cx="714.6" cy="630.8" r="11.6"/>
<circle cx="688.0" cy="687.3" r="11.6"/>
<circle cx="692.6" cy="632.0" r="11.6"/>
<circle cx="724.1" cy="702.1" r="11.6"/>
<circle cx="686.2" cy="634.4" r="11.6"/>
<circle cx="672.4" cy="633.1" r="11.6"/>
<circle cx="681.1" cy="688.8" r="11.6"/>
<circle cx="701.1" cy="669.7" r="11.6"/>
<circle cx="722.2" cy="640.3" r="11.6"/>
<circle cx="715.6" cy="635.5" r="11.6"/>
<circle cx="699.1" cy="634.3" r="11.6"/>
<circle cx="688.0" cy="642.0" r="11.6"/>
<circle cx="727.5" cy="702.7" r="11.6"/>
<circle cx="733.5" cy="649.3" r="11.6"/>
<circle cx="826.7" cy="549.0" r="11.6"/>
<circle cx="787.3" cy="588.9" r="11.6"/>
<circle cx="761.9" cy="597.1" r="11.6"/>
<circle cx="815.4" cy="588.0" r="11.6"/>
<circle cx="819.0" cy="590.7" r="11.6"/>
<circle cx="824.5" cy="592.5" r="11.6"/>
<circle cx="780.1" cy="607.9" r="11.6"/>
<circle cx="819.0" cy="598.9" r="11.6"/>
<circle cx="759.2" cy="620.6" r="11.6"/>
<circle cx="763.8" cy="620.6" r="11.6"/>
<circle cx="781.9" cy="615.2" r="11.6"/>
<circle cx="785.5" cy="624.3" r="11.6"/>
<circle cx="807.3" cy="623.3" r="11.6"/>
<circle cx="829.0" cy="620.6" r="11.6"/>
<circle cx="774.6" cy="629.7" r="11.6"/>
<circle cx="794.6" cy="646.0" r="11.6"/>
<circle cx="800.0" cy="649.6" r="11.6"/>
<circle cx="781.9" cy="655.1" r="11.6"/>
<circle cx="772.8" cy="660.5" r="11.6"/>
<circle cx="803.6" cy="661.4" r="11.6"/>
<circle cx="765.6" cy="675.0" r="11.6"/>
<circle cx="771.0" cy="675.9" r="11.6"/>
<circle cx="819.9" cy="638.8" r="11.6"/>
<circle cx="767.4" cy="676.8" r="11.6"/>
<circle cx="777.3" cy="677.7" r="11.6"/>
<circle cx="790.0" cy="709.4" r="11.6"/>
<circle cx="798.2" cy="744.8" r="11.6"/>
<circle cx="831.7" cy="749.3" r="11.6"/>
<circle cx="813.2" cy="782.3" r="11.6"/>
<circle cx="788.4" cy="623.1" r="11.6"/>
<circle cx="806.2" cy="663.0" r="11.6"/>
<circle cx="831.2" cy="616.2" r="11.6"/>
<circle cx="778.6" cy="623.2" r="11.6"/>
<circle cx="783.7" cy="657.9" r="11.6"/>
<circle cx="765.3" cy="628.4" r="11.6"/>
<circle cx="802.0" cy="615.6" r="11.6"/>
<circle cx="803.3" cy="625.1" r="11.6"/>
<circle cx="855.0" cy="577.2" r="11.6"/>
<circle cx="881.8" cy="582.2" r="11.6"/>
<circle cx="915.5" cy="587.6" r="11.6"/>
<circle cx="917.7" cy="589.8" r="11.6"/>
<circle cx="848.1" cy="597.4" r="11.6"/>
<circle cx="858.9" cy="595.3" r="11.6"/>
<circle cx="865.5" cy="593.1" r="11.6"/>
<circle cx="874.2" cy="595.3" r="11.6"/>
<circle cx="887.2" cy="590.9" r="11.6"/>
<circle cx="898.1" cy="593.1" r="11.6"/>
<circle cx="906.8" cy="590.9" r="11.6"/>
<circle cx="863.3" cy="601.8" r="11.6"/>
<circle cx="869.8" cy="604.0" r="11.6"/>
<circle cx="878.5" cy="599.6" r="11.6"/>
<circle cx="893.7" cy="601.8" r="11.6"/>
<circle cx="900.3" cy="606.1" r="11.6"/>
<circle cx="856.8" cy="610.5" r="11.6"/>
<circle cx="867.6" cy="612.7" r="11.6"/>
<circle cx="876.3" cy="617.0" r="11.6"/>
<circle cx="885.0" cy="621.4" r="11.6"/>
<circle cx="895.9" cy="617.0" r="11.6"/>
<circle cx="904.6" cy="621.4" r="11.6"/>
<circle cx="911.1" cy="625.7" r="11.6"/>
<circle cx="900.3" cy="630.1" r="11.6"/>
<circle cx="891.6" cy="634.4" r="11.6"/>
<circle cx="909.0" cy="636.6" r="11.6"/>
<circle cx="852.4" cy="636.6" r="11.6"/>
<circle cx="882.9" cy="638.8" r="11.6"/>
<circle cx="915.5" cy="638.8" r="11.6"/>
<circle cx="885.0" cy="677.9" r="11.6"/>
<circle cx="889.4" cy="680.1" r="11.6"/>
<circle cx="888.3" cy="682.3" r="11.6"/>
<circle cx="904.6" cy="686.6" r="11.6"/>
<circle cx="910.0" cy="688.8" r="11.6"/>
<circle cx="868.7" cy="695.8" r="11.6"/>
<circle cx="922.0" cy="700.8" r="11.6"/>
<circle cx="912.2" cy="711.6" r="11.6"/>
<circle cx="863.3" cy="721.4" r="11.6"/>
<circle cx="892.6" cy="727.5" r="11.6"/>
<circle cx="857.8" cy="735.6" r="11.6"/>
<circle cx="858.9" cy="738.8" r="11.6"/>
<circle cx="856.8" cy="744.3" r="11.6"/>
<circle cx="877.9" cy="766.0" r="11.6"/>
<circle cx="853.5" cy="781.9" r="11.6"/>
<circle cx="875.2" cy="788.2" r="11.6"/>
<circle cx="898.1" cy="873.0" r="11.6"/>
<circle cx="882.6" cy="608.3" r="11.6"/>
<circle cx="884.8" cy="643.5" r="11.6"/>
<circle cx="912.4" cy="620.5" r="11.6"/>
<circle cx="861.1" cy="597.0" r="11.6"/>
<circle cx="908.9" cy="640.5" r="11.6"/>
<circle cx="863.7" cy="601.0" r="11.6"/>
<circle cx="917.7" cy="630.4" r="11.6"/>
<circle cx="918.4" cy="597.8" r="11.6"/>
<circle cx="893.5" cy="638.9" r="11.6"/>
<circle cx="857.5" cy="611.3" r="11.6"/>
<circle cx="919.3" cy="588.3" r="11.6"/>
<circle cx="900.7" cy="600.3" r="11.6"/>
<circle cx="909.3" cy="601.4" r="11.6"/>
<circle cx="871.1" cy="621.8" r="11.6"/>
<circle cx="901.9" cy="596.5" r="11.6"/>
<circle cx="866.4" cy="590.1" r="11.6"/>
<circle cx="911.4" cy="619.6" r="11.6"/>
<circle cx="947.7" cy="578.3" r="11.6"/>
<circle cx="1009.0" cy="591.3" r="11.6"/>
<circle cx="949.2" cy="593.1" r="11.6"/>
<circle cx="967.7" cy="593.1" r="11.6"/>
<circle cx="1012.3" cy="597.4" r="11.6"/>
<circle cx="956.8" cy="601.8" r="11.6"/>
<circle cx="992.7" cy="604.0" r="11.6"/>
<circle cx="961.2" cy="607.2" r="11.6"/>
<circle cx="996.0" cy="617.0" r="11.6"/>
<circle cx="941.6" cy="617.0" r="11.6"/>
<circle cx="948.1" cy="623.5" r="11.6"/>
<circle cx="956.8" cy="621.4" r="11.6"/>
<circle cx="965.5" cy="619.2" r="11.6"/>
<circle cx="987.3" cy="621.4" r="11.6"/>
<circle cx="1002.5" cy="621.4" r="11.6"/>
<circle cx="939.4" cy="680.1" r="11.6"/>
<circle cx="948.1" cy="682.3" r="11.6"/>
<circle cx="956.8" cy="680.1" r="11.6"/>
<circle cx="965.5" cy="677.9" r="11.6"/>
<circle cx="974.2" cy="682.3" r="11.6"/>
<circle cx="982.9" cy="684.4" r="11.6"/>
<circle cx="991.6" cy="682.3" r="11.6"/>
<circle cx="1000.3" cy="686.6" r="11.6"/>
<circle cx="1006.9" cy="684.4" r="11.6"/>
<circle cx="1015.6" cy="673.6" r="11.6"/>
<circle cx="949.2" cy="698.6" r="11.6"/>
<circle cx="980.7" cy="691.0" r="11.6"/>
<circle cx="1004.7" cy="692.1" r="11.6"/>
<circle cx="999.7" cy="712.7" r="11.6"/>
<circle cx="970.3" cy="718.2" r="11.6"/>
<circle cx="981.8" cy="719.3" r="11.6"/>
<circle cx="951.8" cy="726.9" r="11.6"/>
<circle cx="997.1" cy="734.5" r="11.6"/>
<circle cx="1011.2" cy="740.6" r="11.6"/>
<circle cx="969.7" cy="775.4" r="11.6"/>
<circle cx="961.0" cy="653.8" r="11.6"/>
<circle cx="955.3" cy="674.4" r="11.6"/>
<circle cx="960.2" cy="613.1" r="11.6"/>
<circle cx="944.5" cy="642.3" r="11.6"/>
<circle cx="967.7" cy="624.0" r="11.6"/>
<circle cx="949.9" cy="650.9" r="11.6"/>
<circle cx="1006.8" cy="636.6" r="11.6"/>
<circle cx="989.3" cy="678.7" r="11.6"/>
<circle cx="983.8" cy="659.0" r="11.6"/>
<circle cx="942.6" cy="621.5" r="11.6"/>
<circle cx="1008.3" cy="613.2" r="11.6"/>
<circle cx="1012.2" cy="659.7" r="11.6"/>
<circle cx="987.7" cy="613.4" r="11.6"/>
<circle cx="994.8" cy="644.8" r="11.6"/>
<circle cx="1015.0" cy="633.7" r="11.6"/>
<circle cx="981.0" cy="617.1" r="11.6"/>
<circle cx="1007.5" cy="662.1" r="11.6"/>
<circle cx="992.8" cy="662.1" r="11.6"/>
<circle cx="1008.6" cy="665.9" r="11.6"/>
<circle cx="991.4" cy="635.9" r="11.6"/>
<circle cx="1005.3" cy="673.3" r="11.6"/>
<circle cx="999.3" cy="640.4" r="11.6"/>
<circle cx="983.0" cy="670.7" r="11.6"/>
<circle cx="968.7" cy="654.5" r="11.6"/>
<circle cx="985.7" cy="651.6" r="11.6"/>
<circle cx="988.0" cy="617.5" r="11.6"/>
<circle cx="1006.0" cy="679.5" r="11.6"/>
<circle cx="969.1" cy="661.5" r="11.6"/>
<circle cx="983.6" cy="662.0" r="11.6"/>
<circle cx="1002.9" cy="642.0" r="11.6"/>
<circle cx="996.3" cy="617.7" r="11.6"/>
<circle cx="985.1" cy="614.0" r="11.6"/>
<circle cx="957.3" cy="644.7" r="11.6"/>
<circle cx="977.3" cy="659.5" r="11.6"/>
<circle cx="1009.0" cy="653.8" r="11.6"/>
<circle cx="940.8" cy="629.4" r="11.6"/>
<circle cx="990.9" cy="632.5" r="11.6"/>
<circle cx="952.7" cy="625.8" r="11.6"/>
<circle cx="989.5" cy="673.6" r="11.6"/>
<circle cx="1006.9" cy="642.1" r="11.6"/>
<circle cx="989.9" cy="634.2" r="11.6"/>
<circle cx="972.3" cy="625.5" r="11.6"/>
<circle cx="1008.6" cy="666.8" r="11.6"/>
<circle cx="968.8" cy="671.9" r="11.6"/>
<circle cx="963.7" cy="651.7" r="11.6"/>
<circle cx="977.2" cy="621.3" r="11.6"/>
<circle cx="1003.7" cy="668.9" r="11.6"/>
<circle cx="1011.3" cy="660.4" r="11.6"/>
<circle cx="952.7" cy="630.8" r="11.6"/>
<circle cx="960.6" cy="642.6" r="11.6"/>
<circle cx="971.0" cy="626.6" r="11.6"/>
<circle cx="977.0" cy="654.5" r="11.6"/>
<circle cx="1002.9" cy="633.4" r="11.6"/>
<circle cx="973.9" cy="678.8" r="11.6"/>
<circle cx="942.4" cy="617.1" r="11.6"/>
<circle cx="943.1" cy="671.4" r="11.6"/>
<circle cx="1054.7" cy="551.3" r="11.6"/>
<circle cx="1031.9" cy="583.3" r="11.6"/>
<circle cx="1049.3" cy="576.8" r="11.6"/>
<circle cx="1054.7" cy="573.5" r="11.6"/>
<circle cx="1059.1" cy="575.7" r="11.6"/>
<circle cx="1062.3" cy="571.3" r="11.6"/>
<circle cx="1073.2" cy="573.5" r="11.6"/>
<circle cx="1104.7" cy="588.7" r="11.6"/>
<circle cx="1083.0" cy="586.6" r="11.6"/>
<circle cx="1091.7" cy="590.9" r="11.6"/>
<circle cx="1035.1" cy="595.3" r="11.6"/>
<circle cx="1043.8" cy="597.4" r="11.6"/>
<circle cx="1052.5" cy="593.1" r="11.6"/>
<circle cx="1074.3" cy="595.3" r="11.6"/>
<circle cx="1085.2" cy="597.4" r="11.6"/>
<circle cx="1098.2" cy="597.4" r="11.6"/>
<circle cx="1039.5" cy="601.8" r="11.6"/>
<circle cx="1050.4" cy="677.9" r="11.6"/>
<circle cx="1065.6" cy="680.1" r="11.6"/>
<circle cx="1080.8" cy="682.3" r="11.6"/>
<circle cx="1089.5" cy="680.1" r="11.6"/>
<circle cx="1102.6" cy="673.6" r="11.6"/>
<circle cx="1065.6" cy="699.7" r="11.6"/>
<circle cx="1069.9" cy="701.9" r="11.6"/>
<circle cx="1087.3" cy="695.3" r="11.6"/>
<circle cx="1100.4" cy="701.9" r="11.6"/>
<circle cx="1101.5" cy="722.5" r="11.6"/>
<circle cx="1047.1" cy="729.0" r="11.6"/>
<circle cx="1076.5" cy="742.1" r="11.6"/>
<circle cx="1089.5" cy="741.0" r="11.6"/>
<circle cx="1079.7" cy="759.5" r="11.6"/>
<circle cx="1078.6" cy="762.8" r="11.6"/>
<circle cx="1098.2" cy="858.5" r="11.6"/>
<circle cx="1073.4" cy="654.1" r="11.6"/>
<circle cx="1090.2" cy="621.3" r="11.6"/>
<circle cx="1040.3" cy="597.6" r="11.6"/>
<circle cx="1031.9" cy="633.3" r="11.6"/>
<circle cx="1048.0" cy="664.0" r="11.6"/>
<circle cx="1033.6" cy="607.6" r="11.6"/>
<circle cx="1063.9" cy="647.6" r="11.6"/>
<circle cx="1079.8" cy="647.7" r="11.6"/>
<circle cx="1102.8" cy="662.2" r="11.6"/>
<circle cx="1045.1" cy="652.1" r="11.6"/>
<circle cx="1043.6" cy="635.0" r="11.6"/>
<circle cx="1065.9" cy="596.9" r="11.6"/>
<circle cx="1043.6" cy="654.6" r="11.6"/>
<circle cx="1056.3" cy="618.3" r="11.6"/>
<circle cx="1069.6" cy="653.2" r="11.6"/>
<circle cx="1087.5" cy="646.4" r="11.6"/>
<circle cx="1090.2" cy="628.3" r="11.6"/>
<circle cx="1036.6" cy="670.3" r="11.6"/>
<circle cx="1084.9" cy="672.5" r="11.6"/>
<circle cx="1064.5" cy="606.7" r="11.6"/>
<circle cx="1099.2" cy="647.3" r="11.6"/>
<circle cx="1073.2" cy="626.9" r="11.6"/>
<circle cx="1090.6" cy="668.1" r="11.6"/>
<circle cx="1065.2" cy="673.4" r="11.6"/>
<circle cx="1045.6" cy="649.4" r="11.6"/>
<circle cx="1092.2" cy="655.2" r="11.6"/>
<circle cx="1084.5" cy="648.6" r="11.6"/>
<circle cx="1098.4" cy="613.5" r="11.6"/>
<circle cx="1104.3" cy="676.4" r="11.6"/>
<circle cx="1090.1" cy="640.0" r="11.6"/>
<circle cx="1099.2" cy="622.3" r="11.6"/>
<circle cx="1056.5" cy="666.2" r="11.6"/>
<circle cx="1063.5" cy="602.8" r="11.6"/>
<circle cx="1088.4" cy="641.1" r="11.6"/>
<circle cx="1032.2" cy="636.0" r="11.6"/>
<circle cx="1034.9" cy="662.3" r="11.6"/>
<circle cx="1043.1" cy="661.6" r="11.6"/>
<circle cx="1089.9" cy="623.5" r="11.6"/>
<circle cx="1041.3" cy="607.5" r="11.6"/>
<circle cx="1085.0" cy="638.4" r="11.6"/>
<circle cx="1082.4" cy="664.9" r="11.6"/>
<circle cx="1067.4" cy="673.6" r="11.6"/>
<circle cx="1036.5" cy="673.8" r="11.6"/>
<circle cx="1070.0" cy="614.2" r="11.6"/>
<circle cx="1085.4" cy="619.8" r="11.6"/>
<circle cx="1069.7" cy="648.4" r="11.6"/>
<circle cx="1072.6" cy="665.2" r="11.6"/>
<circle cx="1059.0" cy="621.6" r="11.6"/>
<circle cx="1098.4" cy="665.3" r="11.6"/>
<circle cx="1094.7" cy="613.1" r="11.6"/>
<circle cx="1069.8" cy="675.4" r="11.6"/>
<circle cx="1045.3" cy="643.0" r="11.6"/>
<circle cx="1068.2" cy="639.9" r="11.6"/>
<circle cx="1032.1" cy="645.6" r="11.6"/>
<circle cx="1069.2" cy="675.5" r="11.6"/>
<circle cx="1090.9" cy="628.8" r="11.6"/>
</g>
<g stroke="#000" fill="none"><path d="M341.0 970V1119M341.0 1262.5V1344M321.0 970h40M321.0 1344h40" stroke-width="2"/><rect x="299.75" y="1119" width="82.5" height="143.5" stroke-width="2.1"/><path d="M299.75 1210h82.5" stroke-width="2.1"/><path d="M335.0 1184h12M341.0 1178v12" stroke-width="1.8"/></g>
<circle cx="363" cy="1209.5" r="11.8" fill="#000"/>
<text x="340.2" y="850.8" font-size="55" text-anchor="middle" >d</text>
<g stroke="#000" fill="none"><path d="M431.8 884V1075.5M431.8 1204.5V1300M411.8 884h40M411.8 1300h40" stroke-width="2"/><rect x="390.55" y="1075.5" width="82.5" height="129.0" stroke-width="2.1"/><path d="M390.55 1156h82.5" stroke-width="2.1"/><path d="M425.8 1133h12M431.8 1127v12" stroke-width="1.8"/></g>
<circle cx="453.5" cy="1164" r="11.8" fill="#000"/>
<text x="435.40000000000003" y="846.9" font-size="55" text-anchor="middle" letter-spacing="6.5">cd</text>
<g stroke="#000" fill="none"><path d="M522.4 901.5V1075M522.4 1208.5V1286.5M502.4 901.5h40M502.4 1286.5h40" stroke-width="2"/><rect x="481.15" y="1075" width="82.5" height="133.5" stroke-width="2.1"/><path d="M481.15 1152h82.5" stroke-width="2.1"/><path d="M516.4 1139.5h12M522.4 1133.5v12" stroke-width="1.8"/></g>
<circle cx="545" cy="1152" r="11.8" fill="#000"/>
<text x="523.4" y="851.1" font-size="55" text-anchor="middle" >c</text>
<g stroke="#000" fill="none"><path d="M613.4 680V820M613.4 1012.5V1225M593.4 680h40M593.4 1225h40" stroke-width="2"/><rect x="572.15" y="820" width="82.5" height="192.5" stroke-width="2.1"/><path d="M572.15 930h82.5" stroke-width="2.1"/><path d="M607.4 926.5h12M613.4 920.5v12" stroke-width="1.8"/></g>
<circle cx="635.2" cy="923.3" r="11.8" fill="#000"/>
<text x="613.4" y="645" font-size="55" text-anchor="middle" >b</text>
<g stroke="#000" fill="none"><path d="M704.0 548V636.5M704.0 707.5V800M684.0 548h40M684.0 800h40" stroke-width="2"/><rect x="662.75" y="636.5" width="82.5" height="71.0" stroke-width="2.1"/><path d="M662.75 672h82.5" stroke-width="2.1"/><path d="M698.0 676h12M704.0 670v12" stroke-width="1.8"/></g>
<circle cx="726.4" cy="710.4" r="11.8" fill="#000"/>
<text x="703.0" y="521" font-size="55" text-anchor="middle" >a</text>
<g stroke="#000" fill="none"><path d="M795.3 549.5V607M795.3 674.7V749.5M775.3 549.5h40M775.3 749.5h40" stroke-width="2"/><rect x="754.05" y="607" width="82.5" height="67.70000000000005" stroke-width="2.1"/><path d="M754.05 640.3h82.5" stroke-width="2.1"/><path d="M789.3 648h12M795.3 642v12" stroke-width="1.8"/></g>
<circle cx="817" cy="638.5" r="11.8" fill="#000"/>
<text x="794.3" y="521" font-size="55" text-anchor="middle" >a</text>
<g stroke="#000" fill="none"><path d="M886.0 578V604.7M886.0 684.7V788.3M866.0 578h40M866.0 788.3h40" stroke-width="2"/><rect x="844.75" y="604.7" width="82.5" height="80.0" stroke-width="2.1"/><path d="M844.75 628.8h82.5" stroke-width="2.1"/><path d="M880.0 651.5h12M886.0 645.5v12" stroke-width="1.8"/></g>
<circle cx="907.7" cy="668" r="11.8" fill="#000"/>
<text x="885.0" y="521" font-size="55" text-anchor="middle" >a</text>
<g stroke="#000" fill="none"><path d="M976.6 579V626.4M976.6 672.6V740.6M956.6 579h40M956.6 740.6h40" stroke-width="2"/><rect x="935.35" y="626.4" width="82.5" height="46.200000000000045" stroke-width="2.1"/><path d="M935.35 647h82.5" stroke-width="2.1"/><path d="M970.6 651.5h12M976.6 645.5v12" stroke-width="1.8"/></g>
<circle cx="998.3" cy="629.4" r="11.8" fill="#000"/>
<text x="975.6" y="521" font-size="55" text-anchor="middle" >a</text>
<g stroke="#000" fill="none"><path d="M1067.8 552.4V605.3M1067.8 672.6V763M1047.8 552.4h40M1047.8 763h40" stroke-width="2"/><rect x="1026.55" y="605.3" width="82.5" height="67.30000000000007" stroke-width="2.1"/><path d="M1026.55 629.7h82.5" stroke-width="2.1"/><path d="M1061.8 641.8h12M1067.8 635.8v12" stroke-width="1.8"/></g>
<circle cx="1089.5" cy="712.8" r="11.8" fill="#000"/>
<text x="1066.8" y="521" font-size="55" text-anchor="middle" >a</text>
<g stroke="#000" fill="none"><path d="M274.4 449.9V1385.9" stroke-width="4.5"/><path d="M272.2 1383.5H1135.6" stroke-width="3"/><path d="M272.2 451.4H1135.6" stroke-width="3"/><path d="M1133.8 449.9V1385" stroke-width="3.5"/>
<path d="M251 1383.5H275.5" stroke-width="3.1"/>
<path d="M255.5 1174.5H275.5" stroke-width="3.1"/>
<path d="M251 965.5H275.5" stroke-width="3.1"/>
<path d="M255.5 756.5H275.5" stroke-width="3.1"/>
<path d="M251 547.5H275.5" stroke-width="3.1"/>
<path d="M341.0 1383.5V1412.8" stroke-width="3.2"/>
<path d="M431.8 1383.5V1412.8" stroke-width="3.2"/>
<path d="M522.4 1383.5V1412.8" stroke-width="3.2"/>
<path d="M613.4 1383.5V1412.8" stroke-width="3.2"/>
<path d="M704.0 1383.5V1412.8" stroke-width="3.2"/>
<path d="M795.3 1383.5V1412.8" stroke-width="3.2"/>
<path d="M886.0 1383.5V1412.8" stroke-width="3.2"/>
<path d="M976.6 1383.5V1412.8" stroke-width="3.2"/>
<path d="M1067.8 1383.5V1412.8" stroke-width="3.2"/>
</g>
<text transform="translate(242.5,573.2) scale(1.0,1.035)" font-size="72" text-anchor="end" >1.0</text>
<text transform="translate(242.5,991) scale(1.0,1.035)" font-size="72" text-anchor="end" >0.5</text>
<text transform="translate(242.5,1409.2) scale(1.0,1.035)" font-size="72" text-anchor="end" >0</text>
<text transform="translate(370.0,1451) rotate(-45)" font-size="74" text-anchor="end">chassis</text>
<text transform="translate(461.3,1458.5) rotate(-45)" font-size="74" text-anchor="end">2x</text>
<text transform="translate(551.9,1458.5) rotate(-45)" font-size="74" text-anchor="end">3x</text>
<text transform="translate(642.9,1458.5) rotate(-45)" font-size="74" text-anchor="end">4x</text>
<text transform="translate(733.5,1458.5) rotate(-45)" font-size="74" text-anchor="end">5x</text>
<text transform="translate(824.8,1458.5) rotate(-45)" font-size="74" text-anchor="end">6x</text>
<text transform="translate(915.5,1458.5) rotate(-45)" font-size="74" text-anchor="end">7x</text>
<text transform="translate(1006.1,1458.5) rotate(-45)" font-size="74" text-anchor="end">8x</text>
<text transform="translate(1097.3,1458.5) rotate(-45)" font-size="74" text-anchor="end">9x</text>
<text transform="translate(1285.5,425.5) scale(1.025,1.0)" font-size="72.5" text-anchor="start" >low</text>
<text transform="translate(1678,425.5) scale(1.03,1.0)" font-size="72.5" text-anchor="start" >high</text>
<rect x="1425.5" y="379" width="224" height="42" fill="url(#fire)" stroke="#000" stroke-width="2.4"/>
<defs>
<clipPath id="hc0"><rect x="1147.3" y="456.8" width="250.3" height="250.2"/></clipPath>
<filter id="h0b1" filterUnits="userSpaceOnUse" x="1117" y="427" width="310" height="310"><feGaussianBlur stdDeviation="1"/></filter><filter id="h0b2" filterUnits="userSpaceOnUse" x="1117" y="427" width="310" height="310"><feGaussianBlur stdDeviation="2"/></filter><filter id="h0b3" filterUnits="userSpaceOnUse" x="1117" y="427" width="310" height="310"><feGaussianBlur stdDeviation="3"/></filter><filter id="h0b4" filterUnits="userSpaceOnUse" x="1117" y="427" width="310" height="310"><feGaussianBlur stdDeviation="4.5"/></filter><filter id="h0b6" filterUnits="userSpaceOnUse" x="1117" y="427" width="310" height="310"><feGaussianBlur stdDeviation="7"/></filter>
<filter id="hgr0" filterUnits="userSpaceOnUse" x="1145" y="455" width="254" height="254" color-interpolation-filters="sRGB"><feTurbulence type="fractalNoise" baseFrequency="0.1" numOctaves="2" seed="3" result="n"/><feColorMatrix in="n" type="matrix" values="0 0 0 0 1 0 0 0 0 1 0 0 0 0 1 1.4 0 0 0 -0.2" result="a"/><feComposite in="SourceGraphic" in2="a" operator="arithmetic" k1="0.9" k2="0.55" k3="0" k4="0"/></filter>
<clipPath id="hc1"><rect x="1407.2" y="456.8" width="250.3" height="250.2"/></clipPath>
<filter id="h1b1" filterUnits="userSpaceOnUse" x="1377" y="427" width="310" height="310"><feGaussianBlur stdDeviation="1"/></filter><filter id="h1b2" filterUnits="userSpaceOnUse" x="1377" y="427" width="310" height="310"><feGaussianBlur stdDeviation="2"/></filter><filter id="h1b3" filterUnits="userSpaceOnUse" x="1377" y="427" width="310" height="310"><feGaussianBlur stdDeviation="3"/></filter><filter id="h1b4" filterUnits="userSpaceOnUse" x="1377" y="427" width="310" height="310"><feGaussianBlur stdDeviation="4.5"/></filter><filter id="h1b6" filterUnits="userSpaceOnUse" x="1377" y="427" width="310" height="310"><feGaussianBlur stdDeviation="7"/></filter>
<filter id="hgr1" filterUnits="userSpaceOnUse" x="1405" y="455" width="254" height="254" color-interpolation-filters="sRGB"><feTurbulence type="fractalNoise" baseFrequency="0.1" numOctaves="2" seed="4" result="n"/><feColorMatrix in="n" type="matrix" values="0 0 0 0 1 0 0 0 0 1 0 0 0 0 1 1.4 0 0 0 -0.2" result="a"/><feComposite in="SourceGraphic" in2="a" operator="arithmetic" k1="0.9" k2="0.55" k3="0" k4="0"/></filter>
<clipPath id="hc2"><rect x="1667.2" y="456.8" width="250.3" height="250.2"/></clipPath>
<filter id="h2b1" filterUnits="userSpaceOnUse" x="1637" y="427" width="310" height="310"><feGaussianBlur stdDeviation="1"/></filter><filter id="h2b2" filterUnits="userSpaceOnUse" x="1637" y="427" width="310" height="310"><feGaussianBlur stdDeviation="2"/></filter><filter id="h2b3" filterUnits="userSpaceOnUse" x="1637" y="427" width="310" height="310"><feGaussianBlur stdDeviation="3"/></filter><filter id="h2b4" filterUnits="userSpaceOnUse" x="1637" y="427" width="310" height="310"><feGaussianBlur stdDeviation="4.5"/></filter><filter id="h2b6" filterUnits="userSpaceOnUse" x="1637" y="427" width="310" height="310"><feGaussianBlur stdDeviation="7"/></filter>
<filter id="hgr2" filterUnits="userSpaceOnUse" x="1665" y="455" width="254" height="254" color-interpolation-filters="sRGB"><feTurbulence type="fractalNoise" baseFrequency="0.1" numOctaves="2" seed="5" result="n"/><feColorMatrix in="n" type="matrix" values="0 0 0 0 1 0 0 0 0 1 0 0 0 0 1 1.4 0 0 0 -0.2" result="a"/><feComposite in="SourceGraphic" in2="a" operator="arithmetic" k1="0.9" k2="0.55" k3="0" k4="0"/></filter>
<clipPath id="hc3"><rect x="1148" y="793.2" width="249.7" height="249.6"/></clipPath>
<filter id="h3b1" filterUnits="userSpaceOnUse" x="1118" y="763" width="310" height="310"><feGaussianBlur stdDeviation="1"/></filter><filter id="h3b2" filterUnits="userSpaceOnUse" x="1118" y="763" width="310" height="310"><feGaussianBlur stdDeviation="2"/></filter><filter id="h3b3" filterUnits="userSpaceOnUse" x="1118" y="763" width="310" height="310"><feGaussianBlur stdDeviation="3"/></filter><filter id="h3b4" filterUnits="userSpaceOnUse" x="1118" y="763" width="310" height="310"><feGaussianBlur stdDeviation="4.5"/></filter><filter id="h3b6" filterUnits="userSpaceOnUse" x="1118" y="763" width="310" height="310"><feGaussianBlur stdDeviation="7"/></filter>
<filter id="hgr3" filterUnits="userSpaceOnUse" x="1146" y="791" width="254" height="254" color-interpolation-filters="sRGB"><feTurbulence type="fractalNoise" baseFrequency="0.1" numOctaves="2" seed="6" result="n"/><feColorMatrix in="n" type="matrix" values="0 0 0 0 1 0 0 0 0 1 0 0 0 0 1 1.4 0 0 0 -0.2" result="a"/><feComposite in="SourceGraphic" in2="a" operator="arithmetic" k1="0.9" k2="0.55" k3="0" k4="0"/></filter>
<clipPath id="hc4"><rect x="1407.3" y="793.2" width="250.0" height="249.6"/></clipPath>
<filter id="h4b1" filterUnits="userSpaceOnUse" x="1377" y="763" width="310" height="310"><feGaussianBlur stdDeviation="1"/></filter><filter id="h4b2" filterUnits="userSpaceOnUse" x="1377" y="763" width="310" height="310"><feGaussianBlur stdDeviation="2"/></filter><filter id="h4b3" filterUnits="userSpaceOnUse" x="1377" y="763" width="310" height="310"><feGaussianBlur stdDeviation="3"/></filter><filter id="h4b4" filterUnits="userSpaceOnUse" x="1377" y="763" width="310" height="310"><feGaussianBlur stdDeviation="4.5"/></filter><filter id="h4b6" filterUnits="userSpaceOnUse" x="1377" y="763" width="310" height="310"><feGaussianBlur stdDeviation="7"/></filter>
<filter id="hgr4" filterUnits="userSpaceOnUse" x="1405" y="791" width="254" height="254" color-interpolation-filters="sRGB"><feTurbulence type="fractalNoise" baseFrequency="0.1" numOctaves="2" seed="7" result="n"/><feColorMatrix in="n" type="matrix" values="0 0 0 0 1 0 0 0 0 1 0 0 0 0 1 1.4 0 0 0 -0.2" result="a"/><feComposite in="SourceGraphic" in2="a" operator="arithmetic" k1="0.9" k2="0.55" k3="0" k4="0"/></filter>
<clipPath id="hc5"><rect x="1667" y="793.2" width="250.0" height="249.6"/></clipPath>
<filter id="h5b1" filterUnits="userSpaceOnUse" x="1637" y="763" width="310" height="310"><feGaussianBlur stdDeviation="1"/></filter><filter id="h5b2" filterUnits="userSpaceOnUse" x="1637" y="763" width="310" height="310"><feGaussianBlur stdDeviation="2"/></filter><filter id="h5b3" filterUnits="userSpaceOnUse" x="1637" y="763" width="310" height="310"><feGaussianBlur stdDeviation="3"/></filter><filter id="h5b4" filterUnits="userSpaceOnUse" x="1637" y="763" width="310" height="310"><feGaussianBlur stdDeviation="4.5"/></filter><filter id="h5b6" filterUnits="userSpaceOnUse" x="1637" y="763" width="310" height="310"><feGaussianBlur stdDeviation="7"/></filter>
<filter id="hgr5" filterUnits="userSpaceOnUse" x="1665" y="791" width="254" height="254" color-interpolation-filters="sRGB"><feTurbulence type="fractalNoise" baseFrequency="0.1" numOctaves="2" seed="8" result="n"/><feColorMatrix in="n" type="matrix" values="0 0 0 0 1 0 0 0 0 1 0 0 0 0 1 1.4 0 0 0 -0.2" result="a"/><feComposite in="SourceGraphic" in2="a" operator="arithmetic" k1="0.9" k2="0.55" k3="0" k4="0"/></filter>
<clipPath id="hc6"><rect x="1148" y="1128" width="249.7" height="249.8"/></clipPath>
<filter id="h6b1" filterUnits="userSpaceOnUse" x="1118" y="1098" width="310" height="310"><feGaussianBlur stdDeviation="1"/></filter><filter id="h6b2" filterUnits="userSpaceOnUse" x="1118" y="1098" width="310" height="310"><feGaussianBlur stdDeviation="2"/></filter><filter id="h6b3" filterUnits="userSpaceOnUse" x="1118" y="1098" width="310" height="310"><feGaussianBlur stdDeviation="3"/></filter><filter id="h6b4" filterUnits="userSpaceOnUse" x="1118" y="1098" width="310" height="310"><feGaussianBlur stdDeviation="4.5"/></filter><filter id="h6b6" filterUnits="userSpaceOnUse" x="1118" y="1098" width="310" height="310"><feGaussianBlur stdDeviation="7"/></filter>
<filter id="hgr6" filterUnits="userSpaceOnUse" x="1146" y="1126" width="254" height="254" color-interpolation-filters="sRGB"><feTurbulence type="fractalNoise" baseFrequency="0.1" numOctaves="2" seed="9" result="n"/><feColorMatrix in="n" type="matrix" values="0 0 0 0 1 0 0 0 0 1 0 0 0 0 1 1.4 0 0 0 -0.2" result="a"/><feComposite in="SourceGraphic" in2="a" operator="arithmetic" k1="0.9" k2="0.55" k3="0" k4="0"/></filter>
<clipPath id="hc7"><rect x="1407.3" y="1128" width="250.0" height="249.8"/></clipPath>
<filter id="h7b1" filterUnits="userSpaceOnUse" x="1377" y="1098" width="310" height="310"><feGaussianBlur stdDeviation="1"/></filter><filter id="h7b2" filterUnits="userSpaceOnUse" x="1377" y="1098" width="310" height="310"><feGaussianBlur stdDeviation="2"/></filter><filter id="h7b3" filterUnits="userSpaceOnUse" x="1377" y="1098" width="310" height="310"><feGaussianBlur stdDeviation="3"/></filter><filter id="h7b4" filterUnits="userSpaceOnUse" x="1377" y="1098" width="310" height="310"><feGaussianBlur stdDeviation="4.5"/></filter><filter id="h7b6" filterUnits="userSpaceOnUse" x="1377" y="1098" width="310" height="310"><feGaussianBlur stdDeviation="7"/></filter>
<filter id="hgr7" filterUnits="userSpaceOnUse" x="1405" y="1126" width="254" height="254" color-interpolation-filters="sRGB"><feTurbulence type="fractalNoise" baseFrequency="0.1" numOctaves="2" seed="10" result="n"/><feColorMatrix in="n" type="matrix" values="0 0 0 0 1 0 0 0 0 1 0 0 0 0 1 1.4 0 0 0 -0.2" result="a"/><feComposite in="SourceGraphic" in2="a" operator="arithmetic" k1="0.9" k2="0.55" k3="0" k4="0"/></filter>
<clipPath id="hc8"><rect x="1670" y="1133.5" width="246.2" height="244.3"/></clipPath>
<filter id="h8b1" filterUnits="userSpaceOnUse" x="1640" y="1104" width="306" height="304"><feGaussianBlur stdDeviation="1"/></filter><filter id="h8b2" filterUnits="userSpaceOnUse" x="1640" y="1104" width="306" height="304"><feGaussianBlur stdDeviation="2"/></filter><filter id="h8b3" filterUnits="userSpaceOnUse" x="1640" y="1104" width="306" height="304"><feGaussianBlur stdDeviation="3"/></filter><filter id="h8b4" filterUnits="userSpaceOnUse" x="1640" y="1104" width="306" height="304"><feGaussianBlur stdDeviation="4.5"/></filter><filter id="h8b6" filterUnits="userSpaceOnUse" x="1640" y="1104" width="306" height="304"><feGaussianBlur stdDeviation="7"/></filter>
<filter id="hgr8" filterUnits="userSpaceOnUse" x="1668" y="1132" width="250" height="248" color-interpolation-filters="sRGB"><feTurbulence type="fractalNoise" baseFrequency="0.1" numOctaves="2" seed="11" result="n"/><feColorMatrix in="n" type="matrix" values="0 0 0 0 1 0 0 0 0 1 0 0 0 0 1 1.4 0 0 0 -0.2" result="a"/><feComposite in="SourceGraphic" in2="a" operator="arithmetic" k1="0.9" k2="0.55" k3="0" k4="0"/></filter>
</defs>
<rect x="1147.3" y="456.8" width="250.3" height="250.2" fill="#000"/>
<g clip-path="url(#hc0)">
<g filter="url(#hgr0)">
<path d="M1304.7 493.1C1316.7 494.0 1331.4 499.2 1340.7 506.0C1350.1 512.8 1357.9 523.2 1360.8 533.8C1363.7 544.5 1360.7 558.3 1358.2 569.9C1355.7 581.5 1351.4 593.1 1345.9 603.4C1340.4 613.7 1333.9 623.5 1325.3 631.7C1316.7 639.9 1305.5 647.2 1294.4 652.3C1283.2 657.4 1269.5 661.3 1258.3 662.1C1247.2 662.9 1236.3 661.1 1227.4 656.9C1218.5 652.7 1210.2 644.9 1204.7 636.8C1199.3 628.8 1195.7 618.4 1194.4 608.5C1193.2 598.6 1194.1 587.5 1197.0 577.6C1199.9 567.7 1205.2 558.6 1212.0 549.3C1218.7 539.9 1228.3 529.5 1237.7 521.5C1247.2 513.4 1257.5 505.6 1268.6 500.9C1279.8 496.1 1292.7 492.3 1304.7 493.1Z" fill="#10044c" fill-opacity="1" filter="url(#h0b4)"/>
<path d="M1304.7 493.1C1316.7 494.0 1331.4 499.2 1340.7 506.0C1350.1 512.8 1357.9 523.2 1360.8 533.8C1363.7 544.5 1360.7 558.3 1358.2 569.9C1355.7 581.5 1351.4 593.1 1345.9 603.4C1340.4 613.7 1333.9 623.5 1325.3 631.7C1316.7 639.9 1305.5 647.2 1294.4 652.3C1283.2 657.4 1269.5 661.3 1258.3 662.1C1247.2 662.9 1236.3 661.1 1227.4 656.9C1218.5 652.7 1210.2 644.9 1204.7 636.8C1199.3 628.8 1195.7 618.4 1194.4 608.5C1193.2 598.6 1194.1 587.5 1197.0 577.6C1199.9 567.7 1205.2 558.6 1212.0 549.3C1218.7 539.9 1228.3 529.5 1237.7 521.5C1247.2 513.4 1257.5 505.6 1268.6 500.9C1279.8 496.1 1292.7 492.3 1304.7 493.1Z" fill="none" stroke="#2c0c90" stroke-width="38.6" stroke-opacity="0.45" stroke-linecap="round" stroke-linejoin="round" filter="url(#h0b6)" />
<path d="M1304.7 493.1C1316.7 494.0 1331.4 499.2 1340.7 506.0C1350.1 512.8 1357.9 523.2 1360.8 533.8C1363.7 544.5 1360.7 558.3 1358.2 569.9C1355.7 581.5 1351.4 593.1 1345.9 603.4C1340.4 613.7 1333.9 623.5 1325.3 631.7C1316.7 639.9 1305.5 647.2 1294.4 652.3C1283.2 657.4 1269.5 661.3 1258.3 662.1C1247.2 662.9 1236.3 661.1 1227.4 656.9C1218.5 652.7 1210.2 644.9 1204.7 636.8C1199.3 628.8 1195.7 618.4 1194.4 608.5C1193.2 598.6 1194.1 587.5 1197.0 577.6C1199.9 567.7 1205.2 558.6 1212.0 549.3C1218.7 539.9 1228.3 529.5 1237.7 521.5C1247.2 513.4 1257.5 505.6 1268.6 500.9C1279.8 496.1 1292.7 492.3 1304.7 493.1Z" fill="none" stroke="#4a14cc" stroke-width="20.1" stroke-opacity="0.95" stroke-linecap="round" stroke-linejoin="round" filter="url(#h0b4)" />
<path d="M1289.2 490.1C1296.1 483.6 1327.4 484.5 1340.7 492.6C1354.0 500.8 1366.0 524.8 1369.1 539.0C1372.1 553.2 1366.0 573.3 1358.8 577.6C1351.5 581.9 1335.1 572.5 1325.3 564.7C1315.4 557.0 1305.5 543.7 1299.5 531.3C1293.5 518.8 1282.4 496.5 1289.2 490.1Z" fill="#5a18d8" fill-opacity="0.7" filter="url(#h0b6)"/>
<path d="M1197.8 567.3C1196.9 571.6 1192.2 584.1 1192.6 593.1C1193.1 602.1 1199.1 616.7 1200.4 621.4" fill="none" stroke="#a024c4" stroke-width="11.3" stroke-opacity="0.75" stroke-linecap="round" stroke-linejoin="round" filter="url(#h0b4)" />
<path d="M1242.9 663.9C1245.9 662.0 1253.2 654.7 1260.9 652.3C1268.6 649.9 1281.1 651.9 1289.2 649.7C1297.4 647.6 1306.4 641.1 1309.8 639.4" fill="none" stroke="#8a22d8" stroke-width="12.9" stroke-opacity="0.8" stroke-linecap="round" stroke-linejoin="round" filter="url(#h0b4)" />
<path d="M1214.5 657.5C1215.8 657.9 1221.0 659.6 1222.3 660.0" fill="none" stroke="#8a22d8" stroke-width="7.7" stroke-opacity="0.7" stroke-linecap="round" stroke-linejoin="round" filter="url(#h0b3)" />
<path d="M1258.3 502.9C1263.5 500.8 1280.2 493.1 1289.2 490.1C1298.2 487.1 1308.5 485.8 1312.4 484.9" fill="none" stroke="#7a20dc" stroke-width="7.7" stroke-opacity="0.6" stroke-linecap="round" stroke-linejoin="round" filter="url(#h0b3)" />
<ellipse cx="1264.0" cy="589.7" rx="4.4" ry="4.4" fill="#7a24e8" fill-opacity="0.9" filter="url(#h0b2)"/>
<ellipse cx="1330.4" cy="528.7" rx="23.2" ry="20.6" fill="#b0208c" fill-opacity="0.35" filter="url(#h0b4)"/>

</g>
<ellipse cx="1328.4" cy="511.9" rx="7.7" ry="7.7" fill="url(#hot)" filter="url(#h0b1)"/>
<ellipse cx="1321.7" cy="518.4" rx="13.4" ry="12.9" fill="url(#hot)" filter="url(#h0b1)"/>
<ellipse cx="1333.0" cy="534.4" rx="9.8" ry="9.8" fill="url(#hot)" filter="url(#h0b1)"/>
<ellipse cx="1325.3" cy="523.5" rx="5.2" ry="8.8" fill="#fff8b0" fill-opacity="1" filter="url(#h0b2)" transform="rotate(-40 1325.3 523.5)"/>
<ellipse cx="1388.4" cy="685.8" rx="10.3" ry="15.5" fill="#5a18d8" fill-opacity="0.9" filter="url(#h0b4)"/>
<ellipse cx="1388.6" cy="684.5" rx="3.3" ry="6.2" fill="#f8600c" fill-opacity="1" filter="url(#h0b2)"/>
<rect x="1335.6" y="679.3" width="47.6" height="13.9" fill="#fff"/>
</g>
<rect x="1407.2" y="456.8" width="250.3" height="250.2" fill="#000"/>
<g clip-path="url(#hc1)">
<g filter="url(#hgr1)">
<path d="M1569.8 493.1C1581.8 494.0 1592.1 499.7 1600.7 506.0C1609.3 512.4 1617.3 521.9 1621.3 531.3C1625.3 540.6 1625.3 551.0 1624.7 562.2C1624.0 573.3 1621.7 586.6 1617.5 598.2C1613.3 609.8 1606.9 621.8 1599.4 631.7C1591.9 641.6 1582.5 651.1 1572.4 657.5C1562.3 663.8 1549.6 668.2 1538.9 669.8C1528.2 671.4 1517.9 670.6 1508.0 667.2C1498.1 663.9 1487.8 656.9 1479.7 649.7C1471.6 642.5 1464.8 632.6 1459.6 624.0C1454.4 615.4 1449.6 607.2 1448.3 598.2C1447.0 589.2 1448.8 579.3 1451.9 569.9C1455.0 560.4 1460.0 550.1 1466.8 541.6C1473.6 533.1 1482.3 525.7 1492.6 518.9C1502.9 512.1 1515.7 505.2 1528.6 500.9C1541.5 496.6 1557.8 492.3 1569.8 493.1Z" fill="#0e0444" fill-opacity="1" filter="url(#h1b4)"/>
<path d="M1569.8 493.1C1581.8 494.0 1592.1 499.7 1600.7 506.0C1609.3 512.4 1617.3 521.9 1621.3 531.3C1625.3 540.6 1625.3 551.0 1624.7 562.2C1624.0 573.3 1621.7 586.6 1617.5 598.2C1613.3 609.8 1606.9 621.8 1599.4 631.7C1591.9 641.6 1582.5 651.1 1572.4 657.5C1562.3 663.8 1549.6 668.2 1538.9 669.8C1528.2 671.4 1517.9 670.6 1508.0 667.2C1498.1 663.9 1487.8 656.9 1479.7 649.7C1471.6 642.5 1464.8 632.6 1459.6 624.0C1454.4 615.4 1449.6 607.2 1448.3 598.2C1447.0 589.2 1448.8 579.3 1451.9 569.9C1455.0 560.4 1460.0 550.1 1466.8 541.6C1473.6 533.1 1482.3 525.7 1492.6 518.9C1502.9 512.1 1515.7 505.2 1528.6 500.9C1541.5 496.6 1557.8 492.3 1569.8 493.1Z" fill="none" stroke="#240a80" stroke-width="36.1" stroke-opacity="0.45" stroke-linecap="round" stroke-linejoin="round" filter="url(#h1b6)" />
<path d="M1569.8 493.1C1581.8 494.0 1592.1 499.7 1600.7 506.0C1609.3 512.4 1617.3 521.9 1621.3 531.3C1625.3 540.6 1625.3 551.0 1624.7 562.2C1624.0 573.3 1621.7 586.6 1617.5 598.2C1613.3 609.8 1606.9 621.8 1599.4 631.7C1591.9 641.6 1582.5 651.1 1572.4 657.5C1562.3 663.8 1549.6 668.2 1538.9 669.8C1528.2 671.4 1517.9 670.6 1508.0 667.2C1498.1 663.9 1487.8 656.9 1479.7 649.7C1471.6 642.5 1464.8 632.6 1459.6 624.0C1454.4 615.4 1449.6 607.2 1448.3 598.2C1447.0 589.2 1448.8 579.3 1451.9 569.9C1455.0 560.4 1460.0 550.1 1466.8 541.6C1473.6 533.1 1482.3 525.7 1492.6 518.9C1502.9 512.1 1515.7 505.2 1528.6 500.9C1541.5 496.6 1557.8 492.3 1569.8 493.1Z" fill="none" stroke="#3c12b4" stroke-width="18.0" stroke-opacity="0.9" stroke-linecap="round" stroke-linejoin="round" filter="url(#h1b4)" />
<path d="M1544.1 487.5C1549.2 481.0 1586.1 484.5 1600.7 492.6C1615.3 500.8 1629.9 527.4 1631.6 536.4C1633.3 545.4 1621.3 547.6 1611.0 546.7C1600.7 545.9 1581.0 541.1 1569.8 531.3C1558.7 521.4 1538.9 493.9 1544.1 487.5Z" fill="#5216cc" fill-opacity="0.65" filter="url(#h1b6)"/>
<path d="M1526.0 660.0C1529.9 659.6 1541.1 659.6 1549.2 657.5C1557.4 655.3 1570.7 648.9 1575.0 647.1" fill="none" stroke="#7a20e0" stroke-width="10.3" stroke-opacity="0.85" stroke-linecap="round" stroke-linejoin="round" filter="url(#h1b4)" />
<path d="M1452.6 608.5C1455.0 612.4 1461.9 624.8 1466.8 631.7C1471.7 638.6 1479.7 646.7 1482.3 649.7" fill="none" stroke="#5a1ad0" stroke-width="9.3" stroke-opacity="0.7" stroke-linecap="round" stroke-linejoin="round" filter="url(#h1b4)" />
<ellipse cx="1547.9" cy="581.5" rx="7.7" ry="6.7" fill="#3a12a8" fill-opacity="0.7" filter="url(#h1b4)"/>
<ellipse cx="1589.1" cy="521.0" rx="23.2" ry="20.6" fill="#9a1c9c" fill-opacity="0.35" filter="url(#h1b4)"/>

</g>
<ellipse cx="1586.8" cy="517.1" rx="16.0" ry="16.0" fill="url(#hot)" filter="url(#h1b1)"/>
<rect x="1588.5" y="679.3" width="54.5" height="13.9" fill="#fff"/>
</g>
<rect x="1667.2" y="456.8" width="250.3" height="250.2" fill="#000"/>
<g clip-path="url(#hc2)">
<g filter="url(#hgr2)">
<path d="M1827.4 498.3C1837.7 500.0 1850.2 507.0 1858.3 513.7C1866.3 520.5 1872.9 529.2 1875.8 539.0C1878.7 548.8 1877.4 561.3 1875.8 572.5C1874.1 583.6 1870.6 595.6 1866.0 605.9C1861.3 616.2 1855.3 625.7 1848.0 634.3C1840.7 642.9 1831.6 652.0 1822.2 657.5C1812.8 662.9 1801.6 666.8 1791.3 667.2C1781.0 667.7 1769.8 664.2 1760.4 660.0C1751.0 655.8 1741.4 649.3 1734.6 642.0C1727.9 634.7 1723.1 625.3 1719.7 616.2C1716.4 607.2 1714.1 597.4 1714.6 587.9C1715.0 578.5 1718.1 568.2 1722.3 559.6C1726.5 551.0 1732.6 543.2 1739.8 536.4C1747.0 529.6 1756.1 524.4 1765.5 518.9C1775.0 513.4 1786.1 506.9 1796.4 503.4C1806.8 500.0 1817.1 496.6 1827.4 498.3Z" fill="#10044c" fill-opacity="1" filter="url(#h2b4)"/>
<path d="M1827.4 498.3C1837.7 500.0 1850.2 507.0 1858.3 513.7C1866.3 520.5 1872.9 529.2 1875.8 539.0C1878.7 548.8 1877.4 561.3 1875.8 572.5C1874.1 583.6 1870.6 595.6 1866.0 605.9C1861.3 616.2 1855.3 625.7 1848.0 634.3C1840.7 642.9 1831.6 652.0 1822.2 657.5C1812.8 662.9 1801.6 666.8 1791.3 667.2C1781.0 667.7 1769.8 664.2 1760.4 660.0C1751.0 655.8 1741.4 649.3 1734.6 642.0C1727.9 634.7 1723.1 625.3 1719.7 616.2C1716.4 607.2 1714.1 597.4 1714.6 587.9C1715.0 578.5 1718.1 568.2 1722.3 559.6C1726.5 551.0 1732.6 543.2 1739.8 536.4C1747.0 529.6 1756.1 524.4 1765.5 518.9C1775.0 513.4 1786.1 506.9 1796.4 503.4C1806.8 500.0 1817.1 496.6 1827.4 498.3Z" fill="none" stroke="#280a88" stroke-width="38.6" stroke-opacity="0.45" stroke-linecap="round" stroke-linejoin="round" filter="url(#h2b6)" />
<path d="M1827.4 498.3C1837.7 500.0 1850.2 507.0 1858.3 513.7C1866.3 520.5 1872.9 529.2 1875.8 539.0C1878.7 548.8 1877.4 561.3 1875.8 572.5C1874.1 583.6 1870.6 595.6 1866.0 605.9C1861.3 616.2 1855.3 625.7 1848.0 634.3C1840.7 642.9 1831.6 652.0 1822.2 657.5C1812.8 662.9 1801.6 666.8 1791.3 667.2C1781.0 667.7 1769.8 664.2 1760.4 660.0C1751.0 655.8 1741.4 649.3 1734.6 642.0C1727.9 634.7 1723.1 625.3 1719.7 616.2C1716.4 607.2 1714.1 597.4 1714.6 587.9C1715.0 578.5 1718.1 568.2 1722.3 559.6C1726.5 551.0 1732.6 543.2 1739.8 536.4C1747.0 529.6 1756.1 524.4 1765.5 518.9C1775.0 513.4 1786.1 506.9 1796.4 503.4C1806.8 500.0 1817.1 496.6 1827.4 498.3Z" fill="none" stroke="#4414c0" stroke-width="19.6" stroke-opacity="0.92" stroke-linecap="round" stroke-linejoin="round" filter="url(#h2b4)" />
<path d="M1786.1 500.4C1790.4 491.3 1826.5 490.9 1842.8 497.8C1859.1 504.6 1878.0 524.8 1884.0 541.6C1890.0 558.3 1884.9 583.6 1878.9 598.2C1872.9 612.8 1856.5 630.8 1848.0 629.1C1839.4 627.4 1832.5 600.8 1827.4 587.9C1822.2 575.0 1823.9 566.5 1817.1 551.9C1810.2 537.3 1781.9 509.4 1786.1 500.4Z" fill="#5216cc" fill-opacity="0.7" filter="url(#h2b6)"/>
<path d="M1714.0 603.4C1714.7 606.4 1717.3 618.4 1717.9 621.4" fill="none" stroke="#7a20e0" stroke-width="8.8" stroke-opacity="0.8" stroke-linecap="round" stroke-linejoin="round" filter="url(#h2b4)" />
<path d="M1866.0 598.2C1863.8 602.1 1855.3 617.5 1853.1 621.4" fill="none" stroke="#7a20e0" stroke-width="10.3" stroke-opacity="0.8" stroke-linecap="round" stroke-linejoin="round" filter="url(#h2b4)" />
<path d="M1744.9 660.0C1748.4 660.7 1762.1 663.2 1765.5 663.9" fill="none" stroke="#6a1edc" stroke-width="8.8" stroke-opacity="0.7" stroke-linecap="round" stroke-linejoin="round" filter="url(#h2b4)" />
<ellipse cx="1811.9" cy="632.2" rx="4.1" ry="4.1" fill="#6a1edc" fill-opacity="0.8" filter="url(#h2b2)"/>

</g>
<ellipse cx="1842.8" cy="538.5" rx="20.1" ry="25.8" fill="url(#hot)" filter="url(#h2b1)"/>
<path d="M1832.5 523.5C1835.1 522.9 1844.5 524.4 1848.0 527.4C1851.4 530.4 1853.5 537.3 1853.1 541.6C1852.8 545.9 1848.8 552.7 1845.9 553.2C1843.0 553.6 1837.8 547.8 1835.6 544.1C1833.4 540.5 1833.0 534.7 1832.5 531.3C1832.0 527.8 1829.9 524.2 1832.5 523.5Z" fill="none" stroke="#ffb400" stroke-width="6.7" stroke-opacity="1" stroke-linecap="round" stroke-linejoin="round" filter="url(#h2b2)" />
<path d="M1834.6 539.0C1835.3 540.6 1837.1 546.6 1838.9 548.8C1840.8 550.9 1844.7 551.3 1845.9 551.9" fill="none" stroke="#fff6a0" stroke-width="5.7" stroke-opacity="1" stroke-linecap="round" stroke-linejoin="round" filter="url(#h2b2)" />
<ellipse cx="1842.8" cy="535.1" rx="3.3" ry="3.9" fill="#8a1a9a" fill-opacity="1" filter="url(#h2b2)"/>
<rect x="1856.2" y="679.3" width="46.8" height="13.9" fill="#fff"/>
</g>
<rect x="1148" y="793.2" width="249.7" height="249.6" fill="#000"/>
<g clip-path="url(#hc3)">
<g filter="url(#hgr3)">
<path d="M1362.8 914.8C1362.8 925.4 1360.3 936.8 1355.8 946.7C1351.3 956.5 1344.2 966.2 1335.9 973.7C1327.6 981.2 1316.9 987.7 1306.1 991.7C1295.3 995.8 1282.7 998.1 1270.9 998.1C1259.2 998.1 1246.6 995.8 1235.8 991.7C1225.0 987.7 1214.3 981.2 1206.0 973.7C1197.7 966.2 1190.6 956.5 1186.1 946.7C1181.6 936.8 1179.1 925.4 1179.1 914.8C1179.1 904.1 1181.6 892.7 1186.1 882.9C1190.6 873.1 1197.7 863.4 1206.0 855.9C1214.3 848.4 1225.0 841.9 1235.8 837.8C1246.6 833.7 1259.2 831.5 1270.9 831.5C1282.7 831.5 1295.3 833.7 1306.1 837.8C1316.9 841.9 1327.6 848.4 1335.9 855.9C1344.2 863.4 1351.3 873.1 1355.8 882.9C1360.3 892.7 1362.8 904.1 1362.8 914.8Z" fill="none" stroke="#180868" stroke-width="31.0" stroke-opacity="0.4" stroke-linecap="round" stroke-linejoin="round" filter="url(#h3b6)" />
<path d="M1362.8 914.8C1362.8 925.4 1360.3 936.8 1355.8 946.7C1351.3 956.5 1344.2 966.2 1335.9 973.7C1327.6 981.2 1316.9 987.7 1306.1 991.7C1295.3 995.8 1282.7 998.1 1270.9 998.1C1259.2 998.1 1246.6 995.8 1235.8 991.7C1225.0 987.7 1214.3 981.2 1206.0 973.7C1197.7 966.2 1190.6 956.5 1186.1 946.7C1181.6 936.8 1179.1 925.4 1179.1 914.8C1179.1 904.1 1181.6 892.7 1186.1 882.9C1190.6 873.1 1197.7 863.4 1206.0 855.9C1214.3 848.4 1225.0 841.9 1235.8 837.8C1246.6 833.7 1259.2 831.5 1270.9 831.5C1282.7 831.5 1295.3 833.7 1306.1 837.8C1316.9 841.9 1327.6 848.4 1335.9 855.9C1344.2 863.4 1351.3 873.1 1355.8 882.9C1360.3 892.7 1362.8 904.1 1362.8 914.8Z" fill="none" stroke="#2a0e92" stroke-width="15.5" stroke-opacity="0.72" stroke-linecap="round" stroke-linejoin="round" filter="url(#h3b4)" />
<path d="M1280.6 865.6C1283.9 869.1 1291.6 880.9 1300.0 886.9C1308.4 892.9 1321.0 898.4 1331.0 901.6C1341.0 904.8 1355.2 905.5 1360.1 906.3" fill="none" stroke="#2a0e92" stroke-width="13.2" stroke-opacity="0.65" stroke-linecap="round" stroke-linejoin="round" filter="url(#h3b4)" />
<path d="M1292.3 832.6C1300.6 828.8 1334.2 840.4 1346.5 852.0C1358.8 863.6 1369.1 895.3 1365.9 902.4C1362.6 909.5 1338.8 899.1 1327.1 894.6C1315.5 890.1 1301.9 885.6 1296.1 875.3C1290.3 864.9 1283.9 836.5 1292.3 832.6Z" fill="#3a10b0" fill-opacity="0.55" filter="url(#h3b6)"/>
<ellipse cx="1168.3" cy="797.8" rx="42.6" ry="15.5" fill="#14065c" fill-opacity="0.9" filter="url(#h3b6)"/>
<ellipse cx="1150.8" cy="972.1" rx="9.7" ry="13.6" fill="#14065c" fill-opacity="0.8" filter="url(#h3b4)"/>

</g>
<ellipse cx="1321.3" cy="862.1" rx="19.4" ry="22.5" fill="url(#hot)" filter="url(#h3b1)" transform="rotate(-35 1321.3 862.1)"/>
<ellipse cx="1324.4" cy="864.4" rx="6.2" ry="10.1" fill="#fffbe0" fill-opacity="1" filter="url(#h3b2)" transform="rotate(-40 1324.4 864.4)"/>
<rect x="1340.7" y="1014.8" width="42.6" height="14.3" fill="#fff"/>
</g>
<rect x="1407.3" y="793.2" width="250.0" height="249.6" fill="#000"/>
<g clip-path="url(#hc4)">
<g filter="url(#hgr4)">
<path d="M1633.3 915.9C1633.3 927.2 1630.6 939.3 1625.9 949.8C1621.2 960.2 1613.6 970.4 1604.9 978.4C1596.1 986.4 1584.9 993.3 1573.5 997.6C1562.0 1001.9 1548.7 1004.3 1536.4 1004.3C1524.0 1004.3 1510.7 1001.9 1499.3 997.6C1487.9 993.3 1476.6 986.4 1467.9 978.4C1459.1 970.4 1451.6 960.2 1446.9 949.8C1442.2 939.3 1439.5 927.2 1439.5 915.9C1439.5 904.7 1442.2 892.5 1446.9 882.1C1451.6 871.7 1459.1 861.4 1467.9 853.5C1476.6 845.5 1487.9 838.6 1499.3 834.3C1510.7 830.0 1524.0 827.6 1536.4 827.6C1548.7 827.6 1562.0 830.0 1573.5 834.3C1584.9 838.6 1596.1 845.5 1604.9 853.5C1613.6 861.4 1621.2 871.7 1625.9 882.1C1630.6 892.5 1633.3 904.7 1633.3 915.9Z" fill="none" stroke="#12065a" stroke-width="23.3" stroke-opacity="0.38" stroke-linecap="round" stroke-linejoin="round" filter="url(#h4b4)" />
<ellipse cx="1515.1" cy="937.3" rx="8.5" ry="5.4" fill="#1c0878" fill-opacity="0.9" filter="url(#h4b3)"/>

</g>
<ellipse cx="1601.1" cy="872.5" rx="22.1" ry="25.6" fill="url(#hot)" filter="url(#h4b1)"/>
<rect x="1600.3" y="1014.8" width="42.7" height="14.3" fill="#fff"/>
</g>
<rect x="1667" y="793.2" width="250.0" height="249.6" fill="#000"/>
<g clip-path="url(#hc5)">
<g filter="url(#hgr5)">
<path d="M1881.3 917.9C1881.3 929.0 1878.7 941.0 1874.2 951.2C1869.6 961.5 1862.4 971.7 1854.0 979.5C1845.6 987.4 1834.8 994.2 1823.9 998.4C1812.9 1002.7 1800.1 1005.1 1788.3 1005.1C1776.4 1005.1 1763.6 1002.7 1752.7 998.4C1741.7 994.2 1730.9 987.4 1722.5 979.5C1714.1 971.7 1706.9 961.5 1702.3 951.2C1697.8 941.0 1695.3 929.0 1695.3 917.9C1695.3 906.8 1697.8 894.8 1702.3 884.5C1706.9 874.2 1714.1 864.1 1722.5 856.2C1730.9 848.4 1741.7 841.6 1752.7 837.3C1763.6 833.1 1776.4 830.7 1788.3 830.7C1800.1 830.7 1812.9 833.1 1823.9 837.3C1834.8 841.6 1845.6 848.4 1854.0 856.2C1862.4 864.1 1869.6 874.2 1874.2 884.5C1878.7 894.8 1881.3 906.8 1881.3 917.9Z" fill="none" stroke="#0c0440" stroke-width="23.3" stroke-opacity="0.4" stroke-linecap="round" stroke-linejoin="round" filter="url(#h5b4)" />

</g>
<ellipse cx="1844.4" cy="866.7" rx="25.2" ry="27.9" fill="url(#hot)" filter="url(#h5b1)"/>
<rect x="1863.8" y="1014.8" width="39.5" height="14.3" fill="#fff"/>
</g>
<rect x="1148" y="1128" width="249.7" height="249.8" fill="#000"/>
<g clip-path="url(#hc6)">
<g filter="url(#hgr6)">
<path d="M1371.7 1252.9C1371.7 1264.0 1369.2 1276.0 1364.8 1286.2C1360.3 1296.5 1353.2 1306.7 1345.0 1314.5C1336.8 1322.4 1326.2 1329.2 1315.5 1333.4C1304.7 1337.7 1292.2 1340.1 1280.6 1340.1C1269.0 1340.1 1256.5 1337.7 1245.8 1333.4C1235.0 1329.2 1224.4 1322.4 1216.2 1314.5C1208.0 1306.7 1200.9 1296.5 1196.5 1286.2C1192.0 1276.0 1189.6 1264.0 1189.6 1252.9C1189.6 1241.8 1192.0 1229.8 1196.5 1219.5C1200.9 1209.2 1208.0 1199.1 1216.2 1191.2C1224.4 1183.4 1235.0 1176.6 1245.8 1172.3C1256.5 1168.1 1269.0 1165.7 1280.6 1165.7C1292.2 1165.7 1304.7 1168.1 1315.5 1172.3C1326.2 1176.6 1336.8 1183.4 1345.0 1191.2C1353.2 1199.1 1360.3 1209.2 1364.8 1219.5C1369.2 1229.8 1371.7 1241.8 1371.7 1252.9Z" fill="none" stroke="#0c0440" stroke-width="21.7" stroke-opacity="0.5" stroke-linecap="round" stroke-linejoin="round" filter="url(#h6b4)" />
<ellipse cx="1267.1" cy="1249.8" rx="14.0" ry="9.3" fill="#1a0870" fill-opacity="0.9" filter="url(#h6b4)"/>
<ellipse cx="1152.8" cy="1369.1" rx="15.5" ry="15.5" fill="#10054c" fill-opacity="0.8" filter="url(#h6b6)"/>

</g>
<ellipse cx="1317.4" cy="1206.0" rx="26.4" ry="27.1" fill="url(#hot)" filter="url(#h6b1)"/>
<rect x="1342.6" y="1350.5" width="40.7" height="13.6" fill="#fff"/>
</g>
<rect x="1407.3" y="1128" width="250.0" height="249.8" fill="#000"/>
<g clip-path="url(#hc7)">
<g filter="url(#hgr7)">
<path d="M1625.5 1256.8C1625.5 1268.6 1622.9 1281.4 1618.1 1292.3C1613.4 1303.3 1605.9 1314.1 1597.1 1322.5C1588.4 1330.9 1577.1 1338.1 1565.7 1342.7C1554.3 1347.2 1541.0 1349.8 1528.6 1349.8C1516.3 1349.8 1503.0 1347.2 1491.6 1342.7C1480.1 1338.1 1468.9 1330.9 1460.1 1322.5C1451.4 1314.1 1443.9 1303.3 1439.1 1292.3C1434.4 1281.4 1431.8 1268.6 1431.8 1256.8C1431.8 1244.9 1434.4 1232.1 1439.1 1221.2C1443.9 1210.2 1451.4 1199.4 1460.1 1191.0C1468.9 1182.6 1480.1 1175.4 1491.6 1170.8C1503.0 1166.3 1516.3 1163.8 1528.6 1163.8C1541.0 1163.8 1554.3 1166.3 1565.7 1170.8C1577.1 1175.4 1588.4 1182.6 1597.1 1191.0C1605.9 1199.4 1613.4 1210.2 1618.1 1221.2C1622.9 1232.1 1625.5 1244.9 1625.5 1256.8Z" fill="none" stroke="#0a0338" stroke-width="21.7" stroke-opacity="0.45" stroke-linecap="round" stroke-linejoin="round" filter="url(#h7b4)" />

</g>
<ellipse cx="1567.4" cy="1204.1" rx="29.5" ry="31.0" fill="url(#hot2)" filter="url(#h7b1)"/>
<rect x="1589.9" y="1350.5" width="53.1" height="13.6" fill="#fff"/>
</g>
<rect x="1670" y="1133.5" width="246.2" height="244.3" fill="#000"/>
<g clip-path="url(#hc8)">
<g filter="url(#hgr8)">
<path d="M1877.4 1260.6C1877.4 1272.5 1875.0 1285.3 1870.6 1296.2C1866.3 1307.2 1859.3 1318.0 1851.3 1326.4C1843.2 1334.8 1832.9 1342.0 1822.4 1346.5C1811.9 1351.1 1799.6 1353.6 1788.3 1353.6C1776.9 1353.6 1764.7 1351.1 1754.2 1346.5C1743.7 1342.0 1733.3 1334.8 1725.2 1326.4C1717.2 1318.0 1710.3 1307.2 1705.9 1296.2C1701.6 1285.3 1699.1 1272.5 1699.1 1260.6C1699.1 1248.8 1701.6 1236.0 1705.9 1225.0C1710.3 1214.1 1717.2 1203.3 1725.2 1194.9C1733.3 1186.5 1743.7 1179.2 1754.2 1174.7C1764.7 1170.2 1776.9 1167.6 1788.3 1167.6C1799.6 1167.6 1811.9 1170.2 1822.4 1174.7C1832.9 1179.2 1843.2 1186.5 1851.3 1194.9C1859.3 1203.3 1866.3 1214.1 1870.6 1225.0C1875.0 1236.0 1877.4 1248.8 1877.4 1260.6Z" fill="none" stroke="#0a0338" stroke-width="21.7" stroke-opacity="0.45" stroke-linecap="round" stroke-linejoin="round" filter="url(#h8b4)" />
<ellipse cx="1808.4" cy="1337.4" rx="11.6" ry="14.0" fill="#1a0870" fill-opacity="0.9" filter="url(#h8b4)"/>

</g>
<ellipse cx="1835.1" cy="1194.8" rx="27.9" ry="36.4" fill="url(#hot)" filter="url(#h8b1)" transform="rotate(-18 1835.1 1194.8)"/>
<rect x="1848.3" y="1351.7" width="53.1" height="13.6" fill="#fff"/>
</g>
<text transform="translate(1270,767.5) scale(1.04,1.0)" font-size="72.5" text-anchor="middle" >chassis</text>
<text transform="translate(1539,767.5) scale(1.04,1.0)" font-size="72.5" text-anchor="middle" >2x</text>
<text transform="translate(1803,767.5) scale(1.04,1.0)" font-size="72.5" text-anchor="middle" >3x</text>
<text transform="translate(1269,1104) scale(1.04,1.0)" font-size="72.5" text-anchor="middle" >4x</text>
<text transform="translate(1539,1104) scale(1.04,1.0)" font-size="72.5" text-anchor="middle" >5x</text>
<text transform="translate(1803,1104) scale(1.04,1.0)" font-size="72.5" text-anchor="middle" >6x</text>
<text transform="translate(1269,1443) scale(1.04,1.0)" font-size="72.5" text-anchor="middle" >7x</text>
<text transform="translate(1539,1443) scale(1.04,1.0)" font-size="72.5" text-anchor="middle" >8x</text>
<text transform="translate(1803,1443) scale(1.04,1.0)" font-size="72.5" text-anchor="middle" >9x</text>
</svg>
</body></html>
